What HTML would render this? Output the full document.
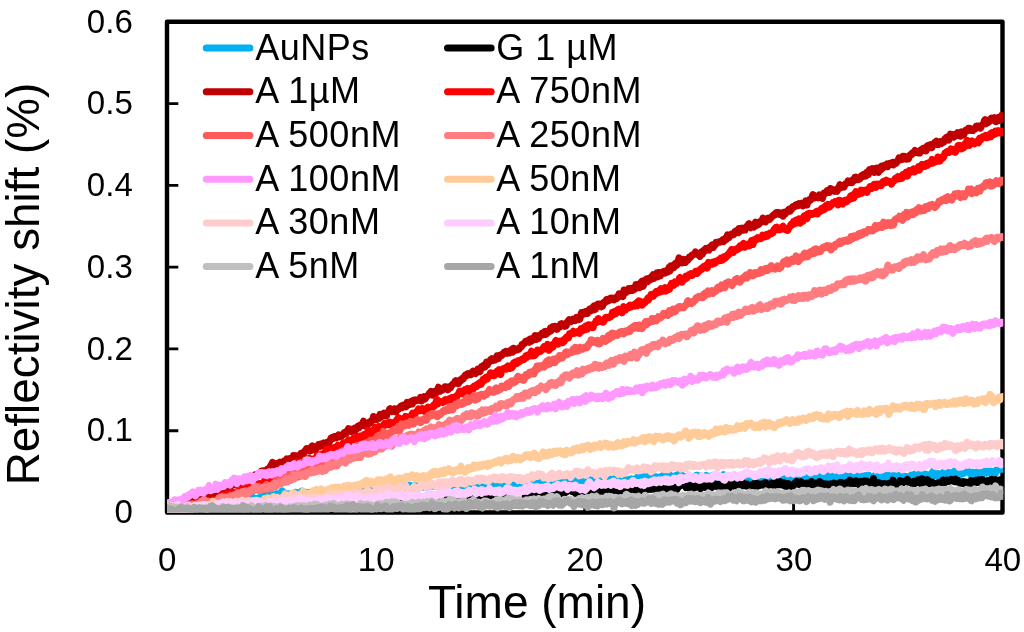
<!DOCTYPE html>
<html lang="en"><head><meta charset="utf-8"><title>Reflectivity shift vs time</title>
<style>
html,body{margin:0;padding:0;background:#fff}
body{width:1024px;height:632px;overflow:hidden}
svg{display:block}
text{font-family:"Liberation Sans",sans-serif;fill:#000}
.lg text{font-size:36px;letter-spacing:.5px}
.tk text{font-size:33.4px}
.ax{font-size:46px}
.ay{font-size:45.85px}
</style></head><body>
<svg width="1024" height="632" viewBox="0 0 1024 632">
<rect width="1024" height="632" fill="#fff"/>
<rect x="167.0" y="21.8" width="835.5" height="490.7" fill="none" stroke="#000" stroke-width="4.4" stroke-linejoin="round"/>
<path d="M167.0,430.7h11.3M167.0,348.9h11.3M167.0,267.1h11.3M167.0,185.4h11.3M167.0,103.6h11.3M375.9,512.5v-11.3M584.8,512.5v-11.3M793.6,512.5v-11.3" stroke="#000" stroke-width="2.9" fill="none"/>
<clipPath id="pa"><rect x="167.0" y="21.8" width="836.3" height="490.7"/></clipPath>
<g clip-path="url(#pa)" fill="none" stroke-width="7.0" stroke-linejoin="round" stroke-linecap="round">
<path stroke="#00B0F0" d="M167,504.7 167.5,505.9 168,506 168.5,507.3 169,507.7 169.5,506.4 170,504.5 170.5,506 171,507.3 171.5,507 172,505.7 172.5,506.1 173,506 173.5,506.7 174,508.2 174.5,507.1 175,507.5 175.5,508.2 176,506.9 176.5,506.8 177,507.1 177.5,506.5 178,505.5 178.5,506.9 179,507.7 179.5,506 180,507.4 180.5,507.3 181,507.2 181.5,509.4 182,508.2 182.5,506 183,506.7 183.5,507.2 184,506.6 184.5,506.8 185,506.4 185.5,507 186,507.2 186.5,505.4 187,505.3 187.5,505.1 188,505 188.5,504.1 189,504.5 189.5,505.5 190,506.9 190.5,506.6 191,504.1 191.5,504.1 192,504.6 192.5,502.6 193,503.1 193.5,504.2 194,505.2 194.5,504.4 195,502.8 195.5,502.2 196,502.7 196.5,503.8 197,502.3 197.5,501.9 198,502.5 198.5,502.2 199,501.7 199.5,501.2 200,502.1 200.5,502.8 201,504.4 201.5,504.4 202,503.9 202.5,504.2 203,504 203.5,504.9 204,504.6 204.5,504.3 205,503.1 205.5,503.5 206,501.7 206.5,501.3 207,502.8 207.5,503.2 208,504.9 208.5,506.4 209,503.8 209.5,503.2 210,504.1 210.5,504.2 211,503.4 211.5,503.2 212,503.8 212.5,503.1 213,501.4 213.5,501.7 214,501.5 214.5,500.5 215,500.9 215.5,500.6 216,501.8 216.5,501.4 217,500.7 217.5,500 218,499.6 218.5,498 219,498.7 219.5,499.7 220,498.7 220.5,500.1 221,499.4 221.5,500.8 222,500.8 222.5,502 223,501.5 223.5,500.7 224,503.3 224.5,504.1 225,502.6 225.5,501.9 226,501.7 226.5,501.6 227,503 227.5,502.1 228,501.8 228.5,501.1 229,500.7 229.5,500.9 230,502.8 230.5,502.4 231,502.7 231.5,501.7 232,500.6 232.5,500.5 233,500.4 233.5,500.6 234,500.2 234.5,499.6 235,498.5 235.5,499.6 236,501.5 236.5,499.7 237,499 237.5,500.8 238,501.4 238.5,499.1 239,499.2 239.5,498.6 240,498 240.5,499.7 241,499.6 241.5,498.8 242,498.1 242.5,498.6 243,497.9 243.5,497.6 244,496.7 244.5,497.2 245,499.4 245.5,498.8 246,499.1 246.5,499 247,498.5 247.5,498.7 248,499.5 248.5,498.9 249,498.7 249.5,499.2 250,500.1 250.5,499.7 251,498.7 251.5,497.1 252,496.5 252.5,498.6 253,499 253.5,498 254,498.4 254.5,499 255,499.4 255.5,499.2 256,498.7 256.5,499.6 257,498.3 257.5,499.6 258,500.2 258.5,500.8 259,501.9 259.5,500.8 260,497.5 260.5,496.8 261,498.5 261.5,497.7 262,498.3 262.5,498.5 263,495.8 263.5,495.1 264,497.2 264.5,497.5 265,497 265.5,496.6 266,495.2 266.5,494.4 267,495.1 267.5,494.2 268,493.8 268.5,495.6 269,495.8 269.5,495.6 270,494.4 270.5,494.1 271,493.9 271.5,494.2 272,495.1 272.5,494.8 273,495.6 273.5,496.6 274,497.1 274.5,494.9 275,495.8 275.5,495.6 276,494.8 276.5,493.7 277,494.7 277.5,496.1 278,495.8 278.5,495.6 279,495.9 279.5,496.9 280,495.4 280.5,493.1 281,493.4 281.5,491.9 282,490.8 282.5,493.6 283,495.9 283.5,494.4 284,492.4 284.5,492.8 285,494.6 285.5,494.2 286,493.8 286.5,493.8 287,494.3 287.5,495.3 288,495.4 288.5,494.7 289,494 289.5,494.9 290,494.9 290.5,495.6 291,494.2 291.5,494.7 292,494.8 292.5,494.6 293,497.3 293.5,497.4 294,495.6 294.5,496 295,494.8 295.5,492.3 296,494 296.5,494.5 297,493.9 297.5,492.7 298,492.9 298.5,493.5 299,494.5 299.5,493.7 300,493.5 300.5,494.2 301,492.5 301.5,491.3 302,491.1 302.5,494 303,494.5 303.5,494.1 304,493.5 304.5,492.9 305,492.7 305.5,492.3 306,492.4 306.5,493.3 307,494.8 307.5,494.2 308,493.2 308.5,492.5 309,493.1 309.5,495.2 310,494.7 310.5,493.8 311,492.9 311.5,492.4 312,493.6 312.5,494.5 313,493.4 313.5,493 314,493.1 314.5,492.6 315,491.2 315.5,491.6 316,491.8 316.5,492.7 317,491.9 317.5,493 318,493.7 318.5,492 319,491.3 319.5,492.1 320,491.9 320.5,491.4 321,493.2 321.5,494.6 322,492.7 322.5,491.7 323,491.3 323.5,492 324,491 324.5,491.7 325,493.7 325.5,493.2 326,494.9 326.5,495.8 327,494.7 327.5,495 328,495.7 328.5,493.5 329,491.8 329.5,491 330,492.5 330.5,494.1 331,493.2 331.5,490.8 332,490.1 332.5,490.6 333,491.2 333.5,490.9 334,491 334.5,490.9 335,490.2 335.5,490.3 336,490.6 336.5,490.7 337,491.8 337.5,493.2 338,492.3 338.5,490.9 339,489.8 339.5,490.7 340,489.3 340.5,490 341,492.7 341.5,493.1 342,491.7 342.5,490.2 343,491 343.5,491.6 344,493.4 344.5,494.8 345,492.6 345.5,490.5 346,489.9 346.5,490.8 347,490.6 347.5,489.9 348,490.5 348.5,490.5 349,492.6 349.5,493.5 350,493.1 350.5,491.9 351,492.2 351.5,491.7 352,491.1 352.5,490.6 353,489.3 353.5,489.5 354,491.4 354.5,491.1 355,491.4 355.5,491.4 356,489 356.5,489.4 357,490.9 357.5,491.2 358,490.9 358.5,491.8 359,490.9 359.5,489 360,489.4 360.5,491.1 361,490.4 361.5,488.8 362,491 362.5,491.5 363,491.4 363.5,489.7 364,488.9 364.5,489.4 365,492.1 365.5,491.3 366,491.5 366.5,490.2 367,489.7 367.5,488.6 368,489.8 368.5,491 369,489.9 369.5,491.3 370,490.8 370.5,489.1 371,489.1 371.5,489.3 372,489.4 372.5,488.8 373,488.4 373.5,488.5 374,487.8 374.5,487.8 375,489.4 375.5,490.2 376,488.7 376.5,489.4 377,489.3 377.5,489.5 378,490.9 378.5,490.7 379,491.4 379.5,489.9 380,489.8 380.5,488.9 381,488.2 381.5,488.8 382,488.4 382.5,488.5 383,487.5 383.5,486.4 384,487.1 384.5,487.9 385,488.3 385.5,486.9 386,486.6 386.5,485.8 387,487.1 387.5,485.7 388,484.8 388.5,486.8 389,487.8 389.5,485.5 390,485.3 390.5,485.7 391,486 391.5,487.1 392,486.3 392.5,486.4 393,487.2 393.5,486.5 394,486.7 394.5,485.5 395,484.5 395.5,485.2 396,488.2 396.5,487.5 397,487.2 397.5,487.2 398,487.2 398.5,487.7 399,488.5 399.5,485.7 400,484.3 400.5,484.6 401,485.2 401.5,487.5 402,487.8 402.5,485.9 403,485.2 403.5,486.9 404,487.6 404.5,484.9 405,486.3 405.5,486.5 406,487.4 406.5,486.2 407,485.9 407.5,485.1 408,486.2 408.5,488.9 409,488.8 409.5,487.2 410,486 410.5,485.4 411,486.9 411.5,487.8 412,487.8 412.5,487.3 413,486.4 413.5,486.9 414,487.5 414.5,488.9 415,488.9 415.5,486.5 416,485.1 416.5,485.3 417,484.8 417.5,484.6 418,485 418.5,484.8 419,486.1 419.5,486.2 420,486.3 420.5,485.9 421,485.3 421.5,485.3 422,486.1 422.5,486.4 423,487.2 423.5,486.9 424,486 424.5,486.6 425,486 425.5,486.4 426,486.4 426.5,485.4 427,487 427.5,487.6 428,486.9 428.5,486.3 429,485.7 429.5,485 430,485.2 430.5,485.3 431,485.3 431.5,484.7 432,485.9 432.5,486.3 433,486 433.5,486.1 434,486.3 434.5,484.9 435,486.2 435.5,486.5 436,486.3 436.5,485.9 437,484.7 437.5,485 438,486 438.5,486.1 439,485.2 439.5,484.1 440,486 440.5,487.4 441,487.2 441.5,485.7 442,484.4 442.5,486 443,484.8 443.5,482.9 444,484.4 444.5,483.4 445,483.2 445.5,484.6 446,486.2 446.5,485.4 447,486.1 447.5,487.9 448,487.8 448.5,485.9 449,484.9 449.5,484 450,484.6 450.5,486 451,486.1 451.5,486 452,486 452.5,484.4 453,484.6 453.5,485.4 454,485.5 454.5,485.5 455,484.5 455.5,483.5 456,483.4 456.5,481.9 457,481.6 457.5,483.6 458,484 458.5,483.6 459,482.2 459.5,483 460,483.3 460.5,482.5 461,481.7 461.5,483.8 462,485.7 462.5,485.4 463,484.4 463.5,485.1 464,484.9 464.5,482.4 465,484.3 465.5,486 466,486.8 466.5,487.8 467,487.3 467.5,486.3 468,486.2 468.5,486.4 469,485.4 469.5,485.9 470,487.6 470.5,488.2 471,486.2 471.5,485.4 472,485.9 472.5,486.4 473,485.5 473.5,485.4 474,483.3 474.5,483 475,483.5 475.5,484.6 476,484.3 476.5,482 477,482.4 477.5,483.8 478,483 478.5,482.7 479,484.9 479.5,485.2 480,484.5 480.5,483.9 481,484.6 481.5,484.3 482,484.6 482.5,483.1 483,483 483.5,484 484,484 484.5,485.1 485,484.8 485.5,483.7 486,484.1 486.5,484.4 487,485 487.5,483.8 488,484 488.5,486.2 489,487.7 489.5,487.1 490,484.9 490.5,484.8 491,485.7 491.5,484 492,482.9 492.5,483.8 493,484 493.5,482.4 494,481 494.5,481.6 495,483.3 495.5,482.6 496,482.7 496.5,483.4 497,483.4 497.5,482.7 498,482.6 498.5,481.5 499,481.2 499.5,481.4 500,483.1 500.5,482.4 501,481.5 501.5,481.8 502,482.5 502.5,482.9 503,481 503.5,481.1 504,483.1 504.5,485.9 505,484.9 505.5,483.5 506,484.5 506.5,485.5 507,483.5 507.5,483.2 508,484.7 508.5,484.6 509,484.1 509.5,483.8 510,485.8 510.5,485.9 511,484.5 511.5,483 512,481 512.5,482.5 513,482.7 513.5,483.1 514,483.2 514.5,481.8 515,480.8 515.5,482.3 516,482.2 516.5,482.4 517,482.7 517.5,482.5 518,482.1 518.5,485.1 519,485.8 519.5,486.8 520,487.3 520.5,484.7 521,482 521.5,481.9 522,481.7 522.5,482 523,481.7 523.5,480 524,480.8 524.5,480 525,481 525.5,481.2 526,481.1 526.5,481.4 527,481.3 527.5,481.1 528,480.9 528.5,483.3 529,486.2 529.5,486.8 530,485.9 530.5,484.4 531,483.2 531.5,484.1 532,482.9 532.5,481.9 533,481.4 533.5,481.3 534,480.7 534.5,480.4 535,479.6 535.5,480.9 536,483.2 536.5,481.5 537,480.9 537.5,481.8 538,481.7 538.5,480.3 539,481.2 539.5,482.7 540,482.6 540.5,482.9 541,483.8 541.5,482.4 542,482.4 542.5,482.9 543,483.7 543.5,481.3 544,481.6 544.5,482.8 545,484.1 545.5,484.8 546,484.5 546.5,482.3 547,483.2 547.5,482.6 548,482 548.5,482.4 549,480.7 549.5,479.3 550,480.2 550.5,479.8 551,480.7 551.5,482 552,482.8 552.5,483.5 553,481.4 553.5,479.5 554,479.6 554.5,479.4 555,479.5 555.5,480.7 556,479.5 556.5,478.7 557,480.9 557.5,481.3 558,481.7 558.5,482.1 559,482.6 559.5,482.9 560,483.9 560.5,483.6 561,483.3 561.5,482.6 562,481 562.5,481.5 563,481.8 563.5,481.5 564,480.8 564.5,482.7 565,481.4 565.5,479.1 566,478.4 566.5,479.7 567,480.2 567.5,479.8 568,480.3 568.5,480.4 569,481.1 569.5,480.5 570,481.3 570.5,483.3 571,484.2 571.5,481.1 572,480.2 572.5,480.6 573,481.4 573.5,480.1 574,480.3 574.5,480.7 575,479.8 575.5,479.7 576,479.7 576.5,478.4 577,479 577.5,480.6 578,481.5 578.5,480.8 579,479.4 579.5,480.8 580,482.5 580.5,482.6 581,481.6 581.5,481.2 582,482.4 582.5,481.6 583,480.9 583.5,482 584,484.3 584.5,484.1 585,484.1 585.5,483.1 586,483.3 586.5,482.1 587,482.7 587.5,484.9 588,483.3 588.5,481.4 589,481.4 589.5,482.4 590,483 590.5,481.2 591,479.9 591.5,481.2 592,482.1 592.5,482.7 593,483.6 593.5,482.9 594,482.2 594.5,480.7 595,482.4 595.5,483.7 596,482.3 596.5,481 597,481.2 597.5,481.8 598,479.7 598.5,479.8 599,480.9 599.5,481 600,480.2 600.5,480.4 601,480.3 601.5,480.5 602,480 602.5,479.3 603,480.5 603.5,481.3 604,479.9 604.5,480.4 605,481.1 605.5,480 606,480.2 606.5,480 607,482.2 607.5,484.1 608,483.2 608.5,480.8 609,480.7 609.5,480.2 610,480.4 610.5,480.8 611,479.1 611.5,480.2 612,480.4 612.5,481.1 613,480.1 613.5,479.1 614,480 614.5,480.7 615,480.3 615.5,480.3 616,478.9 616.5,477.9 617,480.6 617.5,481.4 618,480.7 618.5,480.9 619,481.4 619.5,480.2 620,479.6 620.5,480.7 621,481.5 621.5,480.1 622,481.3 622.5,480 623,479.6 623.5,481.4 624,480.2 624.5,478.7 625,479.7 625.5,481.5 626,481.7 626.5,480.3 627,480.7 627.5,480.9 628,479.9 628.5,480.3 629,480 629.5,479.3 630,479.3 630.5,479.8 631,479.6 631.5,478.9 632,479.2 632.5,480.5 633,480.1 633.5,480.5 634,480.6 634.5,480.5 635,480.8 635.5,478.6 636,478.9 636.5,479.1 637,481.1 637.5,480.5 638,476.8 638.5,477.1 639,479.1 639.5,479.5 640,478.8 640.5,477.6 641,477.6 641.5,477.4 642,476.8 642.5,476.4 643,474.3 643.5,475.7 644,475.9 644.5,477.3 645,476.8 645.5,476.4 646,477.4 646.5,476.7 647,476.2 647.5,476.1 648,477.7 648.5,478.9 649,479 649.5,478.2 650,478.5 650.5,477.6 651,477.2 651.5,478 652,478.2 652.5,476.9 653,476.6 653.5,476.8 654,476.8 654.5,476.6 655,477.9 655.5,477.5 656,477.5 656.5,476.9 657,477.8 657.5,477.9 658,477.9 658.5,479.6 659,479.1 659.5,479.6 660,478.6 660.5,476.6 661,476.6 661.5,477.5 662,477.5 662.5,477.3 663,476.4 663.5,475.2 664,475.6 664.5,474.8 665,476.3 665.5,475.9 666,475.5 666.5,476.1 667,476.1 667.5,474.3 668,473.6 668.5,474 669,473.8 669.5,475.7 670,478 670.5,476.8 671,477 671.5,476 672,476.8 672.5,476.7 673,476.9 673.5,477.9 674,478.8 674.5,477.5 675,476.4 675.5,475.7 676,476.6 676.5,476.5 677,476.9 677.5,476.8 678,476.9 678.5,474 679,474.9 679.5,476.3 680,475.3 680.5,474.7 681,474.9 681.5,474.7 682,477 682.5,479.9 683,478.9 683.5,476.4 684,476.3 684.5,477.8 685,479.1 685.5,477.9 686,478.2 686.5,480 687,480.2 687.5,478.5 688,477 688.5,476.4 689,476.4 689.5,476 690,478 690.5,477.9 691,479 691.5,480.7 692,479.6 692.5,477.6 693,479.1 693.5,479.5 694,477.5 694.5,476.9 695,477.1 695.5,476.8 696,478 696.5,475.2 697,475.3 697.5,476.6 698,477 698.5,477.5 699,477.7 699.5,477.8 700,478 700.5,475.8 701,476.8 701.5,477.1 702,477.8 702.5,477.7 703,476.4 703.5,476.6 704,477.8 704.5,477.2 705,476.7 705.5,479.1 706,478.9 706.5,475.4 707,476.8 707.5,479.3 708,478.2 708.5,477 709,476.4 709.5,476.2 710,476.5 710.5,476.8 711,477.7 711.5,476.8 712,476 712.5,475.4 713,475.8 713.5,475.4 714,476.1 714.5,477.3 715,477 715.5,476.8 716,476.7 716.5,476.3 717,476.1 717.5,476.3 718,476.9 718.5,476.4 719,478 719.5,477.3 720,476.2 720.5,476.2 721,476.4 721.5,477 722,477.1 722.5,478.2 723,476.3 723.5,474.7 724,475.4 724.5,475.3 725,477.4 725.5,479.2 726,478.4 726.5,476.4 727,477.3 727.5,479.8 728,479.2 728.5,478.8 729,480.4 729.5,481.9 730,480.8 730.5,479.1 731,478.9 731.5,478.6 732,476.9 732.5,476 733,476.4 733.5,475.8 734,476.2 734.5,477.4 735,478.8 735.5,476.5 736,476.4 736.5,477.1 737,478.2 737.5,478.8 738,477.5 738.5,476.5 739,475.9 739.5,476.9 740,478.5 740.5,478 741,476.7 741.5,477 742,477.7 742.5,477.7 743,476.7 743.5,475.9 744,474.4 744.5,475.4 745,477.2 745.5,474.6 746,475.4 746.5,476.5 747,476 747.5,475.7 748,476.6 748.5,477.2 749,476.7 749.5,475.6 750,476.7 750.5,476.8 751,477.2 751.5,478.2 752,478.9 752.5,478.7 753,477.6 753.5,478.6 754,479.2 754.5,479.2 755,478.8 755.5,477.2 756,476.9 756.5,477.1 757,475.6 757.5,476.3 758,476.1 758.5,475.5 759,474.4 759.5,475.3 760,477 760.5,478.4 761,478.6 761.5,477.6 762,477 762.5,476.9 763,477.9 763.5,478.1 764,479.3 764.5,480.4 765,478.6 765.5,476.8 766,476.9 766.5,476.6 767,477.6 767.5,480 768,479.1 768.5,477.5 769,479.3 769.5,480 770,478.2 770.5,477.3 771,477.6 771.5,478.3 772,478.9 772.5,479.4 773,479.4 773.5,479.2 774,478.9 774.5,477.2 775,475 775.5,475.8 776,476.5 776.5,476.4 777,477.1 777.5,476.1 778,476 778.5,478.2 779,478.3 779.5,478 780,479 780.5,479.4 781,478 781.5,475.6 782,476.8 782.5,477.6 783,477.5 783.5,479 784,479.8 784.5,478.1 785,477.8 785.5,480 786,478 786.5,476.6 787,477.7 787.5,477.8 788,476.9 788.5,477.4 789,476.1 789.5,475.2 790,476.2 790.5,476.5 791,475.4 791.5,475.7 792,476.6 792.5,478.4 793,476.5 793.5,477.1 794,476.3 794.5,476 795,477 795.5,477.6 796,477.7 796.5,476.5 797,475.2 797.5,475.4 798,476.7 798.5,477.6 799,478.3 799.5,477.9 800,478.5 800.5,478.9 801,477.1 801.5,475 802,474.6 802.5,475.6 803,477.9 803.5,477.2 804,478.4 804.5,479 805,479.8 805.5,479.1 806,477.7 806.5,477.3 807,477.5 807.5,477.3 808,476.6 808.5,477.3 809,477.9 809.5,475.5 810,476 810.5,475.9 811,477 811.5,478 812,477.8 812.5,477.7 813,476.7 813.5,478.4 814,478.2 814.5,478.9 815,477.9 815.5,475.4 816,476.7 816.5,478.8 817,480 817.5,479 818,477.7 818.5,476.8 819,479.2 819.5,479.8 820,477.8 820.5,476.3 821,475.5 821.5,478.4 822,480.5 822.5,479.3 823,479 823.5,477.9 824,476.9 824.5,478 825,476.5 825.5,476.9 826,478.1 826.5,478.7 827,478.4 827.5,477.8 828,476.3 828.5,475.8 829,476.8 829.5,476.3 830,475.5 830.5,475.8 831,476.4 831.5,475.6 832,475.8 832.5,476.5 833,478.6 833.5,480.2 834,480.8 834.5,477.9 835,478 835.5,479.5 836,478.6 836.5,478.6 837,479.8 837.5,477.8 838,475.9 838.5,475.8 839,477.4 839.5,477.3 840,475.7 840.5,476.3 841,478.3 841.5,478.8 842,478.3 842.5,479.4 843,479.1 843.5,477.1 844,478 844.5,478.8 845,477.1 845.5,475.5 846,477 846.5,478.9 847,478.7 847.5,476.5 848,478.9 848.5,477.3 849,478.2 849.5,479.1 850,478.6 850.5,477.2 851,476.2 851.5,477.2 852,475.9 852.5,475.6 853,480 853.5,480.2 854,479.6 854.5,477.9 855,479.5 855.5,480.3 856,479.7 856.5,477.4 857,475.8 857.5,475.7 858,474 858.5,474.4 859,476.1 859.5,475.9 860,476.4 860.5,477.4 861,479.4 861.5,478.9 862,477.6 862.5,477.7 863,476.2 863.5,476.4 864,477.2 864.5,475.8 865,475.8 865.5,475.6 866,477.4 866.5,478.8 867,477.1 867.5,476.9 868,475.8 868.5,475 869,475.6 869.5,478.7 870,479.9 870.5,477.7 871,476.3 871.5,477.2 872,477.1 872.5,477.9 873,477.8 873.5,477.8 874,477.7 874.5,476.6 875,475.8 875.5,474.7 876,475.2 876.5,475 877,475.7 877.5,475.7 878,476.7 878.5,477 879,475.4 879.5,475.5 880,476.3 880.5,478.5 881,479.8 881.5,478.7 882,477.6 882.5,477.9 883,476.3 883.5,477.6 884,475.6 884.5,474.4 885,479.1 885.5,478.9 886,476.1 886.5,476.3 887,476.4 887.5,476.1 888,474.7 888.5,475.4 889,476.8 889.5,477.3 890,477.8 890.5,477.7 891,478.6 891.5,476.5 892,475.8 892.5,474.2 893,475.2 893.5,477.6 894,476.8 894.5,477.4 895,477 895.5,475.9 896,476.2 896.5,476.2 897,476.5 897.5,477.7 898,477.5 898.5,475.9 899,475.5 899.5,476.5 900,477 900.5,478.8 901,480.4 901.5,478.9 902,477.4 902.5,476.9 903,476.1 903.5,475.8 904,475.9 904.5,476.5 905,477.1 905.5,478 906,477.2 906.5,476.6 907,476.6 907.5,478.8 908,479 908.5,479.4 909,478.8 909.5,478.2 910,476.6 910.5,477.3 911,478.1 911.5,475.1 912,476.2 912.5,477 913,475.8 913.5,475.9 914,475.9 914.5,474.3 915,474.4 915.5,473.4 916,473.2 916.5,473.5 917,474.2 917.5,474.8 918,474.6 918.5,473.8 919,476.5 919.5,476.6 920,475.3 920.5,473.9 921,473.9 921.5,474.6 922,473.9 922.5,472.5 923,475.3 923.5,476.9 924,473.6 924.5,474.9 925,475.3 925.5,475.3 926,476 926.5,474.4 927,475.5 927.5,476.9 928,475.4 928.5,474.7 929,474.8 929.5,474.9 930,475.8 930.5,474.2 931,474.3 931.5,473.3 932,474.3 932.5,473.3 933,471.3 933.5,473 934,473.2 934.5,474.3 935,475.8 935.5,473.6 936,473.6 936.5,475.9 937,475.8 937.5,476.4 938,475.1 938.5,473.6 939,474.5 939.5,476.1 940,475.8 940.5,474.6 941,474.1 941.5,473.6 942,473.8 942.5,475.5 943,473.8 943.5,472 944,472.8 944.5,474.4 945,474.5 945.5,473.5 946,473 946.5,472.9 947,471.4 947.5,471.9 948,473.8 948.5,473.2 949,473.8 949.5,474.7 950,474 950.5,473.7 951,475.2 951.5,474 952,472.7 952.5,473.5 953,473.1 953.5,472 954,472.5 954.5,471.9 955,470.6 955.5,471.9 956,472.4 956.5,471.8 957,470.9 957.5,472.1 958,473 958.5,472.8 959,472.2 959.5,473 960,472 960.5,473 961,474.3 961.5,472.8 962,472.8 962.5,474 963,472.9 963.5,472.6 964,473.3 964.5,473 965,470 965.5,470.1 966,470.2 966.5,470.1 967,470.3 967.5,470.9 968,471.8 968.5,471.5 969,472.5 969.5,472.9 970,472.3 970.5,473.6 971,475.2 971.5,474 972,472.7 972.5,472.7 973,472.3 973.5,473.5 974,473.9 974.5,472.5 975,473 975.5,474.1 976,473 976.5,472.7 977,471.7 977.5,471.6 978,472.9 978.5,475 979,473.2 979.5,472.1 980,472.2 980.5,472.9 981,473.8 981.5,474.2 982,475.3 982.5,474.3 983,474.5 983.5,473.7 984,472.9 984.5,471.3 985,472.1 985.5,472.7 986,472 986.5,471 987,473.2 987.5,472.8 988,472.3 988.5,472.4 989,472.5 989.5,472.5 990,470.9 990.5,470.9 991,472.3 991.5,472.3 992,471.7 992.5,471.2 993,471.2 993.5,472.4 994,473.1 994.5,472 995,473.6 995.5,473.2 996,471.8 996.5,471.7 997,469.3 997.5,468.1 998,468.6 998.5,469.5 999,469.6 999.5,469.5 1000,469.1 1000.5,467.8 1001,469.2 1001.5,468.4 1002,468.6 1002.5,469.0"/>
<path stroke="#000000" d="M167,512 167.5,511.6 168,508.1 168.5,508.9 169,511.3 169.5,509.3 170,507.7 170.5,508.5 171,508.6 171.5,508.3 172,508 172.5,508.1 173,508.5 173.5,509.2 174,508.8 174.5,509.3 175,510.4 175.5,511.9 176,511.2 176.5,510.5 177,510.7 177.5,510.8 178,510.9 178.5,510.7 179,511.5 179.5,510.9 180,509 180.5,508.6 181,509.8 181.5,509.8 182,508.5 182.5,506.7 183,506.5 183.5,508.8 184,510 184.5,509.3 185,507.7 185.5,508.9 186,508.4 186.5,508.9 187,508.9 187.5,507.8 188,507.2 188.5,506.2 189,506.7 189.5,507 190,509 190.5,509.7 191,510.3 191.5,509.7 192,508.7 192.5,509.1 193,509 193.5,509.6 194,509.2 194.5,508 195,508.6 195.5,508.9 196,509 196.5,510.5 197,511.2 197.5,509.4 198,508.1 198.5,506.9 199,508.5 199.5,508.3 200,507.2 200.5,509.2 201,509.7 201.5,508.2 202,507.6 202.5,507.5 203,508 203.5,506.4 204,507.5 204.5,509.5 205,508.2 205.5,507.6 206,506.6 206.5,505.6 207,506.5 207.5,506.9 208,506.1 208.5,507.4 209,508.9 209.5,508.1 210,505.5 210.5,505 211,505.6 211.5,508.2 212,508.7 212.5,508.1 213,506.3 213.5,505.8 214,506.9 214.5,506.9 215,506.1 215.5,506.9 216,507.6 216.5,506.8 217,504.8 217.5,503.9 218,505.8 218.5,506.9 219,506.7 219.5,506.5 220,506.9 220.5,508.3 221,508.2 221.5,507.9 222,507 222.5,507.3 223,507.9 223.5,506.8 224,506.5 224.5,507.9 225,509.6 225.5,509.5 226,510.1 226.5,508.8 227,507.8 227.5,506.9 228,508.2 228.5,510.3 229,510 229.5,510 230,509.8 230.5,508.9 231,508.5 231.5,508.9 232,509.5 232.5,509.4 233,509.1 233.5,508.3 234,507.3 234.5,507.2 235,507.4 235.5,508.2 236,506.3 236.5,508.3 237,511 237.5,508.7 238,507.3 238.5,508.7 239,509.9 239.5,508.9 240,508.9 240.5,508.3 241,508.7 241.5,511.1 242,508.6 242.5,506.7 243,506.7 243.5,507.6 244,507.9 244.5,507.9 245,506.5 245.5,505.1 246,506.1 246.5,505.7 247,504.8 247.5,503.7 248,504.2 248.5,504.6 249,504.8 249.5,504.2 250,505.4 250.5,505.7 251,504.6 251.5,504.6 252,505.1 252.5,505.6 253,503.1 253.5,503.6 254,503.2 254.5,504.3 255,505.5 255.5,504.5 256,504.5 256.5,504.7 257,507.2 257.5,507.4 258,506.6 258.5,504.4 259,504.8 259.5,507.1 260,506.7 260.5,506.6 261,506.7 261.5,506 262,507.3 262.5,507.3 263,507.1 263.5,506.3 264,506.7 264.5,506.3 265,507.7 265.5,508.4 266,508 266.5,507.5 267,506.2 267.5,503.8 268,506 268.5,506.1 269,505.9 269.5,505.1 270,504.1 270.5,505 271,506.8 271.5,507.2 272,505.1 272.5,504.9 273,506.5 273.5,505.9 274,507.6 274.5,506.3 275,505.3 275.5,507.4 276,507.8 276.5,505.8 277,507.4 277.5,507.1 278,507.7 278.5,505.9 279,504.7 279.5,506.7 280,508.2 280.5,509.4 281,508.9 281.5,507.1 282,505.5 282.5,504.8 283,504.7 283.5,504.4 284,504.1 284.5,502.9 285,505.1 285.5,506.9 286,509.1 286.5,507.6 287,506 287.5,506 288,504.6 288.5,504.2 289,504.2 289.5,507.1 290,506.8 290.5,505.1 291,506.1 291.5,507.5 292,507.4 292.5,506.6 293,505.2 293.5,505.1 294,506.1 294.5,506.5 295,504.6 295.5,504.5 296,506.1 296.5,505.4 297,506.6 297.5,506.6 298,507.4 298.5,508.1 299,507.3 299.5,506.3 300,504.5 300.5,504.6 301,506.3 301.5,507.6 302,507.9 302.5,507.9 303,505.9 303.5,505.1 304,505.4 304.5,504.4 305,503.5 305.5,503.1 306,504.1 306.5,503.2 307,503.5 307.5,503 308,504.3 308.5,503.6 309,504 309.5,502.5 310,503.4 310.5,504.9 311,503.7 311.5,503.7 312,502.7 312.5,501.4 313,503.6 313.5,504 314,502.9 314.5,503.7 315,502.7 315.5,502.4 316,503.2 316.5,504 317,505.7 317.5,503.5 318,504.8 318.5,504.9 319,501.9 319.5,501.9 320,504.1 320.5,504 321,504.7 321.5,505.1 322,503.4 322.5,501.4 323,500.3 323.5,502.4 324,502.7 324.5,503.6 325,503.5 325.5,503 326,505.8 326.5,506.4 327,505.4 327.5,503.7 328,504 328.5,504.4 329,504.5 329.5,504.4 330,505.9 330.5,506.2 331,505.9 331.5,505.4 332,506.4 332.5,504.5 333,501.3 333.5,502.5 334,504 334.5,504.7 335,503.6 335.5,503.1 336,503.2 336.5,504.2 337,503.5 337.5,503 338,503.3 338.5,504.4 339,503.3 339.5,502.5 340,504.1 340.5,503.9 341,504.5 341.5,505.2 342,506 342.5,505.5 343,503.8 343.5,503.3 344,503.3 344.5,505.6 345,505.6 345.5,505.5 346,503.3 346.5,502 347,504.6 347.5,504.3 348,503.8 348.5,503.9 349,504.6 349.5,504 350,502.7 350.5,504.4 351,503.8 351.5,504.2 352,506.4 352.5,505.9 353,503.7 353.5,502.2 354,503.9 354.5,504.6 355,503.5 355.5,502 356,501.8 356.5,501.9 357,503.5 357.5,504.7 358,504.5 358.5,503 359,503.5 359.5,503.8 360,502.9 360.5,503.7 361,505.6 361.5,504.5 362,504.1 362.5,503 363,502.3 363.5,501.1 364,502.6 364.5,504.8 365,505.8 365.5,504.9 366,503.7 366.5,502.6 367,501.8 367.5,502.3 368,502.8 368.5,502.3 369,503.1 369.5,501.4 370,500.2 370.5,500.6 371,500.3 371.5,501.2 372,503.5 372.5,502.9 373,503 373.5,504 374,503.6 374.5,502.1 375,502.9 375.5,502.1 376,501.3 376.5,500.8 377,499.1 377.5,499.3 378,500.5 378.5,501.2 379,500.6 379.5,501 380,502.6 380.5,503.4 381,503.2 381.5,503.1 382,501.6 382.5,501.4 383,502 383.5,501.5 384,501.8 384.5,503.4 385,501.8 385.5,500.8 386,502.5 386.5,503.7 387,502.5 387.5,502.3 388,500.6 388.5,499.6 389,499.4 389.5,500.4 390,501.5 390.5,499.8 391,500.7 391.5,499 392,499.2 392.5,500.5 393,500.4 393.5,499.2 394,497.7 394.5,498.7 395,499.3 395.5,501.8 396,500.4 396.5,499.4 397,498.5 397.5,498.5 398,498.8 398.5,500.7 399,500.6 399.5,500.8 400,500 400.5,500.7 401,502.1 401.5,500.3 402,499.6 402.5,501.3 403,500.8 403.5,501.5 404,502.6 404.5,501.7 405,502.3 405.5,501.8 406,503.3 406.5,502.9 407,500.7 407.5,499.7 408,499.2 408.5,500.1 409,500.3 409.5,498.5 410,499.2 410.5,497.8 411,497.3 411.5,498 412,501.2 412.5,500.5 413,499.6 413.5,499.2 414,499.4 414.5,497.2 415,499 415.5,501 416,499.1 416.5,498.7 417,499.1 417.5,498 418,498.7 418.5,499.8 419,499.5 419.5,499.2 420,498.8 420.5,499.3 421,499.9 421.5,501.2 422,500.6 422.5,498.5 423,497 423.5,499.6 424,500.2 424.5,497.9 425,496.4 425.5,497.6 426,499.4 426.5,498.1 427,498.1 427.5,499.2 428,499.9 428.5,498.7 429,497.8 429.5,497.8 430,499.6 430.5,499.1 431,497 431.5,495.2 432,495.7 432.5,496.8 433,496.2 433.5,497.1 434,496.9 434.5,496.7 435,497 435.5,496.6 436,495.5 436.5,496.9 437,499.1 437.5,496.8 438,497.3 438.5,499.1 439,498.4 439.5,497.2 440,497.2 440.5,499.3 441,500.6 441.5,500.6 442,499.5 442.5,499.2 443,497.6 443.5,497.6 444,497.3 444.5,498 445,498.9 445.5,498.7 446,497.4 446.5,498.5 447,497.3 447.5,496.5 448,497 448.5,496.6 449,498.1 449.5,499 450,499.1 450.5,499.7 451,499.4 451.5,499 452,498.2 452.5,499.1 453,498.8 453.5,498.9 454,499.4 454.5,499 455,497 455.5,496.6 456,498.1 456.5,499.1 457,499.2 457.5,499.7 458,499.8 458.5,498.7 459,497.3 459.5,495.9 460,495.7 460.5,496.5 461,497.5 461.5,497.8 462,497.7 462.5,498 463,498.9 463.5,498.9 464,499 464.5,498.7 465,497.5 465.5,497 466,498.1 466.5,498 467,496.9 467.5,497.1 468,498.5 468.5,496.2 469,495.7 469.5,495.7 470,494.7 470.5,496.1 471,498 471.5,497.4 472,496.5 472.5,496 473,495.6 473.5,495.9 474,495 474.5,494.7 475,495.7 475.5,497 476,497.3 476.5,497 477,495.7 477.5,499 478,501.2 478.5,499.9 479,497.4 479.5,496.4 480,496.6 480.5,495.9 481,496.5 481.5,496 482,497 482.5,496.6 483,493.7 483.5,494.5 484,493.9 484.5,493 485,493.7 485.5,494.9 486,495.7 486.5,494.5 487,496.9 487.5,498.6 488,497.6 488.5,496.9 489,495.9 489.5,494.9 490,496.1 490.5,496.5 491,497.4 491.5,498.7 492,497.2 492.5,496.6 493,496.7 493.5,494 494,493.5 494.5,494.3 495,494.8 495.5,495.7 496,495.8 496.5,497.6 497,497.7 497.5,496.2 498,494.9 498.5,495.5 499,495.2 499.5,493.6 500,494.5 500.5,495.1 501,495 501.5,496.1 502,495.4 502.5,493.3 503,493.3 503.5,493.1 504,493.9 504.5,493.7 505,495.2 505.5,495.7 506,496.1 506.5,494.9 507,494.5 507.5,497.1 508,496.8 508.5,497.5 509,497 509.5,497.2 510,497.8 510.5,496.8 511,496 511.5,493.8 512,494.6 512.5,493.9 513,493.4 513.5,493.4 514,494.1 514.5,494.2 515,491.4 515.5,491.7 516,492.2 516.5,493.3 517,492.6 517.5,492.7 518,492.6 518.5,493.8 519,494.3 519.5,493.3 520,492.9 520.5,492.3 521,493.9 521.5,494.6 522,493.9 522.5,494 523,491.2 523.5,490.4 524,491.4 524.5,492.8 525,493.7 525.5,493.9 526,494.2 526.5,494.7 527,493.5 527.5,492.2 528,493.2 528.5,495.2 529,492.3 529.5,493.5 530,495.6 530.5,494.6 531,493 531.5,493.6 532,494.9 532.5,494.8 533,493.3 533.5,494.2 534,494.7 534.5,495.6 535,495.7 535.5,493.6 536,492.4 536.5,494.5 537,496.3 537.5,495.4 538,495.3 538.5,496.2 539,493.9 539.5,494.1 540,493.4 540.5,493.6 541,494.3 541.5,495 542,493 542.5,492.2 543,491.9 543.5,493.4 544,493.3 544.5,493.2 545,492 545.5,492.6 546,493.9 546.5,493.3 547,493.7 547.5,493.7 548,492.4 548.5,491.8 549,493.9 549.5,494.2 550,493.7 550.5,490.8 551,489.9 551.5,489.9 552,491.7 552.5,494.1 553,494 553.5,493.3 554,493.5 554.5,494 555,493.3 555.5,493.7 556,492.8 556.5,490.9 557,492.6 557.5,494.5 558,493.2 558.5,492.7 559,492.3 559.5,492.8 560,494.1 560.5,492.9 561,490.8 561.5,489.2 562,490.6 562.5,490 563,490.4 563.5,493.2 564,492.9 564.5,490.9 565,492.7 565.5,492.6 566,491.6 566.5,491.7 567,489.7 567.5,489 568,488.7 568.5,489.5 569,490.8 569.5,489 570,488.4 570.5,489.1 571,490.4 571.5,490.8 572,491.5 572.5,490.3 573,489.5 573.5,490.5 574,491.1 574.5,490.7 575,492.2 575.5,493.3 576,491.4 576.5,491.6 577,492.4 577.5,490.6 578,489.6 578.5,489.8 579,491.4 579.5,491.9 580,491.3 580.5,491.7 581,492.9 581.5,492 582,489.9 582.5,490.6 583,491.5 583.5,491.9 584,491.1 584.5,490.6 585,490.3 585.5,489.8 586,491.2 586.5,491.7 587,492.1 587.5,491.1 588,491 588.5,490.5 589,490.8 589.5,492.2 590,491.9 590.5,491.9 591,490.9 591.5,491 592,490 592.5,490.7 593,491.5 593.5,492.6 594,492.5 594.5,492.5 595,493.3 595.5,493.2 596,493.6 596.5,493.8 597,493.1 597.5,492.9 598,493.3 598.5,493 599,493.9 599.5,494.8 600,494.1 600.5,492.2 601,490.9 601.5,491.6 602,492.1 602.5,492.5 603,491.2 603.5,491 604,491.5 604.5,490.6 605,491.3 605.5,493.4 606,493.7 606.5,492.7 607,491.7 607.5,490.9 608,492 608.5,492.2 609,492 609.5,491.5 610,491.7 610.5,491.9 611,492.7 611.5,493.7 612,492.1 612.5,489.8 613,489.5 613.5,489.4 614,490.4 614.5,492 615,491.8 615.5,490.7 616,490.7 616.5,489.4 617,488.1 617.5,487.9 618,489.3 618.5,490.9 619,489.7 619.5,491.7 620,492.3 620.5,490.9 621,490.5 621.5,490.2 622,490.9 622.5,491.6 623,491.4 623.5,492.2 624,492.4 624.5,491.4 625,490.8 625.5,490.4 626,490 626.5,489 627,489.9 627.5,489.7 628,489.5 628.5,491.2 629,488.9 629.5,488.3 630,488.8 630.5,487.3 631,487.6 631.5,487.5 632,488.2 632.5,489.6 633,490.8 633.5,491.8 634,492 634.5,492.2 635,491.3 635.5,490.5 636,491.2 636.5,489.9 637,489.8 637.5,491.6 638,491.1 638.5,490.3 639,490.6 639.5,490 640,488.1 640.5,488.4 641,488.2 641.5,489.1 642,489.5 642.5,491.2 643,490.6 643.5,489.1 644,488.9 644.5,488.2 645,489.2 645.5,489.9 646,488.7 646.5,486.6 647,487.7 647.5,489 648,489.4 648.5,489.3 649,487.7 649.5,488.4 650,488.2 650.5,488.8 651,489.4 651.5,489.3 652,488.3 652.5,488.2 653,487 653.5,487 654,488.9 654.5,488.5 655,486.9 655.5,487.6 656,489.3 656.5,491 657,490.7 657.5,489.1 658,486.5 658.5,487.4 659,488.3 659.5,488.3 660,488 660.5,488 661,490 661.5,490.1 662,488.3 662.5,488.2 663,490.6 663.5,489.7 664,491.1 664.5,491.5 665,489.1 665.5,489 666,488.8 666.5,489.2 667,489.7 667.5,490.7 668,489.5 668.5,488.7 669,489.3 669.5,488.2 670,488.6 670.5,490.4 671,488.1 671.5,487.5 672,487.8 672.5,486.3 673,485.7 673.5,487.9 674,487 674.5,486.4 675,486.3 675.5,485.5 676,485.4 676.5,487.4 677,489.6 677.5,488.5 678,486.9 678.5,484.9 679,485.1 679.5,484.9 680,486 680.5,485.5 681,485.2 681.5,484.8 682,483.8 682.5,483.3 683,484.6 683.5,483.4 684,483.4 684.5,484.5 685,485 685.5,486.4 686,487.6 686.5,487.3 687,487.3 687.5,487.6 688,487.7 688.5,486 689,487 689.5,486.2 690,485.8 690.5,486.7 691,486.9 691.5,487.8 692,487.3 692.5,484.4 693,486.2 693.5,488.7 694,488.3 694.5,487.9 695,486 695.5,483.8 696,484.2 696.5,486.4 697,486.8 697.5,485.2 698,485.4 698.5,485.4 699,484 699.5,485.5 700,488.3 700.5,488.8 701,487.2 701.5,487.5 702,485.5 702.5,483.8 703,483.1 703.5,485.4 704,485.9 704.5,487.4 705,485.8 705.5,483.9 706,482.7 706.5,484.7 707,483.9 707.5,482.8 708,482 708.5,484.9 709,485.9 709.5,484.7 710,485.3 710.5,486.2 711,486.7 711.5,486.6 712,487.3 712.5,485.5 713,484.4 713.5,483.6 714,482 714.5,483.8 715,486.3 715.5,485.9 716,485.1 716.5,485.4 717,484.1 717.5,485.6 718,487.2 718.5,487.1 719,486.1 719.5,487.5 720,488.1 720.5,486 721,485.3 721.5,482.9 722,482.4 722.5,484.8 723,485.2 723.5,485.1 724,484.7 724.5,485.4 725,487.3 725.5,488.2 726,486.1 726.5,485 727,487.3 727.5,487.6 728,487.1 728.5,487.1 729,488.2 729.5,486.5 730,485.1 730.5,482.9 731,483.3 731.5,483.8 732,484.6 732.5,484.9 733,484.8 733.5,486.1 734,484.1 734.5,484 735,484.3 735.5,483.5 736,484.9 736.5,485.2 737,485 737.5,486.4 738,485.4 738.5,484.6 739,483.2 739.5,482.4 740,483.5 740.5,484.2 741,484.7 741.5,484.8 742,482.3 742.5,482.3 743,483.2 743.5,485.7 744,484.9 744.5,484.1 745,484.3 745.5,485.8 746,485.4 746.5,484.8 747,483.8 747.5,486.2 748,486.5 748.5,486.7 749,486.9 749.5,485.6 750,485.3 750.5,486.1 751,485.7 751.5,484.8 752,484.6 752.5,484.4 753,485.4 753.5,485.7 754,485.3 754.5,485.7 755,483.1 755.5,484 756,485.9 756.5,484.1 757,483.4 757.5,486.2 758,486 758.5,484.8 759,485.9 759.5,484.6 760,484.1 760.5,485.1 761,484.8 761.5,484.1 762,484.3 762.5,484.1 763,484.8 763.5,485.3 764,485.5 764.5,484.1 765,482.6 765.5,482.6 766,484.4 766.5,486.5 767,485.9 767.5,484.6 768,485.1 768.5,484.2 769,485.3 769.5,485 770,485.6 770.5,485.4 771,484.5 771.5,484.2 772,483.1 772.5,484 773,486.6 773.5,489 774,486.1 774.5,483.7 775,482.9 775.5,483.7 776,481.7 776.5,482 777,483 777.5,482.7 778,485 778.5,485 779,483.1 779.5,482.4 780,481.6 780.5,482 781,484.1 781.5,484.9 782,484.7 782.5,484.2 783,483.7 783.5,483.8 784,482.7 784.5,484.2 785,486.3 785.5,486 786,484.1 786.5,484.3 787,486.4 787.5,486.4 788,483.5 788.5,483.8 789,485.4 789.5,486.1 790,484.8 790.5,485.4 791,485.8 791.5,487.6 792,486.1 792.5,484.6 793,484.6 793.5,485.8 794,485.1 794.5,483.4 795,483.5 795.5,482.3 796,482 796.5,481.5 797,481.4 797.5,481.8 798,482.3 798.5,483.9 799,484.5 799.5,483.3 800,482.9 800.5,483.8 801,481.7 801.5,482 802,485.1 802.5,486.4 803,486.5 803.5,485.1 804,484 804.5,484.9 805,485.9 805.5,484.9 806,484.1 806.5,483.3 807,483.9 807.5,485.8 808,485.3 808.5,483.2 809,482.8 809.5,483.7 810,484.4 810.5,483.3 811,483.1 811.5,481.6 812,482.4 812.5,484.7 813,485 813.5,482.9 814,483.1 814.5,484.3 815,483.4 815.5,483.1 816,484 816.5,484.3 817,485.1 817.5,484.6 818,483.1 818.5,483.1 819,482.9 819.5,481.6 820,482.2 820.5,483.5 821,482.4 821.5,484 822,484.1 822.5,483.7 823,484.3 823.5,484.9 824,485.2 824.5,484 825,483.8 825.5,484.8 826,486.9 826.5,486.2 827,484.2 827.5,484.1 828,484.2 828.5,485 829,486.2 829.5,486.9 830,484.1 830.5,485.4 831,485.2 831.5,483.8 832,483.7 832.5,483.6 833,484.3 833.5,484.5 834,483.1 834.5,484.7 835,484.6 835.5,485.7 836,485.6 836.5,486 837,485.8 837.5,485.8 838,484.5 838.5,483.7 839,484.9 839.5,485.9 840,485.8 840.5,482.4 841,483.2 841.5,484.3 842,482.6 842.5,483.7 843,486.3 843.5,485.6 844,483.6 844.5,485.2 845,485.7 845.5,485 846,484.4 846.5,483.7 847,482.5 847.5,483 848,484.2 848.5,484.5 849,485.3 849.5,482.6 850,480.1 850.5,481.7 851,483.1 851.5,483.2 852,482.6 852.5,482.4 853,483.8 853.5,482.9 854,483.3 854.5,482.5 855,482.2 855.5,483.4 856,480.7 856.5,481.6 857,483.4 857.5,483.4 858,484 858.5,483.3 859,483.5 859.5,485.2 860,483.5 860.5,482.3 861,481.4 861.5,481.9 862,483.4 862.5,483.6 863,482.6 863.5,482.1 864,482.5 864.5,480.8 865,481.4 865.5,481.7 866,481.3 866.5,481.8 867,481.2 867.5,481.7 868,484.1 868.5,484.1 869,484 869.5,483.3 870,484 870.5,484.4 871,485.3 871.5,485.8 872,483.6 872.5,483 873,481.6 873.5,478.5 874,480.1 874.5,482.6 875,483.3 875.5,482.8 876,484.2 876.5,484.3 877,483.1 877.5,484.6 878,485.2 878.5,483.6 879,482.7 879.5,484.5 880,483.8 880.5,483.4 881,483.8 881.5,484 882,485.4 882.5,485.8 883,485.9 883.5,484.9 884,483.5 884.5,484.1 885,485.1 885.5,485.3 886,487.3 886.5,484.9 887,483.9 887.5,485.3 888,485 888.5,483.8 889,483.4 889.5,484.1 890,484.8 890.5,484.5 891,483.6 891.5,484.2 892,484.9 892.5,483.6 893,480.1 893.5,481.1 894,482.2 894.5,482.9 895,483.7 895.5,484.5 896,484 896.5,483 897,483.4 897.5,484.3 898,482.6 898.5,483.2 899,484.4 899.5,482.7 900,480.5 900.5,481.9 901,482 901.5,482.3 902,483.3 902.5,482.7 903,481.9 903.5,482.5 904,482.1 904.5,481.5 905,481.4 905.5,481.1 906,480.4 906.5,480.2 907,480.4 907.5,479.5 908,479.9 908.5,482.3 909,481.9 909.5,481.9 910,482.3 910.5,482.7 911,483.1 911.5,483.1 912,482.9 912.5,484 913,483.5 913.5,483.6 914,481.2 914.5,481.6 915,483.5 915.5,482.7 916,481.9 916.5,482.2 917,481.4 917.5,481.3 918,479.8 918.5,480.9 919,481.8 919.5,483.1 920,483.3 920.5,482.3 921,483.5 921.5,481.3 922,478.7 922.5,479.1 923,482.5 923.5,481.9 924,480.6 924.5,480.2 925,480.6 925.5,482.7 926,482.7 926.5,483.5 927,481.3 927.5,479.5 928,481.8 928.5,481.9 929,482.4 929.5,483.9 930,483.2 930.5,483.7 931,482.8 931.5,482 932,482.6 932.5,482.4 933,483.8 933.5,483.9 934,483.1 934.5,483.6 935,483.7 935.5,483.5 936,484.3 936.5,484.1 937,484.2 937.5,483.2 938,483.8 938.5,483.9 939,482.5 939.5,482.2 940,482.3 940.5,482.8 941,481.8 941.5,482.7 942,483.7 942.5,482 943,480 943.5,481.5 944,482.6 944.5,481.9 945,482.7 945.5,482.5 946,481.7 946.5,480.7 947,480.1 947.5,480.4 948,480.9 948.5,481.5 949,481.3 949.5,480.7 950,481.1 950.5,481 951,479.3 951.5,479.6 952,480.2 952.5,480.8 953,480.9 953.5,480.6 954,480.4 954.5,481.6 955,480.9 955.5,479.2 956,479.8 956.5,480.1 957,482 957.5,480.8 958,480.4 958.5,481 959,481.1 959.5,481.9 960,483.3 960.5,482.8 961,483.2 961.5,483 962,481.8 962.5,483.6 963,483.6 963.5,482.9 964,481.7 964.5,482.8 965,482.6 965.5,482.5 966,484.7 966.5,483.5 967,482.2 967.5,482.6 968,483.6 968.5,483.9 969,483.5 969.5,484.1 970,483.6 970.5,480.9 971,480.6 971.5,480.7 972,482.1 972.5,483.6 973,482.7 973.5,480.8 974,481.5 974.5,482.7 975,481.7 975.5,481.7 976,481.5 976.5,480.2 977,482 977.5,482.4 978,481.8 978.5,480.2 979,479.8 979.5,480.2 980,480.9 980.5,480.9 981,481.3 981.5,482.8 982,482 982.5,479.6 983,479.9 983.5,481.8 984,481.3 984.5,482.7 985,483.1 985.5,481.2 986,481.1 986.5,481.5 987,480.7 987.5,480.5 988,481.5 988.5,482.6 989,481.6 989.5,481.2 990,480.6 990.5,480.5 991,481.8 991.5,479.2 992,480.1 992.5,481.2 993,480.2 993.5,481.8 994,482.3 994.5,480.6 995,480.4 995.5,479.8 996,480.9 996.5,481.1 997,481.5 997.5,482.5 998,482.3 998.5,482.7 999,481.5 999.5,479.8 1000,480.8 1000.5,480.8 1001,479.8 1001.5,481.7 1002,481.5 1002.5,480.9"/>
<path stroke="#C00000" d="M167,509.8 167.5,507.8 168,507 168.5,507 169,507.6 169.5,506.9 170,506.5 170.5,506.7 171,507 171.5,507.5 172,505.6 172.5,504.2 173,505.5 173.5,506.7 174,505.1 174.5,504.8 175,504.8 175.5,505.5 176,505.2 176.5,504.1 177,504.7 177.5,506.1 178,506.5 178.5,506.1 179,505.3 179.5,503.8 180,503.7 180.5,504.3 181,503 181.5,502.9 182,502.1 182.5,503.1 183,503.3 183.5,503.3 184,504.6 184.5,503.8 185,503.5 185.5,503.3 186,503.2 186.5,504.3 187,502.8 187.5,502 188,500.6 188.5,500.9 189,501.3 189.5,501.3 190,501.4 190.5,502.8 191,504.1 191.5,502.8 192,502 192.5,502.8 193,505.5 193.5,505 194,503.2 194.5,502.2 195,500.5 195.5,500.4 196,500.6 196.5,499.9 197,498.4 197.5,498.2 198,499.2 198.5,498 199,495.6 199.5,497.2 200,498.2 200.5,496.5 201,495.8 201.5,494.9 202,496 202.5,494.7 203,494.2 203.5,496.3 204,498.8 204.5,496.4 205,495.3 205.5,497.1 206,498.1 206.5,498.6 207,495.8 207.5,494.7 208,496.1 208.5,497.1 209,497.2 209.5,496.7 210,493.8 210.5,493.4 211,494.4 211.5,495.2 212,494.4 212.5,492.7 213,492.1 213.5,493.8 214,495 214.5,495.7 215,493.5 215.5,493.2 216,490.6 216.5,490 217,489.9 217.5,489.6 218,489 218.5,489.1 219,489.3 219.5,489.2 220,489.7 220.5,489 221,489 221.5,490 222,489 222.5,488.2 223,487.9 223.5,488.1 224,488.2 224.5,487.6 225,489.4 225.5,490.4 226,489.4 226.5,486.8 227,485.2 227.5,486 228,487.1 228.5,487.3 229,486.1 229.5,485.9 230,486.8 230.5,485.4 231,486.2 231.5,485.7 232,483.7 232.5,484.3 233,483.9 233.5,482.9 234,482 234.5,482.8 235,484.9 235.5,485 236,484.9 236.5,483.8 237,484 237.5,483.7 238,482 238.5,481.9 239,483.8 239.5,483.4 240,482 240.5,482.4 241,483.7 241.5,483.9 242,481.6 242.5,482.7 243,484 243.5,482.7 244,481.9 244.5,479.2 245,481.4 245.5,480.2 246,478.1 246.5,480 247,480.9 247.5,480.7 248,479.8 248.5,477.8 249,476.4 249.5,476.4 250,477 250.5,477.4 251,476.8 251.5,477.4 252,478.5 252.5,479 253,481 253.5,480.3 254,476.6 254.5,475.6 255,474.8 255.5,475.1 256,476.2 256.5,474.8 257,474.1 257.5,475 258,475.7 258.5,474.3 259,473.8 259.5,474.5 260,474 260.5,473.5 261,472.9 261.5,471 262,471.1 262.5,471.1 263,472.5 263.5,472.2 264,470.9 264.5,472 265,471 265.5,472.4 266,471.8 266.5,470.1 267,469.5 267.5,470.1 268,470.1 268.5,469.4 269,469.2 269.5,467.4 270,467.6 270.5,466.9 271,465.1 271.5,465.8 272,463.9 272.5,462.3 273,463.8 273.5,465.1 274,465.8 274.5,465.1 275,466.5 275.5,466.8 276,466.2 276.5,465.8 277,464.3 277.5,463.3 278,464.5 278.5,465.1 279,464.3 279.5,463.1 280,462.3 280.5,464.3 281,464.1 281.5,462.5 282,463.5 282.5,464.3 283,463.7 283.5,464.2 284,463.3 284.5,460.9 285,461.4 285.5,462.5 286,463 286.5,462.1 287,458.9 287.5,459.7 288,461.3 288.5,462.2 289,461.8 289.5,459.2 290,458.5 290.5,458.6 291,459.5 291.5,458.5 292,460.2 292.5,460.4 293,458.5 293.5,455.6 294,456.4 294.5,457.4 295,455.6 295.5,455.9 296,456.6 296.5,457.4 297,456.9 297.5,456.2 298,455.5 298.5,455.5 299,455.7 299.5,456.1 300,455.6 300.5,455.3 301,453.3 301.5,454.6 302,454.2 302.5,454.2 303,453.3 303.5,453.6 304,453.4 304.5,451.2 305,450.8 305.5,450.6 306,450.1 306.5,448.5 307,449.3 307.5,449.5 308,449 308.5,448.8 309,448.5 309.5,450.7 310,451 310.5,450.9 311,447.8 311.5,446.6 312,447.1 312.5,445.9 313,446.8 313.5,446.6 314,447 314.5,447.8 315,448.5 315.5,450.1 316,448.6 316.5,446.7 317,447.4 317.5,445.9 318,445.9 318.5,444.7 319,445.1 319.5,446.7 320,445.1 320.5,444.1 321,444.1 321.5,444.9 322,445.9 322.5,443.6 323,443.2 323.5,444.5 324,443.1 324.5,444.2 325,445.9 325.5,444.8 326,443.6 326.5,442.8 327,442.2 327.5,442.4 328,443.3 328.5,444.3 329,443.2 329.5,440.8 330,440 330.5,440.2 331,438 331.5,438.3 332,438.4 332.5,437.4 333,437.6 333.5,438.2 334,436.5 334.5,436.5 335,437.1 335.5,437.1 336,436.4 336.5,437.8 337,436.8 337.5,436 338,435.5 338.5,434.8 339,435 339.5,436.9 340,436.4 340.5,436 341,436.4 341.5,435.3 342,435.8 342.5,435 343,434.1 343.5,434.3 344,432.8 344.5,433.3 345,432.4 345.5,433.1 346,433.9 346.5,432.5 347,430.7 347.5,430.5 348,429.9 348.5,428.7 349,428.9 349.5,430.4 350,430.6 350.5,429 351,430.4 351.5,431.6 352,430.9 352.5,430.2 353,431.1 353.5,429.7 354,431.1 354.5,431.2 355,428 355.5,428.9 356,429.6 356.5,428.8 357,427.6 357.5,427 358,426.2 358.5,427.3 359,427.6 359.5,425.9 360,425 360.5,425.2 361,425.6 361.5,425.5 362,425.1 362.5,424.4 363,422.2 363.5,421.2 364,424.6 364.5,425.6 365,422.9 365.5,423 366,424.6 366.5,425.4 367,425.4 367.5,425.2 368,423.8 368.5,423.4 369,422.8 369.5,422 370,422.9 370.5,422.6 371,421.9 371.5,420.7 372,420.8 372.5,419.3 373,418.9 373.5,416.5 374,417.6 374.5,419.6 375,418.9 375.5,418.3 376,417.4 376.5,419.7 377,419.2 377.5,418 378,417.9 378.5,418 379,418.4 379.5,416.5 380,414.3 380.5,415.4 381,417.1 381.5,416.4 382,415.4 382.5,416 383,415.9 383.5,415.3 384,413.1 384.5,413.4 385,414.8 385.5,414.3 386,414.9 386.5,415.8 387,413.8 387.5,413 388,411.9 388.5,411.4 389,411 389.5,409 390,408.7 390.5,411.4 391,411.3 391.5,411.6 392,410.8 392.5,410.5 393,411 393.5,410.5 394,409.1 394.5,410.1 395,408.8 395.5,410 396,412 396.5,410.6 397,410.6 397.5,409.3 398,409.4 398.5,409.2 399,408.9 399.5,407.5 400,407.3 400.5,407.8 401,406.1 401.5,406.5 402,407.7 402.5,406.4 403,405.2 403.5,404.9 404,405.7 404.5,405.4 405,405.4 405.5,405.7 406,406.8 406.5,404.2 407,402.3 407.5,403.9 408,404.5 408.5,403.9 409,402.9 409.5,404.7 410,404.2 410.5,403 411,401.7 411.5,402.9 412,403.3 412.5,403.7 413,401.7 413.5,400.3 414,400.9 414.5,400.5 415,400.9 415.5,400 416,400.4 416.5,400.7 417,400.6 417.5,400 418,399.7 418.5,400.2 419,400 419.5,400.3 420,399.1 420.5,397.3 421,399.3 421.5,401 422,400.2 422.5,399.8 423,399.1 423.5,397.4 424,396.6 424.5,398.4 425,399 425.5,398.1 426,397.4 426.5,396.8 427,396.1 427.5,395.8 428,395.5 428.5,395 429,393.6 429.5,393.8 430,394.7 430.5,393.3 431,391.4 431.5,392.4 432,392.1 432.5,395.2 433,395.2 433.5,394.1 434,392.2 434.5,391.3 435,392 435.5,392 436,391.2 436.5,391.8 437,392.2 437.5,391.3 438,388.6 438.5,387.2 439,388.5 439.5,388.6 440,389.7 440.5,391.1 441,390.8 441.5,389.4 442,389.8 442.5,390 443,388.4 443.5,388.2 444,388.6 444.5,387.7 445,386.8 445.5,386.7 446,387.3 446.5,387.5 447,388.5 447.5,388.4 448,389.8 448.5,389.1 449,386.9 449.5,387.7 450,387.2 450.5,387.8 451,386.9 451.5,385.8 452,385.4 452.5,384.2 453,384.3 453.5,384 454,383.2 454.5,382.6 455,381.4 455.5,381.6 456,380.6 456.5,381.6 457,382 457.5,381.6 458,381.5 458.5,383.7 459,381.4 459.5,380.2 460,380 460.5,381.2 461,380.2 461.5,380.1 462,378.6 462.5,378.6 463,378.4 463.5,378.7 464,377.2 464.5,376.2 465,376.5 465.5,374.9 466,374.9 466.5,375.6 467,374 467.5,375.3 468,374.5 468.5,373.7 469,374.7 469.5,374.8 470,373.5 470.5,373.6 471,374.6 471.5,374.3 472,372.9 472.5,371.6 473,371.1 473.5,371.8 474,373.1 474.5,373.2 475,373.2 475.5,373.5 476,371.8 476.5,370.9 477,371.4 477.5,372.1 478,369.1 478.5,369.8 479,370.3 479.5,370.2 480,371.6 480.5,370.5 481,368.5 481.5,366.6 482,366.7 482.5,366.1 483,365.9 483.5,365.6 484,365.1 484.5,366.1 485,367 485.5,366.2 486,364 486.5,362.1 487,364.3 487.5,364.6 488,362.8 488.5,362.1 489,362.3 489.5,361.3 490,361.5 490.5,359.7 491,359.3 491.5,359.6 492,358.7 492.5,359.8 493,360.2 493.5,359.1 494,360.2 494.5,359.7 495,360 495.5,359.6 496,358.4 496.5,357.3 497,355.9 497.5,356.1 498,356.7 498.5,358.6 499,357.5 499.5,355.2 500,356.1 500.5,355.8 501,355 501.5,355.6 502,355.5 502.5,353.9 503,353.6 503.5,353.4 504,352.4 504.5,352.8 505,352.4 505.5,351.4 506,351.3 506.5,352.6 507,353.4 507.5,352.6 508,351.7 508.5,352.7 509,352.7 509.5,352.9 510,352.6 510.5,350.6 511,350.2 511.5,349.6 512,349.9 512.5,352.3 513,351 513.5,348.3 514,349.1 514.5,349.3 515,350.3 515.5,349.7 516,349.1 516.5,349.5 517,349.9 517.5,349.5 518,349.2 518.5,349.3 519,349.2 519.5,347.8 520,347.9 520.5,347.5 521,346.9 521.5,346.7 522,344.6 522.5,344.2 523,343.9 523.5,344.4 524,343.6 524.5,343.5 525,342.9 525.5,341.3 526,341.9 526.5,341.2 527,340.9 527.5,341.2 528,341.8 528.5,342.1 529,342.3 529.5,340.4 530,338.9 530.5,338.9 531,340.3 531.5,341.2 532,339.8 532.5,338.7 533,339.2 533.5,339.4 534,338.8 534.5,337.2 535,335.6 535.5,337.6 536,339.5 536.5,338.1 537,335.8 537.5,336.3 538,336.2 538.5,338.6 539,337.1 539.5,335.3 540,335.9 540.5,335 541,335.3 541.5,334.4 542,333.3 542.5,333.9 543,333.1 543.5,334.6 544,333.6 544.5,331.6 545,331.4 545.5,334.5 546,334.4 546.5,332.2 547,333.4 547.5,332.4 548,331.1 548.5,330.7 549,330.7 549.5,331.6 550,329.7 550.5,328.2 551,330.9 551.5,329.9 552,327.3 552.5,326.8 553,326.6 553.5,327.3 554,327.8 554.5,327.3 555,326.3 555.5,326.4 556,327.8 556.5,328.3 557,329.4 557.5,327.4 558,327.6 558.5,326.8 559,326.1 559.5,327.2 560,325.9 560.5,324.1 561,324.4 561.5,324.9 562,323.7 562.5,325.2 563,324.9 563.5,324.2 564,325.7 564.5,326.3 565,325 565.5,324.6 566,325.9 566.5,325 567,322.2 567.5,321.8 568,321.5 568.5,320.5 569,319.8 569.5,321.3 570,321 570.5,321 571,321.5 571.5,319.8 572,319.7 572.5,319.8 573,319.2 573.5,319.5 574,320.2 574.5,320.1 575,320.5 575.5,319 576,318.6 576.5,317.5 577,317.9 577.5,318.3 578,319.7 578.5,319.3 579,318.8 579.5,319.4 580,318.6 580.5,316.6 581,314 581.5,312.7 582,313.5 582.5,313.2 583,312.7 583.5,312.4 584,312.1 584.5,313.9 585,312.3 585.5,312.1 586,312.7 586.5,311.5 587,313.3 587.5,313.5 588,311.6 588.5,310.2 589,309.8 589.5,309.3 590,311.4 590.5,310.5 591,308.7 591.5,308.4 592,309.9 592.5,310.1 593,307.4 593.5,306.5 594,306 594.5,307.7 595,308.4 595.5,309.2 596,306.9 596.5,305.3 597,305.1 597.5,305.6 598,304.1 598.5,305.4 599,305.3 599.5,304.1 600,304 600.5,306.2 601,306.8 601.5,304.8 602,305.4 602.5,306.1 603,303.9 603.5,302.8 604,302.1 604.5,302.6 605,302.7 605.5,301.9 606,300.9 606.5,299.6 607,299.4 607.5,300 608,301.1 608.5,299.8 609,299.1 609.5,300.2 610,299.8 610.5,298.1 611,298.1 611.5,299.4 612,299.1 612.5,298.2 613,298.9 613.5,299.4 614,299.8 614.5,298.6 615,299.4 615.5,298.8 616,297.5 616.5,298.8 617,298.2 617.5,296.5 618,297.6 618.5,295 619,293.8 619.5,294.4 620,295.3 620.5,294.8 621,294.1 621.5,294.8 622,294.4 622.5,295.6 623,296.5 623.5,293.1 624,290 624.5,291.1 625,291.7 625.5,292.7 626,292.6 626.5,291 627,290.6 627.5,291.3 628,290.4 628.5,288.6 629,290.9 629.5,290.7 630,290 630.5,289.5 631,288.3 631.5,289.1 632,290.5 632.5,290.5 633,289.4 633.5,288 634,287.8 634.5,289.5 635,288.8 635.5,286.6 636,284.4 636.5,284.4 637,284.5 637.5,286.8 638,286 638.5,284.3 639,285.2 639.5,287.8 640,286.1 640.5,283 641,282.8 641.5,281.7 642,281.2 642.5,283.7 643,286.4 643.5,285.4 644,283 644.5,281.9 645,282.4 645.5,282.3 646,279.3 646.5,278.9 647,281.9 647.5,281.6 648,281.4 648.5,280.4 649,280 649.5,278.1 650,278.6 650.5,279.6 651,278.6 651.5,277 652,277.3 652.5,275.6 653,274.8 653.5,276.9 654,278.4 654.5,277.2 655,275.3 655.5,276.7 656,276.7 656.5,274.4 657,272.9 657.5,275.9 658,276.8 658.5,275.3 659,272.5 659.5,272.7 660,275.3 660.5,275.6 661,274.5 661.5,273.5 662,273.3 662.5,272.2 663,271.7 663.5,271.4 664,272 664.5,272 665,273 665.5,272.4 666,271.3 666.5,272.3 667,270.2 667.5,270.8 668,271.8 668.5,270.6 669,267.6 669.5,269.7 670,270.9 670.5,269.5 671,265.7 671.5,266 672,266.8 672.5,267 673,267.9 673.5,266.7 674,267.5 674.5,266.4 675,263.7 675.5,263.3 676,263.9 676.5,264.7 677,265 677.5,264 678,263.4 678.5,259.9 679,257.9 679.5,260.4 680,261.7 680.5,260.5 681,259.8 681.5,261.6 682,263 682.5,260.9 683,259.3 683.5,260 684,262.4 684.5,261.4 685,261.6 685.5,262.3 686,261.4 686.5,259.4 687,260.4 687.5,260.4 688,259.8 688.5,259.2 689,257.4 689.5,256.9 690,256.8 690.5,257.4 691,256.4 691.5,256.2 692,254.9 692.5,254.9 693,254.7 693.5,254.5 694,254.4 694.5,253.8 695,252.8 695.5,251.8 696,254.1 696.5,253.5 697,253.2 697.5,253.4 698,254.6 698.5,253.6 699,254.7 699.5,256 700,256.4 700.5,255.5 701,253.7 701.5,251.9 702,253.6 702.5,253.9 703,252.9 703.5,252 704,250.4 704.5,249.6 705,250.9 705.5,250.5 706,248.3 706.5,249.2 707,249.3 707.5,249.5 708,249.4 708.5,250 709,250.1 709.5,248.9 710,246.9 710.5,247.9 711,247.1 711.5,245.7 712,246.2 712.5,245 713,246.7 713.5,247.2 714,245.2 714.5,245.5 715,245.3 715.5,244.2 716,242.3 716.5,243.2 717,243.2 717.5,243 718,242.3 718.5,242.5 719,241.8 719.5,241.9 720,242.1 720.5,241.2 721,241.3 721.5,240.8 722,240.5 722.5,239.9 723,241.1 723.5,241.6 724,240.5 724.5,240.7 725,239.7 725.5,238 726,239 726.5,239.4 727,236.7 727.5,234.8 728,235.9 728.5,236.2 729,237.7 729.5,236.3 730,235.2 730.5,234.7 731,235.1 731.5,234.3 732,233.8 732.5,234.1 733,234.1 733.5,234.9 734,232.9 734.5,232.5 735,231.5 735.5,231.2 736,232.6 736.5,230.5 737,231.8 737.5,230.3 738,231.5 738.5,232.7 739,228.6 739.5,228.6 740,231.3 740.5,230.5 741,229.3 741.5,229 742,228.2 742.5,229.3 743,230.2 743.5,228.5 744,228.5 744.5,229.9 745,230 745.5,227.6 746,227.2 746.5,226.4 747,226.1 747.5,226.2 748,225.6 748.5,224.1 749,223.7 749.5,225.2 750,226.9 750.5,227.7 751,226.1 751.5,226 752,227 752.5,226.9 753,225.7 753.5,226 754,227 754.5,224.9 755,223.1 755.5,222.2 756,223.6 756.5,224.1 757,225.2 757.5,223.6 758,223.9 758.5,224.5 759,224 759.5,221.8 760,223.2 760.5,222.2 761,221.2 761.5,220.7 762,220.3 762.5,219.4 763,218 763.5,220 764,220 764.5,218.7 765,220 765.5,222 766,220.2 766.5,219.3 767,220.3 767.5,218.5 768,218.1 768.5,218 769,218.5 769.5,219.6 770,219.1 770.5,217.6 771,217.5 771.5,217.4 772,216.7 772.5,216.3 773,215.2 773.5,214.9 774,215 774.5,214.2 775,214.8 775.5,214 776,212.7 776.5,212.5 777,212.6 777.5,212.9 778,213 778.5,212.4 779,212.4 779.5,214.5 780,214.5 780.5,213.8 781,214.3 781.5,213.7 782,213 782.5,214.1 783,216.3 783.5,215.2 784,213.8 784.5,212.1 785,212.8 785.5,213.8 786,212.1 786.5,211.7 787,211.5 787.5,211 788,211 788.5,209.8 789,209.1 789.5,209 790,211.3 790.5,209.8 791,209 791.5,209.5 792,207.9 792.5,207.1 793,206.5 793.5,206.6 794,206.5 794.5,206.8 795,205.9 795.5,204.9 796,204.8 796.5,204.6 797,204.6 797.5,205.7 798,205.7 798.5,204.6 799,203.6 799.5,204.4 800,203.7 800.5,204.6 801,204.7 801.5,203.8 802,203.1 802.5,203.9 803,205.9 803.5,204 804,203.4 804.5,204.2 805,204 805.5,203.4 806,200.9 806.5,201.6 807,205.1 807.5,202.6 808,201 808.5,201.5 809,201.5 809.5,199.5 810,199.9 810.5,199.9 811,199.9 811.5,198.8 812,197.3 812.5,195.6 813,194.6 813.5,196.5 814,195.2 814.5,196.1 815,197.9 815.5,196.8 816,196.9 816.5,196.8 817,197.3 817.5,196.8 818,196.6 818.5,197.8 819,196.3 819.5,194.8 820,195.8 820.5,196.5 821,195.6 821.5,197 822,198.1 822.5,198.4 823,196 823.5,195.2 824,193 824.5,193.1 825,193.6 825.5,193.4 826,192.4 826.5,191.5 827,190.6 827.5,190.6 828,191.4 828.5,191.8 829,192 829.5,192.4 830,191.4 830.5,188.5 831,188.7 831.5,189.2 832,189.3 832.5,190.8 833,190.8 833.5,189.9 834,190.4 834.5,191.2 835,189.9 835.5,189.8 836,190.9 836.5,191 837,191.3 837.5,190.3 838,189.5 838.5,187.7 839,186.8 839.5,186.3 840,184.5 840.5,186.7 841,187.7 841.5,186.4 842,185.8 842.5,186.3 843,185.5 843.5,186.2 844,187 844.5,185.6 845,184.8 845.5,184 846,183.4 846.5,183.1 847,183.1 847.5,183 848,180.8 848.5,181.5 849,182.4 849.5,181.2 850,181.1 850.5,180.9 851,181.9 851.5,182.7 852,182.8 852.5,181.2 853,179.5 853.5,179.9 854,180.6 854.5,180.2 855,177.3 855.5,177.9 856,177.3 856.5,179.2 857,179.7 857.5,179.7 858,179.8 858.5,178.8 859,177.6 859.5,178.3 860,178.8 860.5,177.4 861,176.3 861.5,175.6 862,176.9 862.5,175.7 863,174.8 863.5,174.7 864,174.3 864.5,175 865,176.2 865.5,176 866,176 866.5,174.9 867,172.4 867.5,173 868,174.7 868.5,174.4 869,170.5 869.5,169.7 870,171.4 870.5,170.9 871,170.4 871.5,171.2 872,169.9 872.5,168.6 873,170.6 873.5,171.8 874,172.4 874.5,172.5 875,171.5 875.5,170.4 876,169.2 876.5,168.2 877,169.5 877.5,171.2 878,171.7 878.5,172.2 879,169.5 879.5,167.6 880,169.7 880.5,169.8 881,167 881.5,166.1 882,167.8 882.5,168.2 883,166.6 883.5,166.5 884,166 884.5,165.3 885,165.4 885.5,166.6 886,166.2 886.5,164.8 887,164 887.5,166.8 888,165.6 888.5,164.9 889,164.4 889.5,164.7 890,163.5 890.5,164.2 891,164.6 891.5,164.6 892,162.7 892.5,162.4 893,163.6 893.5,164.9 894,162.4 894.5,162.5 895,162.3 895.5,163 896,163.3 896.5,162.5 897,162.1 897.5,161.4 898,160.2 898.5,159.3 899,157.9 899.5,158.3 900,158.2 900.5,158.8 901,159.7 901.5,159.6 902,159.6 902.5,159 903,156.3 903.5,157.8 904,158.2 904.5,157.3 905,156.5 905.5,158.1 906,159.1 906.5,158.6 907,157.4 907.5,157.6 908,158.2 908.5,158.7 909,157.6 909.5,155.8 910,155.1 910.5,154.8 911,154.4 911.5,153.8 912,154.2 912.5,152.9 913,152.5 913.5,153.2 914,152.5 914.5,151.6 915,150.5 915.5,152.5 916,152.4 916.5,151.9 917,152.2 917.5,151.7 918,151.4 918.5,152.9 919,151.6 919.5,152.3 920,152.7 920.5,150.4 921,149.7 921.5,149.4 922,150.4 922.5,149.1 923,148.4 923.5,150.4 924,149.9 924.5,148.2 925,149.1 925.5,149.3 926,151 926.5,149.7 927,146.7 927.5,145.7 928,145.4 928.5,146.2 929,146.7 929.5,147.2 930,146.2 930.5,144.5 931,145.4 931.5,147.8 932,147.5 932.5,145.7 933,144.8 933.5,144.5 934,143.7 934.5,142.6 935,144.1 935.5,143.6 936,142.9 936.5,141.2 937,143.6 937.5,144.5 938,142.3 938.5,144.6 939,144.3 939.5,142.1 940,141.6 940.5,143.8 941,143.8 941.5,143.4 942,142.2 942.5,141.7 943,142.5 943.5,141.5 944,141.6 944.5,139.4 945,138.6 945.5,138.8 946,140 946.5,137.3 947,137 947.5,138.4 948,138.8 948.5,140.2 949,139.7 949.5,138 950,136.5 950.5,134.1 951,134.5 951.5,135.5 952,135.5 952.5,134.5 953,134.5 953.5,135.4 954,137.1 954.5,136.6 955,135.3 955.5,135 956,135.1 956.5,134.1 957,133.5 957.5,132.7 958,134.8 958.5,135.6 959,135 959.5,134.7 960,135.2 960.5,136.2 961,134.1 961.5,131.8 962,132.1 962.5,134.3 963,135.1 963.5,134.9 964,134.5 964.5,133 965,131 965.5,130.6 966,129.9 966.5,130.3 967,129.9 967.5,130.6 968,129.8 968.5,128.4 969,130.4 969.5,130.3 970,128.4 970.5,129.4 971,130.2 971.5,129.7 972,130.3 972.5,130.3 973,130.5 973.5,129.6 974,128.9 974.5,129.3 975,129.3 975.5,128.2 976,126.7 976.5,125.9 977,125.9 977.5,125.9 978,126.5 978.5,126.6 979,126.2 979.5,126.2 980,126.9 980.5,128.2 981,127.4 981.5,125.4 982,125.2 982.5,124.4 983,123.9 983.5,123.3 984,122.1 984.5,120.4 985,119.7 985.5,122.5 986,123.8 986.5,122.4 987,122.9 987.5,122.7 988,122.7 988.5,121.8 989,121.9 989.5,121.1 990,119.2 990.5,120.7 991,120 991.5,118.1 992,120.1 992.5,120.3 993,120.1 993.5,119.9 994,118.6 994.5,117.6 995,117.9 995.5,119 996,121.7 996.5,121.3 997,118.5 997.5,117.9 998,118.8 998.5,118.8 999,117.4 999.5,117.7 1000,120.5 1000.5,119.7 1001,116.4 1001.5,115.5 1002,116.8 1002.5,118.3"/>
<path stroke="#FF0000" d="M167,509.9 167.5,508.9 168,508.9 168.5,509 169,508.9 169.5,507.9 170,507.1 170.5,506.4 171,506.7 171.5,506.5 172,508.2 172.5,507.2 173,506.7 173.5,507.5 174,507.2 174.5,507.2 175,507.2 175.5,506.6 176,506.5 176.5,507.6 177,509.3 177.5,508.3 178,507.9 178.5,508.4 179,510.1 179.5,510.8 180,508.6 180.5,508.9 181,508.8 181.5,508.4 182,508.4 182.5,507.4 183,508.7 183.5,508.2 184,507.4 184.5,509.3 185,509.4 185.5,508.3 186,505.9 186.5,506.1 187,506.5 187.5,507.9 188,507.8 188.5,505.1 189,505.9 189.5,506.7 190,507.3 190.5,506 191,504.6 191.5,505 192,504.5 192.5,504.8 193,505.6 193.5,505.7 194,505.8 194.5,505.5 195,508.7 195.5,508.7 196,507 196.5,504.2 197,502.8 197.5,504 198,505.8 198.5,508 199,506.9 199.5,504.9 200,505.8 200.5,505.8 201,504.6 201.5,505 202,503.9 202.5,502.2 203,501.6 203.5,502.8 204,503.5 204.5,501.2 205,500.9 205.5,502 206,500.9 206.5,503.9 207,503.5 207.5,504.4 208,504.8 208.5,501.7 209,501.9 209.5,504.4 210,502.6 210.5,501.6 211,502 211.5,502.7 212,502.5 212.5,500.7 213,499.7 213.5,499.8 214,500.5 214.5,501.2 215,500.9 215.5,501.4 216,499.6 216.5,500.6 217,502.2 217.5,501.7 218,500 218.5,498.2 219,497.9 219.5,498.5 220,498.7 220.5,497.5 221,496 221.5,496.5 222,498 222.5,497.8 223,495.7 223.5,495.4 224,494.6 224.5,496.7 225,500.2 225.5,497.8 226,495.9 226.5,495.3 227,494.2 227.5,493.8 228,495.3 228.5,496.1 229,496.6 229.5,494.2 230,495.3 230.5,495.5 231,492.8 231.5,493.3 232,492.2 232.5,493.8 233,494.9 233.5,493.7 234,493.2 234.5,492.7 235,493.9 235.5,494.8 236,493.7 236.5,493.5 237,494.1 237.5,493.6 238,491.4 238.5,491.8 239,491.6 239.5,492.4 240,492.7 240.5,492.1 241,491.7 241.5,489.4 242,488.7 242.5,488.3 243,488.9 243.5,488.9 244,487.9 244.5,486.9 245,487.3 245.5,487.5 246,487.9 246.5,487.6 247,488.2 247.5,486.6 248,484.1 248.5,484.3 249,483.9 249.5,485.8 250,486.3 250.5,484.8 251,484 251.5,481.9 252,481.1 252.5,483 253,483.7 253.5,483.2 254,484.8 254.5,485.8 255,486.5 255.5,487.2 256,486.1 256.5,484.5 257,484.5 257.5,484.4 258,483.6 258.5,485.3 259,485.2 259.5,483.6 260,484.3 260.5,487.7 261,485.9 261.5,485 262,485.4 262.5,484.3 263,483.1 263.5,482.5 264,481.3 264.5,481.4 265,480.1 265.5,481.2 266,481.1 266.5,479.8 267,481.5 267.5,480 268,480.5 268.5,479.7 269,479.6 269.5,479.9 270,482.4 270.5,482.2 271,482.1 271.5,481.1 272,480.3 272.5,479.3 273,478.7 273.5,479 274,478.3 274.5,476.9 275,475.4 275.5,476 276,476.7 276.5,475.9 277,476 277.5,475.2 278,474 278.5,473.7 279,473.9 279.5,474.2 280,474.6 280.5,475 281,472.4 281.5,471.2 282,473 282.5,472.6 283,473.2 283.5,475.5 284,474.8 284.5,473.3 285,472.9 285.5,472.2 286,471.9 286.5,470.1 287,469.1 287.5,469.7 288,471.5 288.5,471 289,468.9 289.5,469.2 290,468.6 290.5,468.8 291,468.2 291.5,468.6 292,467.8 292.5,467.3 293,467.5 293.5,467.4 294,466.1 294.5,465.9 295,467.9 295.5,466 296,463.3 296.5,462 297,461.9 297.5,464.8 298,466.7 298.5,464.6 299,464.5 299.5,464.3 300,466.7 300.5,466.8 301,466.7 301.5,467.7 302,467.9 302.5,466.4 303,463.8 303.5,462.1 304,461.5 304.5,461.7 305,464.2 305.5,463.1 306,462.3 306.5,462.8 307,463.4 307.5,461.5 308,461.9 308.5,461.1 309,459.4 309.5,458.2 310,459.9 310.5,459.1 311,459 311.5,459.7 312,460.1 312.5,460.4 313,459.1 313.5,459.3 314,459.5 314.5,459.3 315,459.4 315.5,458.9 316,459.1 316.5,457 317,455.7 317.5,457.1 318,458 318.5,456.3 319,455.5 319.5,455.7 320,456.1 320.5,455.9 321,455.3 321.5,454.2 322,456.2 322.5,455.4 323,453.8 323.5,454.9 324,454.5 324.5,453.8 325,451.9 325.5,453.1 326,451.4 326.5,449.4 327,451.3 327.5,450.9 328,450 328.5,449.9 329,449.1 329.5,450.8 330,450.5 330.5,450.5 331,451.5 331.5,450.1 332,448.5 332.5,448.1 333,449.2 333.5,449.9 334,448.1 334.5,447.5 335,448.9 335.5,448.4 336,448.5 336.5,449.4 337,446.9 337.5,446.4 338,445.2 338.5,446.2 339,447.7 339.5,447.5 340,445.5 340.5,446.5 341,446.5 341.5,446 342,447.2 342.5,444.8 343,443.2 343.5,443.4 344,442.6 344.5,445.4 345,445.6 345.5,444.2 346,444.8 346.5,445.4 347,445.8 347.5,443 348,440.7 348.5,439.8 349,440.6 349.5,440.1 350,441 350.5,441.6 351,440.4 351.5,440 352,441.4 352.5,440.5 353,440.5 353.5,440.3 354,437.9 354.5,438.5 355,441.2 355.5,439 356,437.3 356.5,437.6 357,437.3 357.5,436.8 358,437.6 358.5,438.3 359,438.6 359.5,438.4 360,436 360.5,436.1 361,438 361.5,437.8 362,438.5 362.5,437.1 363,435.2 363.5,435.7 364,434.6 364.5,435.3 365,436.6 365.5,436.7 366,434.5 366.5,434.1 367,433.9 367.5,433 368,430.2 368.5,431.6 369,433.2 369.5,433.1 370,432.3 370.5,433.5 371,433.8 371.5,432.3 372,431.1 372.5,430.5 373,430.9 373.5,431.8 374,431.4 374.5,428.8 375,427.3 375.5,427.6 376,429.1 376.5,428.7 377,428.5 377.5,428.6 378,428.3 378.5,427.4 379,426.5 379.5,427 380,428.1 380.5,428.4 381,427.5 381.5,427.7 382,428.7 382.5,427.2 383,426.7 383.5,425.8 384,424.3 384.5,423.4 385,423.8 385.5,424.1 386,424.9 386.5,423.4 387,423.7 387.5,424.7 388,424.3 388.5,424.7 389,424.3 389.5,422 390,422.1 390.5,422.7 391,424.4 391.5,423.7 392,424.1 392.5,424.7 393,422.8 393.5,422.4 394,422.3 394.5,421.9 395,422.7 395.5,422.5 396,421.8 396.5,420.4 397,419.4 397.5,419 398,418.3 398.5,417.6 399,419.4 399.5,420.3 400,419.3 400.5,418.7 401,419.1 401.5,419.5 402,420.1 402.5,420.7 403,418.6 403.5,419 404,419.4 404.5,418.5 405,417.5 405.5,416.4 406,416.8 406.5,418.4 407,418.7 407.5,416.9 408,417.3 408.5,417.9 409,418.2 409.5,417.7 410,417.9 410.5,417.7 411,416.1 411.5,415.9 412,414 412.5,413.3 413,413.8 413.5,413.7 414,415.3 414.5,415.5 415,413.8 415.5,412.8 416,412.2 416.5,411.7 417,411.6 417.5,411.1 418,409.8 418.5,408.9 419,409.2 419.5,410.1 420,409.8 420.5,410.7 421,410.1 421.5,410.3 422,408.4 422.5,408.4 423,409.8 423.5,410 424,410 424.5,411.3 425,409.9 425.5,409 426,408.8 426.5,410.5 427,410.2 427.5,408.7 428,407.1 428.5,408.2 429,408.4 429.5,409.3 430,409.6 430.5,408.3 431,408.9 431.5,409.5 432,408.5 432.5,407.1 433,405.8 433.5,405.2 434,404.8 434.5,406 435,404.8 435.5,402.9 436,402.7 436.5,400.6 437,399.4 437.5,403.2 438,403.8 438.5,401.2 439,401.5 439.5,402.6 440,402.2 440.5,401.6 441,401.9 441.5,402.2 442,402.1 442.5,402.5 443,401.9 443.5,401.2 444,401 444.5,400.3 445,401.6 445.5,399.6 446,400.2 446.5,401.1 447,401.1 447.5,401.1 448,401.1 448.5,399.1 449,399.3 449.5,399.4 450,398.5 450.5,398.6 451,399.7 451.5,398.1 452,397.4 452.5,397.5 453,397.5 453.5,397.5 454,397.2 454.5,397.3 455,397.1 455.5,397.4 456,397.4 456.5,395.9 457,396.6 457.5,395.2 458,395 458.5,394.2 459,392.5 459.5,391.4 460,393.3 460.5,391.7 461,391.2 461.5,392.5 462,392.6 462.5,394 463,394 463.5,392.6 464,391.9 464.5,391.3 465,389.6 465.5,390.1 466,390.1 466.5,389.5 467,389.3 467.5,388.5 468,390.6 468.5,391 469,389 469.5,390.1 470,391.7 470.5,390.4 471,388.3 471.5,388.1 472,390.1 472.5,390.3 473,387.4 473.5,386.8 474,386 474.5,386 475,386.2 475.5,385.4 476,385.2 476.5,386.7 477,384.9 477.5,384.2 478,384.9 478.5,383.9 479,383.5 479.5,383.8 480,382.7 480.5,383.8 481,384.4 481.5,383.6 482,382.2 482.5,381 483,379.3 483.5,379.9 484,380.6 484.5,380.6 485,379.4 485.5,378 486,377.3 486.5,377.7 487,378.3 487.5,378.8 488,377.4 488.5,376.3 489,376.2 489.5,375.7 490,374.9 490.5,372.9 491,372.8 491.5,373.9 492,375.4 492.5,375.3 493,375.6 493.5,375.8 494,374.4 494.5,375.5 495,374.8 495.5,373.8 496,374.4 496.5,371.8 497,371.1 497.5,372.1 498,372.6 498.5,371.3 499,369.6 499.5,370.7 500,372.3 500.5,374.6 501,373.6 501.5,371.1 502,369.6 502.5,369.8 503,368.9 503.5,369.5 504,369.5 504.5,368.6 505,368.5 505.5,367.7 506,367.6 506.5,369.1 507,368.2 507.5,366.6 508,365.9 508.5,366.8 509,367.5 509.5,368.1 510,368.4 510.5,366.9 511,365.8 511.5,367.9 512,367.6 512.5,366.8 513,365.7 513.5,362.9 514,362.6 514.5,363 515,363.6 515.5,361.7 516,362.1 516.5,363.7 517,362.8 517.5,362 518,362.7 518.5,360.6 519,360.9 519.5,361 520,361.2 520.5,360.3 521,359.7 521.5,359.9 522,359.1 522.5,359.9 523,359.7 523.5,359.8 524,358.3 524.5,357.6 525,358.6 525.5,358.4 526,355.7 526.5,356.8 527,357.1 527.5,355 528,355 528.5,355.9 529,354.6 529.5,354.7 530,356 530.5,353.9 531,352.4 531.5,351.2 532,351.9 532.5,353.1 533,355.9 533.5,355.4 534,353.6 534.5,355.6 535,354.9 535.5,353.7 536,354 536.5,353.3 537,351.4 537.5,350.1 538,350.7 538.5,351.6 539,351.2 539.5,351 540,351.6 540.5,350.5 541,351 541.5,350.2 542,349.6 542.5,348.6 543,348.7 543.5,347.6 544,346.6 544.5,347.8 545,348.4 545.5,348.9 546,348 546.5,346.5 547,345.8 547.5,344.4 548,346.1 548.5,349.3 549,350.2 549.5,349.4 550,348.7 550.5,348.6 551,347.5 551.5,345.1 552,345.4 552.5,347.3 553,347.1 553.5,345.4 554,343.9 554.5,343 555,342.3 555.5,341.2 556,340.4 556.5,341.9 557,341.9 557.5,342.5 558,344.2 558.5,343.2 559,341.9 559.5,342 560,341.1 560.5,342.7 561,342.4 561.5,341.8 562,342.5 562.5,342.7 563,340.5 563.5,339.9 564,341.7 564.5,340.6 565,340.1 565.5,338.1 566,337.6 566.5,337 567,337.3 567.5,336.4 568,336.3 568.5,337.9 569,336.4 569.5,333.9 570,334.5 570.5,334 571,333.4 571.5,333.6 572,333.8 572.5,333.8 573,332.4 573.5,331.2 574,332.4 574.5,333.3 575,331.9 575.5,332.9 576,333 576.5,332.2 577,332.2 577.5,331.5 578,331.2 578.5,331.2 579,332.7 579.5,333.2 580,331.7 580.5,331.4 581,328.6 581.5,328.4 582,329.3 582.5,331 583,329.8 583.5,329.3 584,327.4 584.5,328.8 585,329.7 585.5,328 586,325.7 586.5,327.7 587,329.2 587.5,329.2 588,327.2 588.5,324.8 589,325.7 589.5,326.5 590,325.3 590.5,325.7 591,325.2 591.5,325.6 592,325.9 592.5,325.6 593,327.7 593.5,325.9 594,324.5 594.5,323.4 595,323.4 595.5,322.7 596,321 596.5,320.9 597,322.4 597.5,321.5 598,318.6 598.5,318.5 599,320.5 599.5,321.4 600,321.4 600.5,320.3 601,321.3 601.5,320.9 602,320.5 602.5,321.2 603,322.2 603.5,322 604,321.3 604.5,319.4 605,318.5 605.5,317.5 606,317.4 606.5,317.3 607,317.3 607.5,318 608,317.9 608.5,317.6 609,317.2 609.5,317.4 610,316.8 610.5,317 611,316.6 611.5,316 612,314.3 612.5,312.2 613,312.2 613.5,314.7 614,313.7 614.5,312.6 615,311.5 615.5,311.9 616,313.7 616.5,310.9 617,310.6 617.5,310.6 618,309.4 618.5,309.2 619,310 619.5,310.6 620,311 620.5,311.6 621,310.4 621.5,311.5 622,312.8 622.5,311.6 623,308.3 623.5,306.7 624,309.7 624.5,310.1 625,309.2 625.5,310 626,308.8 626.5,308 627,307.1 627.5,307.6 628,306.9 628.5,306.8 629,307.9 629.5,306.7 630,305.1 630.5,306.7 631,306.9 631.5,305.3 632,305.2 632.5,305.6 633,305.4 633.5,305.6 634,305.6 634.5,305.1 635,306 635.5,303.6 636,303.2 636.5,305.7 637,305.8 637.5,303.1 638,301.4 638.5,301 639,302.6 639.5,302 640,301.2 640.5,302.6 641,304 641.5,304.2 642,305.2 642.5,304.3 643,302.9 643.5,302.1 644,302.5 644.5,303 645,302.5 645.5,301.9 646,300.9 646.5,301 647,300.8 647.5,298.8 648,297.9 648.5,300 649,299.2 649.5,297.6 650,297.4 650.5,296.2 651,294.7 651.5,295 652,294.4 652.5,295.2 653,295.6 653.5,296 654,294.9 654.5,294.4 655,293.5 655.5,292.4 656,291.8 656.5,293.4 657,292.7 657.5,291.6 658,291.7 658.5,291 659,290.5 659.5,291.5 660,292.1 660.5,290.3 661,288.6 661.5,289.7 662,291.5 662.5,290.1 663,290.7 663.5,290.2 664,290.4 664.5,289.2 665,287.6 665.5,289.1 666,291.2 666.5,289.7 667,289.1 667.5,288.1 668,287.8 668.5,288 669,288.5 669.5,289.3 670,287.1 670.5,285.6 671,284.5 671.5,283.3 672,283.3 672.5,284.4 673,283.3 673.5,285.4 674,285.2 674.5,283.2 675,282 675.5,282.6 676,283.2 676.5,283.4 677,281.7 677.5,281.3 678,281.3 678.5,280.8 679,279.5 679.5,277.9 680,277.5 680.5,278.3 681,279.2 681.5,280.8 682,282.2 682.5,281.3 683,280 683.5,280.2 684,278.2 684.5,277.9 685,279.3 685.5,276.7 686,276.1 686.5,276.8 687,277.8 687.5,276.6 688,276.7 688.5,275.6 689,274.7 689.5,275.8 690,275.6 690.5,274 691,273.6 691.5,274.1 692,275.5 692.5,275.2 693,274.6 693.5,274.2 694,273.5 694.5,273.7 695,272.5 695.5,271.5 696,272.1 696.5,273.1 697,273.4 697.5,273.2 698,270.8 698.5,271.2 699,271.5 699.5,270.2 700,270.3 700.5,269.3 701,268.6 701.5,269.5 702,268.1 702.5,268.9 703,267.8 703.5,266.5 704,266.2 704.5,266.2 705,266.3 705.5,266.5 706,265.4 706.5,267.6 707,268.1 707.5,267.4 708,264.3 708.5,262.3 709,263.4 709.5,264.3 710,264.4 710.5,263.6 711,263.6 711.5,263.2 712,262.4 712.5,264.2 713,262.5 713.5,263 714,263.4 714.5,261.6 715,262 715.5,262.9 716,261.5 716.5,261.7 717,261 717.5,260.6 718,260.6 718.5,259.7 719,259.8 719.5,260.7 720,260.4 720.5,259.7 721,258.2 721.5,259 722,260.3 722.5,259.9 723,258.5 723.5,257 724,256.7 724.5,257.8 725,258.4 725.5,257.5 726,257.5 726.5,256.5 727,256.5 727.5,254.8 728,254.4 728.5,253.7 729,254.6 729.5,254 730,251.9 730.5,251.2 731,250.7 731.5,249.5 732,249.4 732.5,250 733,251.8 733.5,252.2 734,250.3 734.5,249.8 735,250 735.5,249.2 736,249.3 736.5,250.1 737,249.4 737.5,248.3 738,248.1 738.5,249 739,247.5 739.5,246.9 740,245.9 740.5,246 741,246.6 741.5,246.5 742,247 742.5,246.2 743,244 743.5,243.5 744,246 744.5,246.1 745,247.1 745.5,245.9 746,245 746.5,245.7 747,245.3 747.5,244.9 748,244.3 748.5,245.6 749,245.8 749.5,244.7 750,245.4 750.5,243.6 751,242.6 751.5,240.5 752,240.6 752.5,244.1 753,244.4 753.5,242.5 754,239.7 754.5,240.4 755,240.8 755.5,240.3 756,239.7 756.5,238.5 757,238.3 757.5,237.6 758,238.2 758.5,238.7 759,237.7 759.5,237.5 760,237.5 760.5,237.9 761,238.5 761.5,237.9 762,236.9 762.5,235.2 763,236 763.5,236.9 764,235.6 764.5,235.2 765,235.4 765.5,236.8 766,235.3 766.5,234.5 767,235.6 767.5,236.1 768,235.5 768.5,235.4 769,234.5 769.5,233.7 770,233.1 770.5,232.8 771,232.9 771.5,233.5 772,233 772.5,232.9 773,232.9 773.5,231.5 774,229.6 774.5,229.2 775,228.4 775.5,227.8 776,228.9 776.5,228 777,227.3 777.5,228 778,229.6 778.5,229.4 779,229.9 779.5,229 780,228.5 780.5,229.3 781,229.4 781.5,228.3 782,226.9 782.5,226.7 783,226.3 783.5,226.9 784,227.9 784.5,229.4 785,229.4 785.5,228.6 786,228.3 786.5,228.5 787,230.4 787.5,230.4 788,230.2 788.5,228.1 789,227.4 789.5,227.5 790,226.5 790.5,225.5 791,224.4 791.5,225.3 792,225 792.5,224.7 793,223 793.5,221.5 794,223.3 794.5,223.6 795,221.1 795.5,220.4 796,220.9 796.5,220.4 797,219.9 797.5,222.6 798,222.3 798.5,219.9 799,218.8 799.5,221.3 800,223.3 800.5,222.8 801,221.9 801.5,220.1 802,219.7 802.5,219.2 803,221.4 803.5,219.8 804,216 804.5,215.7 805,217.7 805.5,217.5 806,216.9 806.5,217.8 807,218.7 807.5,216.4 808,213.8 808.5,214.2 809,213.5 809.5,213.8 810,214.9 810.5,214.3 811,213.4 811.5,213.7 812,213.5 812.5,214.2 813,213.8 813.5,213.7 814,213.3 814.5,213.6 815,212.8 815.5,212.3 816,211.8 816.5,211.5 817,211.2 817.5,214 818,212.3 818.5,211.6 819,211.2 819.5,211.1 820,211.5 820.5,210.6 821,209.7 821.5,208.5 822,208.2 822.5,208.8 823,210.3 823.5,207.8 824,207.1 824.5,208.7 825,209 825.5,206 826,205.5 826.5,207.2 827,207.3 827.5,205.3 828,204.4 828.5,205.6 829,207.2 829.5,206.9 830,206.8 830.5,205.8 831,205.3 831.5,205.3 832,204.4 832.5,203.8 833,202.4 833.5,202.4 834,203.1 834.5,202.3 835,201.7 835.5,202.8 836,202.9 836.5,201.9 837,201.5 837.5,203.7 838,204.9 838.5,201.8 839,200.3 839.5,200.9 840,201 840.5,200.6 841,201.1 841.5,203.2 842,203.9 842.5,204.1 843,202.9 843.5,201.8 844,202.2 844.5,200.9 845,200.2 845.5,200 846,202 846.5,201.9 847,200 847.5,199.5 848,199.6 848.5,199.8 849,199.9 849.5,199 850,198 850.5,196.1 851,195.8 851.5,195.5 852,198.2 852.5,198.4 853,197.3 853.5,197.4 854,197.8 854.5,195.9 855,193.1 855.5,192.8 856,191.5 856.5,192.3 857,192.8 857.5,194.1 858,194.4 858.5,193.2 859,193.4 859.5,193.8 860,193.3 860.5,192 861,190.1 861.5,191.6 862,193.1 862.5,192.1 863,190.3 863.5,190.9 864,191.3 864.5,190.5 865,191.1 865.5,190.1 866,189.9 866.5,190.9 867,192.4 867.5,190.2 868,189.2 868.5,189.9 869,189.1 869.5,188.2 870,186.5 870.5,188 871,187.8 871.5,187 872,188.5 872.5,187.5 873,186.3 873.5,184.9 874,184.4 874.5,185 875,185.1 875.5,186.9 876,187.4 876.5,185.4 877,184.1 877.5,184.5 878,184.3 878.5,185.1 879,185 879.5,184.2 880,184.6 880.5,185.8 881,185.8 881.5,183.8 882,183.7 882.5,182.5 883,181.7 883.5,183.3 884,182.8 884.5,182 885,181.7 885.5,180.6 886,180.3 886.5,182.4 887,182.1 887.5,181.3 888,181.9 888.5,182.1 889,181.2 889.5,181.5 890,181.4 890.5,182.1 891,182.6 891.5,184.2 892,182.5 892.5,182.1 893,181.8 893.5,180.9 894,181 894.5,179.7 895,178.7 895.5,178.3 896,178 896.5,179.3 897,179.3 897.5,178.5 898,176.6 898.5,177 899,176.7 899.5,177.5 900,178.5 900.5,177.5 901,176.9 901.5,177.8 902,178.2 902.5,177.6 903,174.6 903.5,175.3 904,175.1 904.5,174.8 905,175.2 905.5,173.7 906,172.4 906.5,173.3 907,174.9 907.5,176 908,173.4 908.5,171.4 909,170.7 909.5,171.9 910,172.6 910.5,172.4 911,171.1 911.5,170.7 912,170.1 912.5,171.4 913,169.7 913.5,168.9 914,172 914.5,172.1 915,171.2 915.5,170.2 916,169 916.5,169.5 917,168.7 917.5,170.2 918,168.5 918.5,166.5 919,168.8 919.5,170 920,168.4 920.5,168.4 921,167.1 921.5,165.3 922,164.3 922.5,166.8 923,166.5 923.5,166 924,164.6 924.5,164.9 925,166.4 925.5,165.3 926,164.2 926.5,163.6 927,164.8 927.5,165.2 928,163.9 928.5,163 929,162.6 929.5,163.9 930,162.4 930.5,162.5 931,163.6 931.5,161.4 932,159.4 932.5,159.6 933,161 933.5,162.8 934,161.7 934.5,160.9 935,161.9 935.5,161.9 936,160.4 936.5,161.6 937,161.4 937.5,159.5 938,157 938.5,158.9 939,160.3 939.5,159.8 940,161 940.5,159 941,157.4 941.5,158.5 942,158.6 942.5,158.4 943,157.6 943.5,157.6 944,155.9 944.5,154.8 945,153.1 945.5,152.8 946,153.1 946.5,152 947,151.5 947.5,151.5 948,151.9 948.5,152.4 949,152.5 949.5,152.3 950,151.2 950.5,149.7 951,148.8 951.5,149.6 952,149.3 952.5,149.3 953,151.4 953.5,149.6 954,150.6 954.5,151 955,150.9 955.5,152.3 956,149.8 956.5,148.5 957,149.6 957.5,147.2 958,145.5 958.5,145.6 959,146.2 959.5,147 960,146.7 960.5,145.4 961,147.4 961.5,149 962,146.7 962.5,146.5 963,147.7 963.5,147.8 964,145.6 964.5,144.3 965,144.6 965.5,146.3 966,145.3 966.5,141.5 967,140.3 967.5,140.9 968,141.3 968.5,143 969,144 969.5,145.4 970,144.5 970.5,143.7 971,143.8 971.5,141.8 972,141 972.5,142.7 973,143.2 973.5,141.7 974,143.5 974.5,143.8 975,142.4 975.5,142.3 976,142 976.5,142.2 977,142.3 977.5,141.2 978,142.4 978.5,142.7 979,141.4 979.5,138.2 980,138 980.5,140.1 981,139.3 981.5,138.4 982,137.6 982.5,136.9 983,137.3 983.5,136.8 984,136.8 984.5,137.1 985,136.2 985.5,136.7 986,135.4 986.5,137.8 987,135.9 987.5,136.7 988,137.4 988.5,136.7 989,136.9 989.5,135.6 990,134.1 990.5,135.9 991,136.7 991.5,134.4 992,132.5 992.5,133.2 993,134.2 993.5,134.3 994,134.6 994.5,134 995,132.5 995.5,131.1 996,133.7 996.5,132.9 997,132.3 997.5,131.1 998,130.7 998.5,131.3 999,132.9 999.5,133 1000,132.5 1000.5,132.9 1001,131.4 1001.5,131.3 1002,131.4 1002.5,132.6"/>
<path stroke="#FF5A5A" d="M167,507.1 167.5,508.6 168,509 168.5,510.9 169,510.5 169.5,511.7 170,510.7 170.5,509.4 171,508.2 171.5,508.2 172,507.7 172.5,506.1 173,507.4 173.5,506.3 174,505.5 174.5,504.4 175,507.2 175.5,508.7 176,508.5 176.5,508.4 177,508 177.5,508.7 178,509.5 178.5,508.4 179,508.8 179.5,508.9 180,508 180.5,508 181,507.8 181.5,507.9 182,509.5 182.5,508.1 183,508.9 183.5,507.7 184,504.8 184.5,506.3 185,507.8 185.5,507.2 186,505.6 186.5,505.7 187,504.6 187.5,504.5 188,505.5 188.5,506.7 189,507.9 189.5,507.4 190,506.9 190.5,504.7 191,504.2 191.5,505.7 192,507.3 192.5,504.7 193,503.8 193.5,505.7 194,506.6 194.5,504.4 195,504.5 195.5,504.7 196,507 196.5,506.9 197,506 197.5,505.3 198,505 198.5,504.9 199,503.9 199.5,503.2 200,503.2 200.5,504 201,504.1 201.5,504.5 202,502.9 202.5,504.6 203,505.6 203.5,505.7 204,503.7 204.5,501.8 205,502.5 205.5,504.1 206,503.1 206.5,502.2 207,502 207.5,502.4 208,502.1 208.5,501.1 209,502.5 209.5,505 210,505.7 210.5,504.2 211,503.9 211.5,505.2 212,503.7 212.5,502.2 213,503 213.5,504.4 214,504.7 214.5,503 215,503 215.5,502.8 216,503.6 216.5,503.1 217,502.2 217.5,500.9 218,500.9 218.5,499.8 219,497.6 219.5,500.7 220,501.1 220.5,500.4 221,500.2 221.5,500.5 222,500.2 222.5,499 223,499.9 223.5,500.2 224,499.4 224.5,498.1 225,498.5 225.5,498.3 226,500 226.5,501.4 227,500.9 227.5,499.3 228,498.6 228.5,498.6 229,499.1 229.5,498.1 230,497 230.5,495.3 231,496.3 231.5,497 232,497.9 232.5,498.9 233,496.8 233.5,496.6 234,498.1 234.5,497.4 235,497.8 235.5,498.4 236,498.1 236.5,497.8 237,499.4 237.5,499.6 238,497.2 238.5,497.2 239,497.9 239.5,496.4 240,494.8 240.5,495.1 241,495.5 241.5,493.9 242,494.2 242.5,493.9 243,492.9 243.5,493.5 244,493.8 244.5,493.8 245,492.7 245.5,490.7 246,492.2 246.5,492.8 247,492.5 247.5,491.3 248,492.5 248.5,492.1 249,491.3 249.5,492.6 250,491.2 250.5,490.7 251,491.6 251.5,491.1 252,491.2 252.5,490.7 253,490.8 253.5,490.8 254,490 254.5,490.3 255,489.7 255.5,488.2 256,489 256.5,489 257,488.5 257.5,489.5 258,490 258.5,488.4 259,486.4 259.5,487.5 260,487.6 260.5,487.6 261,488.1 261.5,488.3 262,489.7 262.5,488.9 263,488.4 263.5,489 264,489.4 264.5,489.5 265,488.7 265.5,487.8 266,486.8 266.5,484.5 267,485.1 267.5,487.4 268,487.4 268.5,489 269,488.5 269.5,485.7 270,487.1 270.5,489 271,486.3 271.5,485.8 272,485.3 272.5,484.7 273,484.4 273.5,484.4 274,484.2 274.5,482.8 275,482.6 275.5,481.7 276,482.1 276.5,481.5 277,480.2 277.5,480.2 278,479.3 278.5,479.4 279,480.2 279.5,478.4 280,479.8 280.5,480.1 281,479.2 281.5,480.2 282,479.6 282.5,477.7 283,478.7 283.5,478.7 284,477.8 284.5,478.8 285,478.9 285.5,476.9 286,475.8 286.5,477.5 287,476.7 287.5,475.5 288,475.6 288.5,474.4 289,476.2 289.5,477 290,473.8 290.5,475 291,474.6 291.5,474.2 292,474.1 292.5,475.2 293,474.5 293.5,473 294,472.3 294.5,473.4 295,474.4 295.5,473 296,473.8 296.5,473.5 297,472.1 297.5,474.3 298,475 298.5,476.9 299,476.5 299.5,474.2 300,473.2 300.5,472.1 301,472 301.5,473.6 302,472.9 302.5,472.2 303,472.4 303.5,473.2 304,473.1 304.5,471.9 305,471.2 305.5,472 306,472.5 306.5,468.9 307,468.7 307.5,470.4 308,470.7 308.5,471.5 309,471.9 309.5,471.3 310,468.8 310.5,468.8 311,468.7 311.5,469.2 312,468.9 312.5,468.7 313,467.3 313.5,467.3 314,466.9 314.5,466.7 315,466.1 315.5,466 316,467.6 316.5,467.5 317,467 317.5,464.3 318,462.7 318.5,463.6 319,464.6 319.5,465.6 320,466 320.5,466.1 321,466 321.5,464.8 322,463.4 322.5,462.5 323,463.2 323.5,462.1 324,461.6 324.5,462.7 325,462.8 325.5,462.6 326,461.6 326.5,462.6 327,462.2 327.5,461 328,460 328.5,459.4 329,459.9 329.5,461.7 330,460.2 330.5,460.8 331,460.1 331.5,459.1 332,458.7 332.5,459 333,459.6 333.5,458.9 334,457.2 334.5,455 335,455.1 335.5,457.6 336,455.5 336.5,454.8 337,456.5 337.5,455.5 338,457 338.5,457.6 339,457 339.5,456.4 340,453.9 340.5,453.2 341,454 341.5,454.1 342,453.9 342.5,453.7 343,451.7 343.5,450.4 344,452.2 344.5,452.6 345,453.8 345.5,454.7 346,453.1 346.5,452.2 347,451.3 347.5,452.3 348,452.2 348.5,451.9 349,451.7 349.5,450.1 350,450.9 350.5,451.5 351,451.2 351.5,448.2 352,449.4 352.5,451.2 353,449 353.5,448.6 354,451 354.5,451.5 355,448.7 355.5,446.8 356,446.4 356.5,446.3 357,445.6 357.5,445.6 358,446.4 358.5,446.6 359,446.7 359.5,445.8 360,444.9 360.5,446.4 361,446.3 361.5,445.4 362,445.6 362.5,446.2 363,446 363.5,445.8 364,446.6 364.5,446.4 365,444.8 365.5,443.9 366,442.8 366.5,443.3 367,444.1 367.5,444.1 368,443.1 368.5,442 369,441.3 369.5,441.5 370,440.6 370.5,441.3 371,441.1 371.5,440.3 372,440.8 372.5,440.7 373,440.7 373.5,439.9 374,440.7 374.5,441.5 375,440.5 375.5,439.9 376,438.5 376.5,437.6 377,436.5 377.5,437.3 378,437.1 378.5,437.1 379,435.4 379.5,436 380,437.2 380.5,436.8 381,434.8 381.5,436.1 382,438.7 382.5,437.2 383,434.5 383.5,431.4 384,432.7 384.5,434.7 385,434.9 385.5,435.2 386,435.5 386.5,435 387,434.5 387.5,433.4 388,435.9 388.5,434 389,433.1 389.5,434.6 390,434.2 390.5,433.4 391,431.8 391.5,432.1 392,432 392.5,430.3 393,430.5 393.5,430.6 394,430.3 394.5,429.5 395,429.1 395.5,430.4 396,430.9 396.5,431 397,429.5 397.5,427.7 398,426.7 398.5,427.5 399,428 399.5,430.1 400,430.6 400.5,428.7 401,425.2 401.5,423.9 402,424.5 402.5,424.8 403,426.4 403.5,425.5 404,424.5 404.5,425 405,425.7 405.5,424.2 406,424.3 406.5,423.2 407,423.4 407.5,423.6 408,424.2 408.5,424.5 409,425.2 409.5,424.4 410,422.4 410.5,421.3 411,421.6 411.5,422.3 412,422.4 412.5,422.6 413,424.3 413.5,424.3 414,422.7 414.5,422 415,422.1 415.5,422.3 416,421.6 416.5,420.1 417,420.2 417.5,419.6 418,421.2 418.5,421.8 419,420.5 419.5,420.7 420,420.1 420.5,420.4 421,422.6 421.5,422.1 422,420.7 422.5,419.7 423,420 423.5,419.8 424,419.7 424.5,418.6 425,418.7 425.5,418.1 426,417.8 426.5,420.3 427,419.7 427.5,417.2 428,415.9 428.5,416.1 429,416 429.5,415.6 430,414.6 430.5,414.9 431,415.9 431.5,415.5 432,413.5 432.5,414.2 433,413.7 433.5,413.4 434,413.9 434.5,414.1 435,415.4 435.5,415.4 436,414.1 436.5,414.1 437,416.5 437.5,416.7 438,414.8 438.5,413.9 439,414.9 439.5,414.9 440,413.6 440.5,414.5 441,413.4 441.5,413.2 442,411.9 442.5,411.5 443,411.1 443.5,411.5 444,411.7 444.5,409.9 445,409.8 445.5,410.2 446,410 446.5,410.8 447,409 447.5,410.7 448,409 448.5,409.6 449,410.3 449.5,408.5 450,406.4 450.5,407 451,408.1 451.5,409 452,409.7 452.5,410 453,409.4 453.5,407.4 454,407.4 454.5,405.5 455,405.8 455.5,404.5 456,403.9 456.5,405.9 457,405.9 457.5,405.4 458,402.9 458.5,402.5 459,403.5 459.5,403.4 460,403.6 460.5,403.1 461,402.8 461.5,402.7 462,404.4 462.5,403 463,401.9 463.5,403.3 464,403.4 464.5,402.7 465,402.1 465.5,401.2 466,400.2 466.5,398 467,397.9 467.5,398.8 468,400.8 468.5,401.7 469,400.2 469.5,399.9 470,400.6 470.5,399.5 471,399.7 471.5,398.9 472,397.1 472.5,398 473,397.8 473.5,396.1 474,395.5 474.5,396.1 475,399 475.5,400.1 476,398.9 476.5,398.1 477,395.9 477.5,397.8 478,399 478.5,397.6 479,395.2 479.5,395.8 480,395.6 480.5,395.7 481,394.5 481.5,394.3 482,394.3 482.5,395.1 483,395.3 483.5,396.3 484,396.2 484.5,395.4 485,394.5 485.5,393.9 486,394.2 486.5,394.6 487,393.9 487.5,393.3 488,392.6 488.5,391.8 489,390.3 489.5,389.4 490,391.3 490.5,391.5 491,390.7 491.5,392.1 492,390.5 492.5,391.4 493,391.3 493.5,391.4 494,392.1 494.5,391.7 495,390 495.5,388.2 496,387.9 496.5,389.7 497,391.2 497.5,390.3 498,389 498.5,389 499,389.7 499.5,389.9 500,387.9 500.5,388.2 501,387.7 501.5,386.1 502,386.1 502.5,388.1 503,387.6 503.5,386.6 504,387 504.5,387.5 505,387.2 505.5,387.6 506,385.6 506.5,384.3 507,384.2 507.5,383.4 508,384 508.5,385.9 509,386.4 509.5,384.9 510,383.4 510.5,381.7 511,381.3 511.5,382.4 512,382.1 512.5,380.9 513,381.1 513.5,382.9 514,382.4 514.5,381.1 515,381.2 515.5,382 516,381.2 516.5,380 517,377.8 517.5,376.9 518,376.3 518.5,376.5 519,378.8 519.5,379.3 520,378.4 520.5,379.3 521,379.4 521.5,378.2 522,377.5 522.5,380.1 523,380.3 523.5,379 524,380.2 524.5,378.5 525,376.7 525.5,375.8 526,374.5 526.5,374.6 527,374.3 527.5,376 528,375.1 528.5,373.3 529,373.7 529.5,372.4 530,373.5 530.5,374.2 531,373.2 531.5,371.8 532,372.1 532.5,372.1 533,372.4 533.5,373.8 534,374 534.5,372.7 535,369.8 535.5,368.6 536,369.1 536.5,368.5 537,366 537.5,367.2 538,369.1 538.5,366.6 539,365.9 539.5,366.5 540,367.6 540.5,367.3 541,366.3 541.5,365.6 542,367.2 542.5,367 543,366.2 543.5,367 544,367.1 544.5,364.7 545,363.7 545.5,364 546,363.1 546.5,361.2 547,363.2 547.5,364.9 548,363.9 548.5,362.9 549,359.7 549.5,361.4 550,363.9 550.5,363.6 551,361.1 551.5,360.3 552,360.9 552.5,359.9 553,359.7 553.5,359.2 554,360.5 554.5,361.5 555,362.6 555.5,361.2 556,359.6 556.5,359.1 557,358.1 557.5,358.7 558,358.7 558.5,359.1 559,358.3 559.5,355.6 560,356.8 560.5,356.9 561,355.7 561.5,357.1 562,356.2 562.5,357.9 563,357.1 563.5,356.2 564,355.7 564.5,355.4 565,353.4 565.5,352.3 566,351.9 566.5,353.7 567,353.6 567.5,354.5 568,353.9 568.5,352.2 569,353.3 569.5,353.3 570,352.9 570.5,352.8 571,352.1 571.5,352.2 572,352.4 572.5,350.2 573,349.2 573.5,350 574,351.5 574.5,351.3 575,351.2 575.5,347.2 576,347.9 576.5,349.2 577,350.3 577.5,351.1 578,349.4 578.5,348.5 579,350.5 579.5,350.4 580,347.2 580.5,349 581,349.4 581.5,348.2 582,348.4 582.5,349.2 583,349.1 583.5,348.2 584,347.5 584.5,348.2 585,347.7 585.5,347.6 586,347 586.5,347.5 587,347.7 587.5,347 588,346 588.5,344 589,344.7 589.5,344.3 590,343 590.5,341.8 591,339.9 591.5,341.7 592,341.4 592.5,340.1 593,341.9 593.5,341.9 594,342.2 594.5,342.2 595,342.6 595.5,342.3 596,342.1 596.5,343 597,342.7 597.5,340.3 598,341.5 598.5,341.5 599,341.6 599.5,343.9 600,343.5 600.5,341 601,340.7 601.5,342 602,341 602.5,339.8 603,338.4 603.5,339.9 604,341.1 604.5,339.5 605,339.7 605.5,341.3 606,340.9 606.5,340.7 607,340 607.5,339 608,336.1 608.5,335.5 609,336.1 609.5,339 610,337.9 610.5,336.3 611,335.2 611.5,333.7 612,333.3 612.5,337.1 613,336.2 613.5,334.7 614,333.5 614.5,334.6 615,335.3 615.5,335.2 616,335.2 616.5,334.1 617,334.8 617.5,335.4 618,334.9 618.5,334.1 619,332.9 619.5,332.1 620,333 620.5,332.3 621,332 621.5,332.9 622,331.3 622.5,332 623,333.9 623.5,334 624,332.6 624.5,332.6 625,332.8 625.5,331.7 626,330.8 626.5,331.5 627,331.3 627.5,331.2 628,331.8 628.5,330.7 629,329.6 629.5,330.5 630,331.4 630.5,329.1 631,328.1 631.5,327.9 632,328.1 632.5,327.1 633,328.3 633.5,328.5 634,326.7 634.5,325.7 635,325.4 635.5,326.3 636,325.8 636.5,325.9 637,326.2 637.5,326.5 638,328.4 638.5,328.4 639,325 639.5,325.5 640,326.6 640.5,325.7 641,326 641.5,327.3 642,328.6 642.5,328 643,326.2 643.5,325.5 644,324.8 644.5,324.1 645,322.4 645.5,321.6 646,323.2 646.5,324.9 647,324 647.5,321.4 648,322 648.5,322.2 649,322.2 649.5,321.4 650,322.3 650.5,321.7 651,321.8 651.5,321.1 652,318.5 652.5,319.7 653,321.5 653.5,320.6 654,320.7 654.5,319.9 655,318.7 655.5,319.3 656,320.3 656.5,320.8 657,320 657.5,317.8 658,318.1 658.5,316.7 659,317 659.5,317.4 660,317.9 660.5,317.9 661,317.7 661.5,316.1 662,316.5 662.5,316 663,314.6 663.5,313.4 664,314.6 664.5,314.9 665,314.9 665.5,313.9 666,313.5 666.5,314.1 667,314.4 667.5,315 668,315.4 668.5,313.9 669,313.9 669.5,310.6 670,312.2 670.5,312.5 671,313.6 671.5,311.8 672,311.7 672.5,309.7 673,309.1 673.5,310.9 674,310.8 674.5,310 675,311.8 675.5,310.5 676,310.6 676.5,308.5 677,308 677.5,308.7 678,308.3 678.5,308.4 679,306.7 679.5,307.8 680,307.4 680.5,306.8 681,307.5 681.5,307 682,306.8 682.5,307.6 683,307.2 683.5,307.2 684,307.5 684.5,306.4 685,306.1 685.5,305.1 686,305.4 686.5,304.9 687,303 687.5,301.2 688,300.8 688.5,301.5 689,302.8 689.5,302.3 690,302.1 690.5,302.9 691,303.7 691.5,303.8 692,302.2 692.5,302.8 693,302.7 693.5,301.1 694,301.1 694.5,300.3 695,300.5 695.5,300.2 696,298 696.5,297.6 697,297.8 697.5,298.1 698,297.5 698.5,297.6 699,296.4 699.5,296.5 700,297.5 700.5,297.4 701,296.8 701.5,296.8 702,297.8 702.5,297.8 703,295.7 703.5,294.3 704,294.6 704.5,296.4 705,294.1 705.5,292.9 706,294.5 706.5,294.7 707,292.6 707.5,292.1 708,291 708.5,292 709,294.1 709.5,293.1 710,292.1 710.5,292.4 711,292.7 711.5,291.9 712,290.5 712.5,291.2 713,293.5 713.5,292 714,292 714.5,290.9 715,291.7 715.5,291 716,290.2 716.5,290.8 717,288.4 717.5,287.6 718,287.1 718.5,287 719,287.2 719.5,286.8 720,287.9 720.5,288.8 721,285.8 721.5,285 722,285.4 722.5,286.3 723,287.6 723.5,287.5 724,286.7 724.5,286.9 725,287.6 725.5,284.3 726,283.1 726.5,284.2 727,284.4 727.5,283.6 728,282.4 728.5,281.9 729,282.6 729.5,282.5 730,282.3 730.5,282.6 731,284.8 731.5,285.2 732,285.5 732.5,283.6 733,283.1 733.5,282.9 734,282.7 734.5,282.2 735,281.1 735.5,279.3 736,280.5 736.5,280.8 737,278.5 737.5,279.3 738,281 738.5,281.4 739,280.3 739.5,280.8 740,282.2 740.5,281.4 741,279.1 741.5,278.7 742,279.9 742.5,279 743,277.6 743.5,277.4 744,277.5 744.5,276.8 745,276.2 745.5,275.4 746,275 746.5,277.6 747,278.1 747.5,277.3 748,275.4 748.5,275 749,275.4 749.5,274.7 750,272.5 750.5,273.3 751,272.9 751.5,273.2 752,273.8 752.5,275.8 753,275.2 753.5,274.6 754,275.4 754.5,273.9 755,272.6 755.5,272.7 756,272.6 756.5,273 757,273.5 757.5,272.5 758,272.5 758.5,273.4 759,273.2 759.5,273.3 760,272.1 760.5,270.2 761,269.6 761.5,270 762,272.4 762.5,272 763,270.3 763.5,269.6 764,270.5 764.5,270.3 765,270.1 765.5,268.7 766,268.9 766.5,270.7 767,269.2 767.5,269.7 768,270.2 768.5,267.9 769,269.1 769.5,269 770,268.5 770.5,268.1 771,266 771.5,265.6 772,268.7 772.5,268.1 773,268.5 773.5,268.8 774,267.9 774.5,267.8 775,268.4 775.5,269 776,268.3 776.5,268.1 777,266.5 777.5,265.9 778,266.4 778.5,266.8 779,267.5 779.5,268.5 780,267.3 780.5,266.5 781,267.4 781.5,265.9 782,265 782.5,264.4 783,262.8 783.5,261.8 784,262.5 784.5,262 785,261.4 785.5,262.1 786,261.8 786.5,260.7 787,259.8 787.5,261.8 788,264.1 788.5,263.9 789,263.3 789.5,262.5 790,262.5 790.5,260.8 791,260.5 791.5,260.6 792,259 792.5,259.6 793,260.7 793.5,261.2 794,259.4 794.5,259.3 795,258.6 795.5,257.6 796,255.9 796.5,257.8 797,260.4 797.5,260.2 798,260.3 798.5,261.7 799,259.5 799.5,257 800,257.2 800.5,258.1 801,258.8 801.5,256.8 802,257.3 802.5,257.5 803,255.9 803.5,255.2 804,253.8 804.5,254.3 805,253 805.5,254.6 806,256.9 806.5,255.8 807,254.7 807.5,255.2 808,256.6 808.5,255.5 809,254.7 809.5,253 810,252.1 810.5,251.7 811,252.1 811.5,252.5 812,254 812.5,254 813,252.9 813.5,251.4 814,249.5 814.5,251.4 815,253.3 815.5,252.6 816,248.8 816.5,249 817,251.6 817.5,251.4 818,251.7 818.5,251.9 819,251.8 819.5,249.6 820,250.3 820.5,251.6 821,250.4 821.5,248.9 822,249.3 822.5,248.6 823,247.4 823.5,248.3 824,248.3 824.5,247.6 825,247.6 825.5,246.3 826,247.2 826.5,246.6 827,245.6 827.5,246.3 828,247.7 828.5,246.5 829,246 829.5,245.7 830,246 830.5,248.3 831,250 831.5,249.2 832,248 832.5,247.5 833,246.3 833.5,245.4 834,245.4 834.5,247.1 835,245.7 835.5,244.3 836,244.1 836.5,244.4 837,243.6 837.5,243.6 838,244 838.5,244 839,241.9 839.5,242 840,241.3 840.5,241.7 841,243.5 841.5,242.5 842,241.2 842.5,241.4 843,241.3 843.5,241.6 844,240.5 844.5,240.7 845,240.3 845.5,240.3 846,240 846.5,239.8 847,240.7 847.5,241.3 848,239.9 848.5,239.7 849,240 849.5,239.4 850,240.4 850.5,239.5 851,236.5 851.5,236.7 852,237.2 852.5,238.8 853,238.5 853.5,236.1 854,235.8 854.5,236.2 855,236.2 855.5,237 856,237.3 856.5,236.8 857,236.9 857.5,236.3 858,234.8 858.5,233.7 859,233.6 859.5,235.1 860,235.6 860.5,235.1 861,233.4 861.5,232.9 862,233.7 862.5,234.5 863,233.7 863.5,232.7 864,231.8 864.5,232.7 865,232.5 865.5,231.7 866,232.9 866.5,231.3 867,231.7 867.5,231 868,230.4 868.5,229.4 869,229.6 869.5,230.5 870,229.8 870.5,229.6 871,230.7 871.5,230.6 872,229.8 872.5,230.1 873,230.9 873.5,229.4 874,229.2 874.5,228.6 875,226.2 875.5,225.4 876,227.5 876.5,228.5 877,227.6 877.5,226.4 878,226.5 878.5,227.5 879,226.3 879.5,225.3 880,227 880.5,227.1 881,227.1 881.5,227.6 882,227.5 882.5,226.1 883,223.9 883.5,222.1 884,223.7 884.5,224.5 885,225.8 885.5,226 886,225.4 886.5,225.6 887,224.3 887.5,223.4 888,222.6 888.5,222.9 889,223.9 889.5,224.2 890,223.1 890.5,224.6 891,225.5 891.5,222.4 892,222.2 892.5,223 893,224.3 893.5,225 894,223.7 894.5,221.2 895,219.6 895.5,219.7 896,219.6 896.5,218.9 897,218.2 897.5,219.2 898,217.8 898.5,218.1 899,217.5 899.5,216.2 900,216.9 900.5,217.3 901,217.5 901.5,218.1 902,218.2 902.5,220.5 903,219.3 903.5,215.8 904,214.5 904.5,217.3 905,217.1 905.5,215.7 906,213.9 906.5,212.4 907,213 907.5,217 908,216.6 908.5,214.6 909,215.1 909.5,212.7 910,214.1 910.5,214.4 911,212.7 911.5,212.3 912,212 912.5,213.2 913,214.7 913.5,214.3 914,213.5 914.5,212.8 915,211 915.5,213.1 916,211.5 916.5,209.5 917,209.6 917.5,209.7 918,210.2 918.5,209.4 919,207.6 919.5,210.4 920,211 920.5,208.9 921,210.4 921.5,210.9 922,210.8 922.5,210.3 923,208 923.5,208.5 924,208.5 924.5,210.3 925,207.5 925.5,206.6 926,208.6 926.5,208.4 927,207.3 927.5,207.1 928,207.8 928.5,208.2 929,205.8 929.5,205.1 930,205.3 930.5,205.9 931,205.7 931.5,204.9 932,205.5 932.5,204.5 933,204.8 933.5,205 934,205.4 934.5,207.2 935,207.6 935.5,207 936,206.5 936.5,205 937,205.4 937.5,204.2 938,203.6 938.5,202.8 939,200.9 939.5,200.9 940,201.5 940.5,201.9 941,201.1 941.5,199.9 942,199.6 942.5,200.3 943,199.3 943.5,199.2 944,200.3 944.5,200.4 945,198.8 945.5,197.9 946,199.8 946.5,200.4 947,199.1 947.5,197.7 948,196.7 948.5,198.7 949,198.3 949.5,199.1 950,198.5 950.5,198.4 951,197.8 951.5,197.5 952,200 952.5,197 953,196.4 953.5,195.7 954,196.1 954.5,196.5 955,193.9 955.5,194.7 956,195.8 956.5,195.8 957,195.7 957.5,194.4 958,193.3 958.5,193.8 959,195.4 959.5,196.7 960,196.8 960.5,197.5 961,196.3 961.5,195.7 962,195 962.5,193.7 963,194.9 963.5,194.1 964,195.2 964.5,197 965,194.2 965.5,194 966,194.1 966.5,193.4 967,192.3 967.5,192 968,192.6 968.5,189 969,189.2 969.5,191.8 970,191.1 970.5,189.3 971,189 971.5,190.9 972,193.6 972.5,191.9 973,190 973.5,190.6 974,190.9 974.5,192.4 975,192.1 975.5,192.2 976,191.9 976.5,192.8 977,191.4 977.5,189.9 978,188.4 978.5,188.6 979,189.2 979.5,189.3 980,191.2 980.5,188.9 981,187.5 981.5,188.3 982,187.2 982.5,187 983,186.1 983.5,185.6 984,186.9 984.5,186.4 985,186.3 985.5,184.5 986,182.7 986.5,182.6 987,183.5 987.5,184 988,184.4 988.5,184.1 989,182.7 989.5,182.9 990,181.9 990.5,183 991,186.2 991.5,185.3 992,183.8 992.5,185.4 993,185.5 993.5,185 994,184.7 994.5,182.9 995,182 995.5,181.6 996,182.1 996.5,180.7 997,181.1 997.5,182.1 998,181.6 998.5,182.7 999,183.6 999.5,181.8 1000,182.6 1000.5,181 1001,180.2 1001.5,181.5 1002,182 1002.5,180.3"/>
<path stroke="#FF7C80" d="M167,508.4 167.5,508.8 168,508.9 168.5,509.2 169,507.8 169.5,506 170,506.2 170.5,507.9 171,509.4 171.5,508.3 172,508.7 172.5,509.6 173,508.4 173.5,508.7 174,508.6 174.5,507.8 175,508.6 175.5,509.7 176,509.4 176.5,509 177,511.1 177.5,509.4 178,507.7 178.5,506.9 179,507.2 179.5,507.7 180,505.4 180.5,506.6 181,506.7 181.5,507.6 182,507.7 182.5,506.6 183,507.2 183.5,509.1 184,508.1 184.5,507.8 185,508 185.5,509.1 186,509.6 186.5,509 187,508.3 187.5,507.2 188,506 188.5,507 189,505.5 189.5,504.5 190,504.6 190.5,504.7 191,505.9 191.5,507 192,507.3 192.5,506 193,505.3 193.5,505.3 194,504.6 194.5,505.7 195,507.7 195.5,505.6 196,505.1 196.5,505.9 197,505.8 197.5,505.4 198,503.5 198.5,503.4 199,504.9 199.5,503.6 200,503.4 200.5,503 201,501.3 201.5,501.9 202,502.2 202.5,502.8 203,501.4 203.5,500 204,501.3 204.5,499.6 205,500.6 205.5,501.2 206,501.5 206.5,502.6 207,503.2 207.5,501.6 208,501.7 208.5,503 209,503.3 209.5,503.2 210,502.6 210.5,501.8 211,501.4 211.5,501.8 212,503.5 212.5,504.7 213,504.3 213.5,501.4 214,501.2 214.5,501.5 215,500.9 215.5,500.9 216,503.6 216.5,503.3 217,501 217.5,500.1 218,499.8 218.5,498.9 219,499.7 219.5,501.4 220,502.4 220.5,502 221,501.3 221.5,498.1 222,496.5 222.5,500.1 223,500.3 223.5,500 224,500.7 224.5,498.3 225,497.2 225.5,498.1 226,500.2 226.5,499.2 227,497.1 227.5,499 228,498.4 228.5,497.7 229,497.3 229.5,499 230,498.6 230.5,498.1 231,496.5 231.5,497.2 232,497 232.5,496.2 233,495.5 233.5,495.2 234,494.9 234.5,495.4 235,496.3 235.5,496.2 236,494 236.5,493.7 237,493.6 237.5,492.8 238,493.5 238.5,493.7 239,493.7 239.5,494.2 240,494.7 240.5,494.3 241,493.6 241.5,493.2 242,491.7 242.5,491.6 243,493.3 243.5,494.4 244,495.3 244.5,493 245,491.7 245.5,492.5 246,492 246.5,491.9 247,494.3 247.5,495 248,493 248.5,491.5 249,491.8 249.5,491.1 250,490.1 250.5,491.5 251,491.8 251.5,491.6 252,489.8 252.5,489.3 253,488.5 253.5,487.9 254,490 254.5,486.7 255,486.2 255.5,486.8 256,486.5 256.5,488 257,488 257.5,488.5 258,488.9 258.5,489 259,489 259.5,489 260,489.7 260.5,490 261,488.9 261.5,488.3 262,488.4 262.5,488.7 263,488 263.5,487.1 264,486.8 264.5,488.7 265,487.3 265.5,488.9 266,488.9 266.5,488.5 267,487.8 267.5,487.6 268,487.5 268.5,487.7 269,488.1 269.5,487.9 270,485.7 270.5,486.7 271,488.2 271.5,487.4 272,485.1 272.5,485.6 273,485.9 273.5,484.9 274,483.2 274.5,484.7 275,484.5 275.5,487 276,486.3 276.5,485.1 277,485.2 277.5,484.4 278,483.4 278.5,483.4 279,483.2 279.5,482.3 280,483.3 280.5,483.9 281,483.7 281.5,483.5 282,483.2 282.5,482.6 283,482.3 283.5,481.1 284,481.3 284.5,482.5 285,482.5 285.5,479.6 286,478.7 286.5,481.8 287,482.1 287.5,482.1 288,481 288.5,479.6 289,478.2 289.5,478.3 290,480.6 290.5,480.6 291,479.1 291.5,477.3 292,477.2 292.5,477.2 293,476.4 293.5,474.6 294,477.3 294.5,478.9 295,477 295.5,476.6 296,476.3 296.5,475.3 297,475.7 297.5,474.8 298,474.9 298.5,475.6 299,475.6 299.5,475.3 300,475 300.5,475.8 301,475.2 301.5,476.2 302,475.1 302.5,474.3 303,474.8 303.5,474.3 304,474.6 304.5,475.4 305,476.5 305.5,476.6 306,475.7 306.5,474.1 307,472.7 307.5,473.4 308,473.5 308.5,473.2 309,472.5 309.5,472.5 310,472.8 310.5,471.1 311,471.9 311.5,472.8 312,470.7 312.5,469.8 313,470.3 313.5,470.6 314,471.5 314.5,472.3 315,471.2 315.5,471 316,469.9 316.5,469.8 317,470.3 317.5,470.2 318,471.3 318.5,470.3 319,469.7 319.5,469 320,469.2 320.5,468.9 321,468.8 321.5,468.2 322,470.3 322.5,471.5 323,469.4 323.5,471.2 324,470.7 324.5,470.3 325,469.4 325.5,470.5 326,468.1 326.5,468.2 327,468.9 327.5,465.5 328,463.7 328.5,465.2 329,465 329.5,464.3 330,464 330.5,464.4 331,467.2 331.5,467 332,464.4 332.5,464.5 333,464.9 333.5,465.6 334,464.7 334.5,466 335,464.6 335.5,463.3 336,463.4 336.5,464 337,466 337.5,464.1 338,462.5 338.5,463 339,463.5 339.5,460.6 340,459.7 340.5,462.3 341,462.2 341.5,460.8 342,461.3 342.5,461.3 343,458.9 343.5,461.3 344,461.3 344.5,461.2 345,461.7 345.5,463.2 346,460.6 346.5,459.5 347,456.8 347.5,458.5 348,459.3 348.5,456.6 349,455.8 349.5,458.1 350,459.8 350.5,459.4 351,457.5 351.5,457.1 352,456.5 352.5,458.4 353,457.5 353.5,458 354,456.8 354.5,456.8 355,458 355.5,456.7 356,457.5 356.5,456.3 357,455.1 357.5,455.7 358,457.5 358.5,456.7 359,455.4 359.5,454.8 360,457.1 360.5,457.4 361,456.3 361.5,454.6 362,450.9 362.5,452.3 363,453.7 363.5,453.4 364,452.7 364.5,452.8 365,452 365.5,451.4 366,451.2 366.5,452.2 367,451.8 367.5,452.5 368,454.1 368.5,453.2 369,452.1 369.5,450.8 370,451.9 370.5,453.7 371,453.5 371.5,452.6 372,452 372.5,452.1 373,451.9 373.5,450 374,448.5 374.5,452 375,451.7 375.5,450.1 376,450 376.5,448.2 377,449.5 377.5,449.2 378,448.9 378.5,447.8 379,447.9 379.5,448.6 380,448.9 380.5,448.4 381,447.7 381.5,447.3 382,449 382.5,447.9 383,446.8 383.5,446.1 384,445.1 384.5,444.8 385,444.5 385.5,445.8 386,446.1 386.5,445.5 387,444.1 387.5,444.2 388,444.7 388.5,445.3 389,442.9 389.5,442.7 390,445.3 390.5,444.3 391,442.7 391.5,445.1 392,446.1 392.5,444.4 393,441.3 393.5,441.9 394,441.6 394.5,441 395,440.6 395.5,442.6 396,441 396.5,441 397,441.5 397.5,441.2 398,440.4 398.5,439.5 399,439.7 399.5,438.6 400,437.4 400.5,439.7 401,439.1 401.5,438.6 402,438.3 402.5,437.1 403,436.5 403.5,436.6 404,439.1 404.5,440.2 405,438.7 405.5,437.8 406,439.4 406.5,437.9 407,435.6 407.5,435.3 408,437.6 408.5,438.7 409,436.5 409.5,435.2 410,434.9 410.5,434.1 411,434.3 411.5,434.8 412,434.5 412.5,435.4 413,434.5 413.5,435.7 414,435.7 414.5,434.8 415,434.6 415.5,435.3 416,436.5 416.5,435 417,436.1 417.5,436 418,434.9 418.5,434.9 419,431.9 419.5,433.1 420,433.7 420.5,433.6 421,433.7 421.5,432.5 422,432.5 422.5,433.4 423,431.9 423.5,430.8 424,431.8 424.5,431.2 425,430.6 425.5,431 426,429.6 426.5,429 427,429.7 427.5,430 428,429.7 428.5,429.4 429,431.7 429.5,431.3 430,430.1 430.5,428.8 431,426.8 431.5,428.7 432,428.2 432.5,428.5 433,427.9 433.5,429.1 434,428.3 434.5,428.8 435,430.7 435.5,429.8 436,427.2 436.5,427.3 437,428.3 437.5,428.3 438,428.5 438.5,426.5 439,424.5 439.5,425.1 440,426.2 440.5,427 441,427.5 441.5,427.6 442,426.4 442.5,425.9 443,426.4 443.5,425.7 444,424.9 444.5,425.2 445,426.8 445.5,427.6 446,426.2 446.5,423.6 447,424.4 447.5,422.8 448,422.9 448.5,423.1 449,421 449.5,420.2 450,421.3 450.5,423.7 451,422.9 451.5,420.7 452,421 452.5,421.4 453,421.3 453.5,421 454,422.5 454.5,421.7 455,421.4 455.5,419.7 456,420.9 456.5,421.7 457,421.3 457.5,418.2 458,420.2 458.5,421 459,420.3 459.5,421.7 460,422.5 460.5,421.2 461,420.5 461.5,420.4 462,419.5 462.5,419.5 463,418.2 463.5,415.9 464,415.5 464.5,417.4 465,416.8 465.5,415.2 466,416 466.5,416.6 467,413.8 467.5,414.2 468,416.4 468.5,416.3 469,414.2 469.5,414 470,415.7 470.5,416.9 471,414.7 471.5,412.7 472,415 472.5,414.8 473,413.5 473.5,413.3 474,415.2 474.5,415 475,414.7 475.5,414.8 476,415 476.5,415.9 477,416 477.5,413.5 478,413.4 478.5,414.1 479,415.4 479.5,413.3 480,411.5 480.5,412.3 481,411.9 481.5,411.5 482,411.2 482.5,409.9 483,410.1 483.5,413.3 484,411.9 484.5,410.7 485,412.3 485.5,412.5 486,409.7 486.5,410.3 487,411.2 487.5,410.7 488,411 488.5,409.8 489,409.9 489.5,410.9 490,411.4 490.5,410.7 491,409.7 491.5,408.9 492,408.4 492.5,411.4 493,410 493.5,409.1 494,409.7 494.5,409.9 495,409.2 495.5,407.3 496,406.2 496.5,407 497,406.6 497.5,406.5 498,407 498.5,407.5 499,407.9 499.5,405.7 500,403.9 500.5,405.7 501,405.7 501.5,403.6 502,404.8 502.5,404.7 503,403.9 503.5,404.4 504,404.9 504.5,405.4 505,405.6 505.5,404.4 506,404.8 506.5,406.1 507,403.2 507.5,402.6 508,402.9 508.5,404 509,403.7 509.5,401.7 510,402.5 510.5,402 511,403.9 511.5,402 512,402 512.5,401.1 513,400.8 513.5,399.5 514,399.4 514.5,399.3 515,399.2 515.5,399.3 516,398 516.5,397.1 517,396.4 517.5,397 518,397.5 518.5,398.6 519,398.1 519.5,396.6 520,397.4 520.5,398 521,395.9 521.5,395.4 522,398.3 522.5,397.4 523,397.4 523.5,398.1 524,395.4 524.5,394.4 525,393.1 525.5,394.9 526,395.1 526.5,393.7 527,393.3 527.5,393.9 528,394.7 528.5,395.9 529,394.4 529.5,393.6 530,393 530.5,391.6 531,391.9 531.5,391.8 532,392.2 532.5,390.5 533,391.3 533.5,392.3 534,390.2 534.5,390.8 535,392.8 535.5,391.3 536,391.6 536.5,391.5 537,389.3 537.5,388.8 538,391 538.5,389.9 539,389.5 539.5,388.6 540,388.5 540.5,386.8 541,386 541.5,386.4 542,386.8 542.5,387 543,387.4 543.5,387.9 544,387.6 544.5,388.2 545,387.3 545.5,388.4 546,389.7 546.5,388.9 547,386 547.5,387.1 548,385.3 548.5,386.5 549,385.6 549.5,384.4 550,383.2 550.5,384.3 551,383.9 551.5,382.2 552,382.2 552.5,384 553,384.9 553.5,384.5 554,383.4 554.5,383.9 555,385.2 555.5,385.5 556,385.2 556.5,383.6 557,382.3 557.5,382.8 558,382.7 558.5,381.7 559,381.6 559.5,380.6 560,380.7 560.5,380.9 561,382.9 561.5,382.1 562,379.7 562.5,377.1 563,376.9 563.5,378.4 564,378 564.5,377.2 565,375.1 565.5,374.9 566,376.5 566.5,376.1 567,374.8 567.5,375.4 568,376.7 568.5,376.1 569,377 569.5,378 570,376.6 570.5,375.5 571,375.2 571.5,375.8 572,373.5 572.5,373.2 573,373.8 573.5,373.3 574,374.8 574.5,374.2 575,374.4 575.5,373.7 576,373.3 576.5,372.7 577,370.6 577.5,370.9 578,372.6 578.5,375.1 579,374.2 579.5,372.6 580,371 580.5,372.5 581,373.3 581.5,373.5 582,373.9 582.5,370.1 583,369.2 583.5,369.9 584,369.6 584.5,370.5 585,371 585.5,370.4 586,370.2 586.5,370.5 587,370.3 587.5,368.6 588,368.6 588.5,370 589,368.7 589.5,367.9 590,368.5 590.5,368.2 591,368.2 591.5,368.2 592,368.7 592.5,368.4 593,366.2 593.5,366 594,368.1 594.5,366.3 595,364.4 595.5,364.5 596,366.4 596.5,366.1 597,364.9 597.5,365.5 598,366.4 598.5,368.3 599,368 599.5,366.7 600,365.4 600.5,366.3 601,367.2 601.5,367.1 602,367.4 602.5,366.7 603,366.7 603.5,366.1 604,365.5 604.5,366.7 605,366.4 605.5,365.7 606,363.6 606.5,363.1 607,363.7 607.5,363.6 608,364.7 608.5,364.9 609,365.2 609.5,363.7 610,361.9 610.5,362.6 611,361.2 611.5,360.4 612,361 612.5,361.3 613,362.9 613.5,364.2 614,362.4 614.5,361.9 615,360.5 615.5,360 616,359.1 616.5,359.4 617,360.9 617.5,360.4 618,359.4 618.5,358.7 619,360.2 619.5,358.7 620,357.6 620.5,358.3 621,359.3 621.5,359.9 622,359.8 622.5,357.5 623,358 623.5,360.8 624,361.3 624.5,358.4 625,357.3 625.5,356 626,356.1 626.5,356.4 627,356.6 627.5,356.2 628,357.6 628.5,356.9 629,356.5 629.5,357.1 630,355.6 630.5,354.3 631,356 631.5,358 632,356.5 632.5,355.9 633,355.2 633.5,355.2 634,354.8 634.5,352.1 635,352.7 635.5,353.9 636,355.1 636.5,357.3 637,358.2 637.5,356.1 638,355 638.5,355.2 639,355 639.5,352.3 640,351.7 640.5,352.3 641,351.6 641.5,349.8 642,350.6 642.5,350 643,351.9 643.5,351.6 644,349.2 644.5,351 645,351.3 645.5,350.7 646,352.4 646.5,353.3 647,351.1 647.5,348.3 648,347.1 648.5,346.9 649,347.6 649.5,349.3 650,348.6 650.5,347.9 651,348 651.5,346.9 652,345.9 652.5,344.7 653,344.5 653.5,344.7 654,344.4 654.5,346.4 655,345.4 655.5,344.6 656,345.3 656.5,344.4 657,345.7 657.5,346 658,346.7 658.5,344.7 659,343.6 659.5,342.8 660,342.6 660.5,343.3 661,342.6 661.5,343 662,342.8 662.5,342.7 663,340.1 663.5,341.7 664,342.3 664.5,341.8 665,342.1 665.5,343.9 666,342.8 666.5,342.9 667,342.5 667.5,342.2 668,342.8 668.5,342.7 669,340.8 669.5,340.1 670,339.5 670.5,340.3 671,339.3 671.5,339.2 672,340.4 672.5,340.1 673,340 673.5,339.5 674,339.6 674.5,338.8 675,337.6 675.5,338.1 676,337.7 676.5,337.5 677,337.4 677.5,336.2 678,335.8 678.5,338.1 679,338.6 679.5,336.8 680,337.2 680.5,336.4 681,334.8 681.5,334.4 682,334.8 682.5,334.8 683,334.8 683.5,334.7 684,334.4 684.5,335.4 685,333.9 685.5,333.9 686,336 686.5,336.7 687,336.8 687.5,335 688,334 688.5,335 689,334.1 689.5,333.1 690,332.5 690.5,332.3 691,330.5 691.5,331.4 692,330.3 692.5,331.2 693,329.9 693.5,331.7 694,333 694.5,329.9 695,328.7 695.5,330.8 696,328.9 696.5,328.1 697,329 697.5,325.8 698,325.8 698.5,326.7 699,326.9 699.5,326.7 700,329.5 700.5,330.3 701,329 701.5,327.8 702,327.1 702.5,328.4 703,328.3 703.5,329.3 704,329.7 704.5,327.8 705,325.2 705.5,326.3 706,328.7 706.5,328.5 707,327.7 707.5,324.5 708,325.2 708.5,325.1 709,323.6 709.5,324.6 710,326.5 710.5,326.1 711,325 711.5,325.7 712,326 712.5,324.1 713,324.8 713.5,325.3 714,324.1 714.5,324.9 715,324.2 715.5,324.7 716,324.4 716.5,323.1 717,321.7 717.5,321.1 718,321.5 718.5,322 719,322.5 719.5,321.2 720,321.4 720.5,322.4 721,321.3 721.5,321.3 722,322.1 722.5,320.9 723,320.8 723.5,321.1 724,319.8 724.5,318.3 725,317.9 725.5,319.7 726,321.5 726.5,322 727,322.2 727.5,320.9 728,318.3 728.5,316.9 729,317.4 729.5,317.5 730,317.3 730.5,318 731,316.9 731.5,317.5 732,317 732.5,314.4 733,315.4 733.5,317.4 734,317.1 734.5,315.6 735,313.9 735.5,314.1 736,315.5 736.5,316.7 737,315.8 737.5,314.8 738,315 738.5,314.6 739,312.1 739.5,312.2 740,314 740.5,315.5 741,315 741.5,313 742,312.8 742.5,312.2 743,312.3 743.5,312.6 744,311.9 744.5,311 745,309.7 745.5,309.2 746,310.4 746.5,311.3 747,311.1 747.5,309.5 748,309.8 748.5,311.6 749,311.6 749.5,311.2 750,309.6 750.5,308.7 751,308.9 751.5,310.4 752,308.6 752.5,307.4 753,309 753.5,311.1 754,310.4 754.5,310 755,309.6 755.5,309.1 756,308.2 756.5,307.6 757,309.5 757.5,308.8 758,308.3 758.5,306.1 759,306.5 759.5,305.1 760,304.8 760.5,306.9 761,308.6 761.5,309.5 762,309.2 762.5,308 763,308.3 763.5,307.4 764,307.3 764.5,308 765,308.2 765.5,307.9 766,306.2 766.5,307.6 767,307.3 767.5,308.6 768,307.9 768.5,305.4 769,305.8 769.5,306.3 770,304.7 770.5,304.1 771,304.8 771.5,305.9 772,305.7 772.5,304.4 773,305.2 773.5,305.9 774,304.5 774.5,302 775,301.4 775.5,302.6 776,303.2 776.5,302.5 777,301.2 777.5,301.1 778,302.8 778.5,302.8 779,303.5 779.5,301.1 780,300.8 780.5,301.6 781,304.1 781.5,303.7 782,300.9 782.5,299.8 783,302.3 783.5,301.7 784,299.7 784.5,299.3 785,300.8 785.5,300.7 786,300.7 786.5,300.5 787,299.5 787.5,299.3 788,299.9 788.5,299 789,298.7 789.5,298.6 790,297.2 790.5,299.5 791,299.4 791.5,298 792,298.8 792.5,300.3 793,299.1 793.5,296.4 794,296.7 794.5,298.8 795,300.5 795.5,299.4 796,298.1 796.5,298.2 797,297.7 797.5,297.3 798,297 798.5,295.6 799,298.1 799.5,298.4 800,297 800.5,296.1 801,296.1 801.5,297.5 802,297.8 802.5,298.3 803,298.5 803.5,295.2 804,295.2 804.5,296.3 805,297.6 805.5,296.5 806,295.5 806.5,296.4 807,297.4 807.5,298.1 808,296.7 808.5,295.3 809,294.8 809.5,294.8 810,296.1 810.5,296.5 811,295.3 811.5,295.3 812,296.3 812.5,295.4 813,294.5 813.5,292.8 814,292 814.5,290.5 815,291.3 815.5,293.6 816,294.5 816.5,292.5 817,291.2 817.5,292.5 818,293.4 818.5,292.6 819,292.8 819.5,291.6 820,290 820.5,290.1 821,291.9 821.5,294.2 822,292.8 822.5,291.2 823,291.2 823.5,290.8 824,290 824.5,289.9 825,290.1 825.5,291.4 826,292.5 826.5,292 827,290.4 827.5,290.3 828,289 828.5,288.5 829,289.8 829.5,290.4 830,290 830.5,290.5 831,290.5 831.5,289.8 832,287.9 832.5,287 833,288.8 833.5,287.4 834,287.5 834.5,287 835,286.5 835.5,288.1 836,287.2 836.5,285.7 837,284.7 837.5,283.7 838,283.7 838.5,285.1 839,284.5 839.5,284.2 840,284.8 840.5,284.4 841,284.5 841.5,283.4 842,283.6 842.5,284.6 843,283.8 843.5,284.5 844,284.6 844.5,283.2 845,280.9 845.5,280.4 846,280.3 846.5,280.5 847,281.9 847.5,280.3 848,279.3 848.5,280 849,280 849.5,279.2 850,281.1 850.5,281.5 851,280.5 851.5,280.6 852,278.7 852.5,279 853,279.8 853.5,280.5 854,281.2 854.5,279.7 855,278.9 855.5,280.1 856,280.6 856.5,280.6 857,280 857.5,279.8 858,279.4 858.5,279.6 859,278.4 859.5,278.3 860,279.3 860.5,277.9 861,278.2 861.5,278.8 862,278.5 862.5,279.2 863,278.7 863.5,279.2 864,277.1 864.5,277 865,279.1 865.5,281.2 866,280.8 866.5,278.3 867,277.8 867.5,276.7 868,275.3 868.5,277.1 869,277.2 869.5,278 870,276.8 870.5,275.1 871,274.6 871.5,275.1 872,275.4 872.5,275.6 873,277.7 873.5,275.4 874,273.2 874.5,274.3 875,275.5 875.5,274.7 876,273.3 876.5,272.5 877,271.9 877.5,271.6 878,272.3 878.5,273 879,273.1 879.5,274.8 880,273.9 880.5,272.6 881,273.3 881.5,273.9 882,271.6 882.5,273.3 883,275.9 883.5,274 884,271.4 884.5,271.4 885,272.1 885.5,273.7 886,270.8 886.5,269.5 887,268.9 887.5,266.6 888,265 888.5,267.8 889,269.2 889.5,268.7 890,269.4 890.5,269.9 891,269 891.5,267.5 892,269.8 892.5,270.1 893,269.4 893.5,268.2 894,267.5 894.5,267 895,267.8 895.5,268 896,266.9 896.5,267.2 897,266.6 897.5,266.9 898,266.7 898.5,267.8 899,268.6 899.5,266.7 900,265.2 900.5,265.2 901,265.7 901.5,265.1 902,265.8 902.5,265.6 903,265.2 903.5,263.4 904,262.2 904.5,262.6 905,263.4 905.5,263 906,263.2 906.5,261.1 907,261.8 907.5,262.1 908,260.8 908.5,261 909,260.8 909.5,261.8 910,262.3 910.5,262.6 911,260.8 911.5,259.7 912,260.7 912.5,261.7 913,261.7 913.5,261.9 914,262.3 914.5,260.6 915,259.7 915.5,258.8 916,259.2 916.5,260.7 917,259.2 917.5,256.8 918,258.6 918.5,256.8 919,257.7 919.5,259.3 920,258.9 920.5,259 921,259.1 921.5,257.9 922,256.6 922.5,257.4 923,256.2 923.5,254.6 924,256.7 924.5,258.3 925,258.1 925.5,258.4 926,259.8 926.5,259 927,258.8 927.5,258.8 928,259.1 928.5,257.7 929,258.7 929.5,258.9 930,256.9 930.5,256.5 931,254.7 931.5,255.7 932,256 932.5,253.9 933,252.7 933.5,254.1 934,254.2 934.5,254.3 935,254.4 935.5,254.8 936,254.9 936.5,252.7 937,250.5 937.5,251.7 938,251.8 938.5,251.7 939,252.6 939.5,251.2 940,250.2 940.5,250.1 941,248.9 941.5,250.6 942,251.1 942.5,252.1 943,251.5 943.5,250.8 944,250 944.5,248.8 945,249.7 945.5,250.8 946,251.4 946.5,251 947,250.8 947.5,250.2 948,248.8 948.5,248.7 949,247.7 949.5,245.9 950,245.7 950.5,248.1 951,249.4 951.5,248.7 952,246.9 952.5,248.8 953,249 953.5,247 954,248.2 954.5,249.6 955,248.8 955.5,248.8 956,247.3 956.5,247.3 957,248.1 957.5,247.1 958,246.7 958.5,245.9 959,245.2 959.5,246.6 960,245.4 960.5,244.4 961,244.4 961.5,244.5 962,244.4 962.5,245.6 963,245.4 963.5,245.6 964,244.1 964.5,243.3 965,243.9 965.5,244.7 966,244.3 966.5,245.8 967,246 967.5,246.6 968,246.2 968.5,246.5 969,244.8 969.5,244.5 970,245.8 970.5,245.4 971,245.8 971.5,244.6 972,244.4 972.5,242.6 973,241.9 973.5,244.2 974,243.6 974.5,243.8 975,242.4 975.5,240.6 976,242.4 976.5,244 977,244.6 977.5,244.6 978,243.3 978.5,242.4 979,242 979.5,241.4 980,243.1 980.5,243.6 981,242.7 981.5,241.7 982,242.3 982.5,242 983,242.7 983.5,241.1 984,240.4 984.5,240.2 985,239.4 985.5,239.3 986,239 986.5,238.2 987,241.4 987.5,241 988,239.6 988.5,238.5 989,239.1 989.5,239.3 990,238.9 990.5,237.8 991,238.2 991.5,237.5 992,238.5 992.5,238.5 993,238.7 993.5,239.6 994,241.1 994.5,241.4 995,239.7 995.5,238.8 996,239.9 996.5,237.6 997,237.3 997.5,237.5 998,237.4 998.5,238.9 999,238.6 999.5,238.3 1000,237.3 1000.5,237.5 1001,236.8 1001.5,236.5 1002,237 1002.5,237.3"/>
<path stroke="#FF99FF" d="M167,505.2 167.5,502.8 168,502.7 168.5,502.9 169,502.5 169.5,502.3 170,503.9 170.5,505 171,504.9 171.5,502.5 172,502 172.5,502.2 173,501.7 173.5,501.3 174,501.7 174.5,499.7 175,499.9 175.5,499.9 176,501.4 176.5,500.1 177,500 177.5,500.8 178,500.4 178.5,501 179,501.5 179.5,502.5 180,499.8 180.5,499.4 181,500.7 181.5,500.6 182,500.2 182.5,499.6 183,500.1 183.5,499.9 184,499.3 184.5,496.9 185,497.2 185.5,497.2 186,497 186.5,496.2 187,496.8 187.5,495.8 188,497.3 188.5,496.8 189,494.7 189.5,495.2 190,494.2 190.5,495.1 191,493.9 191.5,494.5 192,494 192.5,492 193,491.9 193.5,493.7 194,493.8 194.5,494.4 195,494.5 195.5,495.9 196,494.3 196.5,494.2 197,492.9 197.5,492 198,491.8 198.5,490.4 199,490.9 199.5,492.9 200,491.4 200.5,490.2 201,491.2 201.5,490.5 202,491.2 202.5,492.6 203,493.1 203.5,493.2 204,492.2 204.5,491 205,490.3 205.5,489.5 206,489.6 206.5,490.9 207,489.6 207.5,489.9 208,489 208.5,488.4 209,485.5 209.5,487.2 210,488.4 210.5,490.7 211,490.7 211.5,488.5 212,488.6 212.5,489.6 213,489.1 213.5,488.9 214,488.8 214.5,487.6 215,489.4 215.5,487.8 216,484.1 216.5,485.2 217,487.5 217.5,489.3 218,486.9 218.5,485.2 219,487.3 219.5,487 220,486.5 220.5,486.9 221,485.6 221.5,485.7 222,486.8 222.5,486.6 223,486.4 223.5,485.7 224,486.2 224.5,483.3 225,482.7 225.5,484.3 226,484.2 226.5,484.2 227,484 227.5,483.3 228,482.6 228.5,484 229,484.6 229.5,483.3 230,485.1 230.5,484.4 231,481.8 231.5,481.6 232,480.1 232.5,479.9 233,479.2 233.5,478.9 234,478.3 234.5,479.5 235,479.3 235.5,479 236,478.7 236.5,481.5 237,483.7 237.5,482 238,481.1 238.5,480.3 239,480.5 239.5,479.9 240,479 240.5,479.5 241,480.2 241.5,480.8 242,480.4 242.5,480.9 243,481.9 243.5,481.1 244,478.6 244.5,476.8 245,477.9 245.5,478.8 246,479.3 246.5,479.4 247,480.7 247.5,478.4 248,477.7 248.5,476.3 249,476 249.5,477.1 250,478.3 250.5,477.8 251,475.4 251.5,479 252,480.9 252.5,480.6 253,479.4 253.5,478.2 254,478.5 254.5,478.3 255,476.3 255.5,476.8 256,476.6 256.5,476.2 257,476.9 257.5,474.6 258,473.5 258.5,474.2 259,474.5 259.5,475.3 260,472.7 260.5,472.5 261,474.5 261.5,474.7 262,473.5 262.5,474.3 263,472.6 263.5,473.9 264,472.9 264.5,473.4 265,475.3 265.5,473.8 266,472.8 266.5,474.2 267,475.7 267.5,474 268,472.7 268.5,472.9 269,471.8 269.5,471.9 270,472.6 270.5,473.5 271,472.9 271.5,473.8 272,475 272.5,474.5 273,471.6 273.5,471.8 274,471.9 274.5,473.4 275,473.5 275.5,472.9 276,472 276.5,470.9 277,470.7 277.5,472.8 278,472.2 278.5,471.8 279,472.1 279.5,472.9 280,473.2 280.5,471.4 281,470.6 281.5,468.6 282,468.9 282.5,468.9 283,469.4 283.5,470.8 284,470 284.5,469.2 285,468.7 285.5,468 286,467.5 286.5,466.8 287,466.7 287.5,466.9 288,466.5 288.5,465.4 289,466.9 289.5,467.7 290,467.5 290.5,465.9 291,466.1 291.5,467.4 292,466.6 292.5,466.7 293,465.4 293.5,464 294,463.7 294.5,464.4 295,464.5 295.5,464.7 296,466.8 296.5,465.9 297,465.3 297.5,467.3 298,466.8 298.5,464.5 299,463.8 299.5,464.8 300,465.2 300.5,463.9 301,465.2 301.5,464.7 302,464.8 302.5,464.1 303,464.1 303.5,464.4 304,464 304.5,462.6 305,463.3 305.5,461 306,461.6 306.5,462.2 307,461.9 307.5,461.6 308,459.8 308.5,461.1 309,462.5 309.5,461.5 310,460.5 310.5,461.7 311,461.8 311.5,461.5 312,462.9 312.5,461.5 313,460.6 313.5,461.2 314,460.7 314.5,460.8 315,460.9 315.5,460.4 316,460.8 316.5,460.9 317,460.7 317.5,458.7 318,458.9 318.5,459.3 319,458.4 319.5,456 320,456.6 320.5,458.4 321,458.8 321.5,458.2 322,458.4 322.5,458.8 323,457.1 323.5,456.8 324,458.7 324.5,458.2 325,456.8 325.5,456.7 326,458.4 326.5,456.9 327,456.3 327.5,457.4 328,455.5 328.5,456.1 329,456.9 329.5,455.9 330,455.5 330.5,455.6 331,454.3 331.5,454.9 332,455.5 332.5,454.6 333,456 333.5,455.1 334,454.5 334.5,454.5 335,455.2 335.5,454.6 336,455.3 336.5,456.5 337,455.6 337.5,453.3 338,454.4 338.5,453.4 339,453.3 339.5,453.2 340,452.8 340.5,452.2 341,453.3 341.5,453.5 342,452 342.5,452.2 343,453.2 343.5,453.2 344,452.2 344.5,451.6 345,451.3 345.5,450.5 346,450.5 346.5,449.8 347,448.7 347.5,446.5 348,447.1 348.5,449.8 349,450.9 349.5,450.6 350,450 350.5,449.8 351,450.2 351.5,449.5 352,450.1 352.5,450.7 353,448.3 353.5,448.2 354,448.2 354.5,446.7 355,447.7 355.5,450.1 356,449.9 356.5,449.3 357,449.5 357.5,448.3 358,449.7 358.5,448.2 359,447.3 359.5,448.6 360,448.5 360.5,447.7 361,446.6 361.5,444.5 362,444.2 362.5,446.6 363,447.7 363.5,446.2 364,445.8 364.5,444.1 365,444 365.5,445.7 366,447 366.5,447.5 367,447.2 367.5,445.3 368,445.6 368.5,446.2 369,444.8 369.5,445 370,445.6 370.5,446.1 371,447 371.5,446.6 372,444.8 372.5,443.6 373,446.4 373.5,447.6 374,447.1 374.5,446.8 375,447.1 375.5,447.4 376,445.9 376.5,445.4 377,444.8 377.5,445 378,444.5 378.5,443.7 379,442.9 379.5,444.8 380,445.1 380.5,442.5 381,445.2 381.5,444.9 382,444 382.5,444.5 383,444.2 383.5,444.5 384,445.5 384.5,444.6 385,443.9 385.5,443.2 386,442.8 386.5,442.3 387,442.8 387.5,443.1 388,444.6 388.5,444.2 389,445 389.5,445.8 390,445 390.5,443.7 391,444.1 391.5,442 392,442.6 392.5,439.8 393,440.2 393.5,441.2 394,440.1 394.5,438.4 395,439 395.5,440.3 396,439.5 396.5,441.4 397,442.8 397.5,442.7 398,441.3 398.5,440.3 399,440.8 399.5,443.4 400,442.4 400.5,440.8 401,440.3 401.5,439.7 402,437.5 402.5,438.9 403,437.8 403.5,436.8 404,439.4 404.5,439.3 405,439.7 405.5,439.2 406,439.9 406.5,441.8 407,441.1 407.5,439.9 408,438.5 408.5,439.8 409,439.3 409.5,439.3 410,438.4 410.5,439.3 411,439.2 411.5,437.5 412,438.2 412.5,438.1 413,439.6 413.5,439.1 414,439.4 414.5,441.6 415,439.6 415.5,437.7 416,438.2 416.5,438.2 417,438.1 417.5,436.9 418,438.2 418.5,436.5 419,435.4 419.5,435.1 420,436.1 420.5,437.9 421,436.2 421.5,434.4 422,435 422.5,436 423,436.5 423.5,435.5 424,436.7 424.5,438.8 425,436.5 425.5,435.1 426,434.5 426.5,435.7 427,435.6 427.5,437.2 428,437 428.5,435.6 429,433.9 429.5,433.4 430,433.5 430.5,433.7 431,433.3 431.5,433.1 432,433.7 432.5,433.6 433,433.7 433.5,435.1 434,435.1 434.5,434.4 435,436 435.5,435.3 436,435.6 436.5,435.3 437,432.4 437.5,433.3 438,434.5 438.5,434.7 439,434.4 439.5,433.5 440,431.1 440.5,431.3 441,432.3 441.5,430.6 442,431.5 442.5,432.6 443,433.6 443.5,434.1 444,433.1 444.5,431.5 445,431.3 445.5,432.6 446,433 446.5,432.3 447,431.6 447.5,430.5 448,428.9 448.5,429.8 449,430.2 449.5,428.8 450,429.7 450.5,431.1 451,432.1 451.5,429.9 452,428.4 452.5,427.2 453,426.8 453.5,426.1 454,426.6 454.5,429.1 455,429.3 455.5,428.6 456,426.4 456.5,425.3 457,426.6 457.5,430.2 458,429.8 458.5,427.3 459,427.9 459.5,428 460,426.8 460.5,427.3 461,429.1 461.5,429.5 462,429.3 462.5,428.6 463,428.2 463.5,428.3 464,428.3 464.5,429.6 465,428.7 465.5,428.4 466,427.6 466.5,427 467,427.3 467.5,427 468,426.9 468.5,428.7 469,429.8 469.5,428.1 470,426.6 470.5,425.3 471,424.8 471.5,426.6 472,426.7 472.5,425.2 473,425.1 473.5,424.9 474,426.4 474.5,425.7 475,425.8 475.5,425.8 476,422.7 476.5,424.1 477,424.6 477.5,424 478,424.4 478.5,425.1 479,423.3 479.5,423.3 480,425.6 480.5,425.3 481,424.5 481.5,424.4 482,423.5 482.5,422.9 483,423.2 483.5,423.5 484,422.5 484.5,421.6 485,423 485.5,423.9 486,423.8 486.5,424.3 487,424.2 487.5,424.2 488,423.1 488.5,422.3 489,422.7 489.5,422.3 490,420.4 490.5,419.8 491,421 491.5,419.7 492,419.4 492.5,418.9 493,419.7 493.5,421.3 494,421 494.5,417.7 495,415.8 495.5,415.2 496,419.2 496.5,421.2 497,419.8 497.5,418.9 498,419.1 498.5,417.9 499,419 499.5,420.1 500,419.8 500.5,418.5 501,416.8 501.5,416.1 502,416.4 502.5,418.8 503,418.5 503.5,416.7 504,416.2 504.5,416.1 505,415.6 505.5,416.5 506,416.8 506.5,416.5 507,415 507.5,412.7 508,413.7 508.5,413 509,413.5 509.5,416.5 510,414.9 510.5,414.1 511,413.8 511.5,414.1 512,415.4 512.5,413.4 513,414.4 513.5,414.9 514,416.5 514.5,416.5 515,414.9 515.5,413.8 516,415.8 516.5,416.8 517,416.2 517.5,415.4 518,415.6 518.5,414.7 519,415.2 519.5,415.4 520,414.3 520.5,413.3 521,413.3 521.5,412.6 522,412.6 522.5,414.3 523,413.5 523.5,412.6 524,412.6 524.5,413.2 525,412.4 525.5,411.8 526,412.4 526.5,411.9 527,410.4 527.5,410.4 528,412.2 528.5,411.6 529,412.3 529.5,411.7 530,410.6 530.5,410.8 531,411.9 531.5,410.1 532,409.4 532.5,409.2 533,409.4 533.5,409 534,409.2 534.5,408.6 535,409.8 535.5,410.1 536,409.5 536.5,409.2 537,411.3 537.5,412 538,409.7 538.5,408.6 539,409.5 539.5,409.1 540,409.1 540.5,408.8 541,407.2 541.5,407.9 542,406.4 542.5,405.7 543,407.2 543.5,408.7 544,407.5 544.5,407.5 545,406.9 545.5,408 546,408.5 546.5,408.9 547,408 547.5,406.7 548,405.3 548.5,407.1 549,408.2 549.5,407.6 550,407.4 550.5,407.9 551,407.6 551.5,406 552,406.4 552.5,407.2 553,406.8 553.5,405 554,404.3 554.5,406.6 555,408.2 555.5,408.8 556,407.1 556.5,405.4 557,405.9 557.5,405.4 558,404 558.5,402.7 559,402.2 559.5,403.3 560,404.1 560.5,404.7 561,404.8 561.5,405.7 562,407 562.5,406 563,406.2 563.5,404.4 564,403.8 564.5,403.5 565,403.3 565.5,406 566,405.7 566.5,405.8 567,406.3 567.5,405.4 568,404.4 568.5,401.4 569,403.3 569.5,402.9 570,402 570.5,402.9 571,402 571.5,400.2 572,399.9 572.5,401.9 573,399.4 573.5,401.2 574,403.5 574.5,402.4 575,400.7 575.5,400.5 576,400.5 576.5,401.2 577,400.7 577.5,399.2 578,399.5 578.5,401.4 579,399.7 579.5,400.2 580,402.9 580.5,400.4 581,398.8 581.5,399.5 582,400.9 582.5,399.9 583,399 583.5,397.3 584,398.4 584.5,399.6 585,400.2 585.5,401.3 586,399.4 586.5,395.6 587,395.9 587.5,397.4 588,398.3 588.5,399.1 589,398.9 589.5,396.3 590,395.9 590.5,398.3 591,396.8 591.5,395 592,396.1 592.5,396.7 593,395.8 593.5,396.2 594,397.6 594.5,396.4 595,397 595.5,397.1 596,397.4 596.5,398.8 597,397 597.5,398.7 598,396.5 598.5,396.1 599,397.3 599.5,398.3 600,397.7 600.5,396.4 601,396.5 601.5,398.4 602,398.6 602.5,397.1 603,398.1 603.5,397.9 604,396.8 604.5,395 605,394.9 605.5,395.4 606,393.2 606.5,394.9 607,396 607.5,395.3 608,398.2 608.5,398.4 609,395.7 609.5,395.7 610,395.7 610.5,395 611,395 611.5,396.2 612,397 612.5,395.3 613,394.5 613.5,394 614,393.4 614.5,394 615,393 615.5,392.7 616,393.4 616.5,391.7 617,392.3 617.5,393 618,392.8 618.5,391.5 619,391.9 619.5,393.2 620,393.9 620.5,393.2 621,392.4 621.5,391.7 622,391.2 622.5,389.4 623,392 623.5,393 624,391.4 624.5,390.6 625,391.8 625.5,391 626,391.8 626.5,390.5 627,389.6 627.5,389.9 628,389.9 628.5,390.7 629,391.5 629.5,390.9 630,390.5 630.5,391 631,391.4 631.5,391.1 632,391.4 632.5,391.3 633,391 633.5,390.9 634,390.6 634.5,391.3 635,391 635.5,390.8 636,389.4 636.5,388 637,388.8 637.5,389.8 638,390.2 638.5,390.4 639,390.9 639.5,388.3 640,387.4 640.5,388.9 641,389.3 641.5,390.1 642,391.8 642.5,392.7 643,388.8 643.5,387.7 644,388.1 644.5,386.9 645,387.6 645.5,389.4 646,388.4 646.5,388.2 647,388.3 647.5,386.1 648,387 648.5,387.6 649,387.4 649.5,386.4 650,386.7 650.5,387.6 651,388 651.5,387.1 652,387 652.5,385.2 653,387 653.5,387.6 654,385.9 654.5,385.9 655,386.4 655.5,387 656,387.5 656.5,386.4 657,385.4 657.5,385.3 658,385.9 658.5,386.3 659,385.6 659.5,384.5 660,384.3 660.5,383.8 661,383.5 661.5,383.8 662,384.1 662.5,384.6 663,383.2 663.5,383.1 664,382.8 664.5,384.2 665,384.7 665.5,385.3 666,384.4 666.5,382.9 667,383.2 667.5,382.9 668,382.5 668.5,382 669,382.4 669.5,382.8 670,383.5 670.5,384.6 671,382.3 671.5,381.3 672,380.9 672.5,380.5 673,380.5 673.5,380.8 674,381.1 674.5,382 675,381.6 675.5,380.6 676,381.4 676.5,381.9 677,381.6 677.5,381.5 678,381.9 678.5,382.5 679,381.9 679.5,381.1 680,381.7 680.5,382.3 681,380.9 681.5,381.4 682,382.3 682.5,385.1 683,383 683.5,381.2 684,380.3 684.5,379.1 685,380.6 685.5,383.1 686,382 686.5,380.8 687,380.8 687.5,380.5 688,379.8 688.5,380.6 689,380.5 689.5,378.8 690,378.3 690.5,376.2 691,377.1 691.5,380.2 692,381.5 692.5,381.1 693,378.2 693.5,378.3 694,378.9 694.5,380.1 695,379.7 695.5,379.4 696,379.6 696.5,379.1 697,379.8 697.5,379.4 698,380.1 698.5,379.5 699,378.5 699.5,376.7 700,375.5 700.5,375.8 701,376.8 701.5,375.7 702,377.7 702.5,376.6 703,375.4 703.5,376.2 704,375.5 704.5,376.1 705,376.6 705.5,377.8 706,377.9 706.5,377.2 707,376.1 707.5,376.8 708,376 708.5,375.7 709,376.1 709.5,375.5 710,374.6 710.5,375.5 711,374.8 711.5,376.2 712,376.6 712.5,376.3 713,376 713.5,377.4 714,377.3 714.5,377.4 715,376 715.5,375.7 716,376.8 716.5,377.2 717,375.1 717.5,374.9 718,375 718.5,374.9 719,375.1 719.5,376.2 720,375.8 720.5,375 721,375.5 721.5,375.2 722,373.3 722.5,372.9 723,374.6 723.5,374.8 724,370.8 724.5,371.2 725,372.4 725.5,371.4 726,372 726.5,371 727,369.2 727.5,369.6 728,370.2 728.5,369.7 729,370.7 729.5,370.7 730,370.2 730.5,370.5 731,370.2 731.5,370.1 732,369.9 732.5,371.4 733,370.9 733.5,372 734,373.2 734.5,372.3 735,370.3 735.5,369.6 736,369.5 736.5,369.3 737,367.8 737.5,367.1 738,368.9 738.5,369.9 739,371.5 739.5,371.1 740,367.9 740.5,367.7 741,369.6 741.5,370.1 742,368.9 742.5,367.6 743,366.9 743.5,369.5 744,368.2 744.5,368.4 745,368.1 745.5,367.3 746,368.8 746.5,369.3 747,367.8 747.5,367.3 748,367.8 748.5,368 749,367.1 749.5,365 750,364.4 750.5,364 751,362.3 751.5,363.4 752,365 752.5,364.9 753,365.2 753.5,366.8 754,367.1 754.5,367.1 755,366.2 755.5,365.5 756,365.4 756.5,365.8 757,364.4 757.5,365.2 758,367.2 758.5,367.6 759,366.2 759.5,365.1 760,365.7 760.5,364.7 761,364.2 761.5,364.1 762,366.3 762.5,365.8 763,362.8 763.5,361.8 764,362.9 764.5,364 765,364.1 765.5,362.3 766,360.9 766.5,361.9 767,361.6 767.5,360.1 768,360.8 768.5,361.1 769,360.9 769.5,362.3 770,363.7 770.5,363.4 771,361.5 771.5,361.6 772,362.7 772.5,361.9 773,362.4 773.5,363.3 774,359.6 774.5,359.8 775,360.6 775.5,362 776,363.6 776.5,362.3 777,361.8 777.5,362.2 778,362.3 778.5,363.8 779,365.3 779.5,362.9 780,362.5 780.5,362.1 781,360.9 781.5,362.8 782,362.2 782.5,360.3 783,361.2 783.5,361.6 784,360.9 784.5,361.7 785,359.9 785.5,358.8 786,360.4 786.5,360.2 787,359.4 787.5,357.7 788,357.5 788.5,358.4 789,359.5 789.5,360.4 790,362.1 790.5,362.2 791,360.5 791.5,360.4 792,361.7 792.5,360.7 793,360.5 793.5,359.3 794,359 794.5,358.7 795,358.3 795.5,358.5 796,357.3 796.5,357.3 797,358.2 797.5,358.2 798,354.7 798.5,355.3 799,356 799.5,355.5 800,356.4 800.5,356.5 801,356.1 801.5,355.4 802,355.4 802.5,355.3 803,355 803.5,355.6 804,354.7 804.5,354.3 805,354.7 805.5,356.5 806,355.4 806.5,354.9 807,356 807.5,355.4 808,355.4 808.5,355.1 809,355.2 809.5,354.2 810,352.8 810.5,355.6 811,355.3 811.5,353.3 812,354.4 812.5,354 813,354.2 813.5,355.3 814,355.2 814.5,355.2 815,355.9 815.5,354.5 816,352 816.5,351.4 817,352.6 817.5,351.1 818,351.8 818.5,352.2 819,352.7 819.5,354.4 820,353.9 820.5,353.3 821,353.8 821.5,353.2 822,354.6 822.5,355.1 823,352.8 823.5,352.2 824,352.2 824.5,349.3 825,348.8 825.5,348.8 826,348.7 826.5,350.3 827,351.1 827.5,350.8 828,351.1 828.5,352.1 829,352.7 829.5,352.4 830,351 830.5,351.1 831,352.3 831.5,352 832,352 832.5,350.6 833,350.3 833.5,350.1 834,350.7 834.5,351.1 835,351.1 835.5,351.9 836,349.7 836.5,350 837,348.9 837.5,348.9 838,348.3 838.5,348.5 839,348.2 839.5,346.9 840,346.2 840.5,346.8 841,348 841.5,349.3 842,349.3 842.5,346.9 843,347.8 843.5,347.9 844,348.3 844.5,349.1 845,349.6 845.5,349.3 846,349.4 846.5,350.5 847,349.7 847.5,349.5 848,349.9 848.5,348 849,348.3 849.5,350.4 850,348.8 850.5,347.3 851,349.4 851.5,349.7 852,347.2 852.5,346 853,346.9 853.5,347.1 854,345.8 854.5,345.4 855,346.7 855.5,346.4 856,344.2 856.5,344.3 857,345.2 857.5,345.5 858,346.4 858.5,347.5 859,348.5 859.5,347.5 860,346.6 860.5,344.3 861,344.8 861.5,345.9 862,344.7 862.5,346.4 863,346.3 863.5,345.4 864,344.5 864.5,343.2 865,343 865.5,343.5 866,344.2 866.5,345 867,343.2 867.5,342.2 868,341.7 868.5,343.2 869,344.1 869.5,345.5 870,346.2 870.5,344.5 871,342.9 871.5,343.4 872,343.6 872.5,342.9 873,342.1 873.5,342.7 874,342 874.5,342.7 875,342.2 875.5,340.9 876,344.1 876.5,345.9 877,343.6 877.5,342.8 878,343.4 878.5,341.8 879,342.2 879.5,342.4 880,341.5 880.5,341.2 881,340.4 881.5,340.6 882,341.2 882.5,339.9 883,339.3 883.5,339.5 884,340.2 884.5,339.4 885,339 885.5,339.4 886,337.5 886.5,337.8 887,340.9 887.5,342.8 888,341.2 888.5,340.7 889,339.6 889.5,340.4 890,340.9 890.5,340.5 891,339.8 891.5,340.9 892,339.3 892.5,339.8 893,338.5 893.5,339.7 894,341.3 894.5,341.6 895,339 895.5,337.6 896,339.3 896.5,338.4 897,337.6 897.5,337.7 898,337.9 898.5,339 899,338.7 899.5,338.6 900,338.1 900.5,336.9 901,337.6 901.5,338.7 902,339.1 902.5,337.5 903,336.4 903.5,336 904,336.6 904.5,337.6 905,337.6 905.5,336.4 906,337 906.5,337.5 907,337.1 907.5,337.2 908,337.5 908.5,336.7 909,337 909.5,336 910,336.1 910.5,335.7 911,337.3 911.5,337.8 912,337.5 912.5,335.2 913,334 913.5,334.3 914,335.9 914.5,337.5 915,337.5 915.5,336.5 916,335.1 916.5,336.5 917,336.3 917.5,334 918,331.9 918.5,333.3 919,335.2 919.5,336.7 920,335.8 920.5,335.5 921,337 921.5,337 922,335.6 922.5,335.5 923,335.3 923.5,333.6 924,333.7 924.5,332.9 925,332.5 925.5,334 926,335.6 926.5,336.3 927,335.8 927.5,335.5 928,333.9 928.5,332.5 929,333.4 929.5,334.4 930,334.4 930.5,336.2 931,335.5 931.5,334 932,334.6 932.5,334 933,333.6 933.5,332 934,331.8 934.5,331.1 935,331.3 935.5,333 936,333.7 936.5,332.2 937,331.4 937.5,330.5 938,331.1 938.5,331.4 939,330 939.5,329.9 940,329.7 940.5,331 941,331.8 941.5,330.9 942,329.4 942.5,327.9 943,327.1 943.5,328.9 944,330.1 944.5,328.6 945,328 945.5,327.6 946,327.7 946.5,330 947,330 947.5,327.9 948,328.6 948.5,331 949,330 949.5,329.8 950,329.5 950.5,330.1 951,329.3 951.5,328.7 952,329.2 952.5,332.4 953,333.3 953.5,331.1 954,330.7 954.5,330.5 955,329.8 955.5,329.4 956,329.4 956.5,329.6 957,327.8 957.5,327.8 958,328.6 958.5,327.8 959,329.4 959.5,328.5 960,328.6 960.5,329.3 961,328.1 961.5,327.4 962,326.9 962.5,327.7 963,327.6 963.5,326.4 964,327.5 964.5,328.3 965,327.5 965.5,326.8 966,328.5 966.5,329.1 967,327 967.5,325.4 968,326.5 968.5,328.1 969,329.7 969.5,329.7 970,328.5 970.5,327.1 971,327.6 971.5,326.6 972,324.7 972.5,324.3 973,325.8 973.5,324.9 974,327.2 974.5,328.5 975,326.1 975.5,324.4 976,324.4 976.5,324.9 977,326.4 977.5,327 978,325.7 978.5,325.6 979,326.3 979.5,328.2 980,328.2 980.5,326.4 981,326.5 981.5,326.3 982,324.6 982.5,325.2 983,325.4 983.5,324.2 984,325 984.5,324.8 985,324.5 985.5,325.1 986,323.9 986.5,324.4 987,324.5 987.5,325 988,323.8 988.5,324.4 989,325 989.5,325.5 990,325 990.5,322.2 991,322.2 991.5,322.3 992,324.3 992.5,324.8 993,323.3 993.5,323.6 994,324.5 994.5,323.6 995,322.3 995.5,320.8 996,321.9 996.5,323.2 997,321.8 997.5,322.7 998,323.1 998.5,323 999,323.2 999.5,322.5 1000,323.5 1000.5,322.8 1001,323.2 1001.5,322.2 1002,322.3 1002.5,322.6"/>
<path stroke="#FFCC99" d="M167,509.3 167.5,509.8 168,509.7 168.5,507.3 169,505.4 169.5,505.7 170,508.2 170.5,508.6 171,507.9 171.5,506 172,506.4 172.5,506.1 173,506.7 173.5,507.7 174,508.8 174.5,510.4 175,508.3 175.5,507.8 176,508.1 176.5,509 177,509.3 177.5,507.2 178,505.9 178.5,507.2 179,508 179.5,507.5 180,508.7 180.5,507.6 181,507.6 181.5,509 182,511.5 182.5,510.9 183,509.4 183.5,507.5 184,506.8 184.5,507.9 185,510.4 185.5,510.4 186,508.5 186.5,506.7 187,505.7 187.5,507.4 188,509.2 188.5,509.7 189,509.2 189.5,508.3 190,508.8 190.5,508.7 191,509 191.5,508.5 192,508.3 192.5,507.4 193,506.7 193.5,507.4 194,506.2 194.5,507 195,506.5 195.5,506.6 196,507.2 196.5,506.4 197,505.7 197.5,505.6 198,505.8 198.5,507.1 199,507.7 199.5,506.8 200,505.5 200.5,507.1 201,507.8 201.5,505.7 202,505.7 202.5,507.4 203,507.2 203.5,507.7 204,506.1 204.5,504.9 205,506.2 205.5,506.9 206,506.9 206.5,506 207,507 207.5,509 208,507.9 208.5,508.2 209,506.4 209.5,506.8 210,507.5 210.5,507.5 211,506.2 211.5,505.2 212,504.9 212.5,502.8 213,501.3 213.5,503.1 214,506.7 214.5,507.5 215,508 215.5,506.2 216,503.8 216.5,504.2 217,505.6 217.5,504.9 218,504.3 218.5,504.3 219,504.2 219.5,503.9 220,505.7 220.5,506 221,507.9 221.5,508.4 222,507 222.5,507.6 223,507.7 223.5,506.5 224,506.2 224.5,507.3 225,506.7 225.5,505.2 226,504.6 226.5,505.3 227,506.4 227.5,505.9 228,504.6 228.5,504.8 229,505.2 229.5,504.8 230,504.6 230.5,503.6 231,503.7 231.5,504.8 232,504.7 232.5,504.8 233,506.4 233.5,504.9 234,504.8 234.5,504.3 235,503.7 235.5,504.9 236,505.4 236.5,504.4 237,505.4 237.5,506.6 238,503.4 238.5,502.8 239,503.6 239.5,502.7 240,501.6 240.5,501.7 241,502.1 241.5,502.4 242,503.4 242.5,504.9 243,503.9 243.5,503.3 244,504.3 244.5,504.1 245,502.3 245.5,502 246,502.1 246.5,503.8 247,504.6 247.5,504.2 248,505 248.5,503.9 249,503.8 249.5,504.6 250,505.7 250.5,506.5 251,504.6 251.5,505.2 252,505.4 252.5,505.3 253,502.6 253.5,502.5 254,505.3 254.5,505.4 255,504.2 255.5,503 256,503.2 256.5,501.9 257,500.6 257.5,501.2 258,501.2 258.5,500.7 259,501 259.5,501.7 260,503.4 260.5,504.6 261,505 261.5,504.3 262,502.4 262.5,503.5 263,504.1 263.5,503 264,500.4 264.5,498.6 265,500.7 265.5,501 266,501.3 266.5,499.7 267,500.3 267.5,499.2 268,497.8 268.5,498.2 269,499 269.5,500 270,500.4 270.5,500.6 271,499.8 271.5,498.3 272,498.2 272.5,498.9 273,498.2 273.5,496.6 274,496.9 274.5,499.8 275,501 275.5,501.9 276,500.3 276.5,500.7 277,500.2 277.5,499.9 278,499.7 278.5,500.4 279,499.6 279.5,498.3 280,498.2 280.5,498.2 281,498.5 281.5,498.4 282,497.6 282.5,497.2 283,497 283.5,496 284,497.6 284.5,497 285,493.7 285.5,495 286,496 286.5,494.9 287,497.2 287.5,498.5 288,498.2 288.5,498.1 289,497.3 289.5,497.8 290,497.5 290.5,496.4 291,495.5 291.5,493.6 292,494 292.5,496.7 293,496.8 293.5,494.5 294,492.9 294.5,493.3 295,496.4 295.5,497.4 296,498.6 296.5,498.8 297,498.9 297.5,497.2 298,495.2 298.5,495.3 299,496 299.5,494.3 300,495.1 300.5,495.2 301,496 301.5,494.3 302,493.9 302.5,493.9 303,491.2 303.5,493.9 304,494.1 304.5,493.1 305,493.7 305.5,493.3 306,494 306.5,494.2 307,494.3 307.5,493 308,493.9 308.5,496.4 309,495.5 309.5,494.1 310,493.2 310.5,493.4 311,493.6 311.5,492.4 312,492.8 312.5,492.1 313,490.5 313.5,492.3 314,493.5 314.5,492 315,491.6 315.5,491.7 316,490.4 316.5,489.4 317,490.8 317.5,490.9 318,491.3 318.5,493.1 319,492 319.5,490.4 320,490.8 320.5,492.8 321,491.5 321.5,488.9 322,490.1 322.5,489.6 323,489.8 323.5,491.7 324,491.5 324.5,490.2 325,491 325.5,492 326,491.7 326.5,491.6 327,491.3 327.5,493 328,493 328.5,490.3 329,488.8 329.5,489.9 330,491.3 330.5,490.7 331,490 331.5,489.3 332,487.7 332.5,488.4 333,488.3 333.5,488 334,488.6 334.5,487.4 335,487.2 335.5,488.7 336,488.9 336.5,488.3 337,488.3 337.5,488.6 338,488.1 338.5,487.3 339,489.3 339.5,490.7 340,489.1 340.5,488.3 341,489.5 341.5,488.8 342,487.1 342.5,487 343,487.1 343.5,487.5 344,486.2 344.5,487.2 345,486 345.5,485.9 346,485.7 346.5,486.7 347,487.7 347.5,486.9 348,485.2 348.5,485.9 349,487.5 349.5,488.8 350,486.8 350.5,485.9 351,485.7 351.5,486.5 352,486.8 352.5,485.9 353,487.7 353.5,488 354,487.2 354.5,487.4 355,488.1 355.5,485.1 356,485.5 356.5,487.6 357,485.5 357.5,485.9 358,485.6 358.5,484.5 359,484.2 359.5,485 360,485.6 360.5,485.7 361,485.4 361.5,484.6 362,484.3 362.5,484.3 363,482.8 363.5,482.2 364,483.3 364.5,481.8 365,483.9 365.5,484.8 366,481.9 366.5,480.4 367,482.1 367.5,483.4 368,483.1 368.5,484.7 369,484.2 369.5,482.6 370,482.8 370.5,481.1 371,481.4 371.5,482.7 372,483.9 372.5,483.9 373,483.4 373.5,482.2 374,484.9 374.5,482.6 375,482.9 375.5,484.5 376,484 376.5,483.4 377,480.7 377.5,480 378,480.6 378.5,480.7 379,481.2 379.5,480.5 380,480 380.5,480.7 381,479.7 381.5,480.4 382,481.5 382.5,480.9 383,481.6 383.5,482.9 384,483.9 384.5,483.5 385,482.7 385.5,481.3 386,479.1 386.5,478.8 387,478.8 387.5,479.2 388,479.3 388.5,478.5 389,479.2 389.5,480.5 390,478.6 390.5,476.9 391,478.3 391.5,479.2 392,480.1 392.5,482.6 393,482.8 393.5,482.5 394,481 394.5,481.6 395,481.5 395.5,480.6 396,480 396.5,479.9 397,478.8 397.5,481.7 398,484.1 398.5,481.8 399,477.9 399.5,478.6 400,478.2 400.5,478 401,478.9 401.5,480.4 402,479.7 402.5,478.3 403,479.1 403.5,479.8 404,480.5 404.5,477.8 405,477.7 405.5,477.7 406,477.8 406.5,476.3 407,477.1 407.5,478.2 408,477.7 408.5,477.3 409,477.7 409.5,477 410,476.4 410.5,476.9 411,477.2 411.5,476.6 412,474.7 412.5,475.8 413,477 413.5,475.3 414,475.9 414.5,476.6 415,478.4 415.5,479.1 416,478 416.5,476.6 417,475.6 417.5,476.3 418,476.6 418.5,477.8 419,479.8 419.5,479.9 420,477.9 420.5,476.7 421,476.3 421.5,476.3 422,476.5 422.5,477.5 423,475.8 423.5,475.5 424,475.6 424.5,477.4 425,478.5 425.5,477.2 426,476.1 426.5,475.9 427,475.9 427.5,475.6 428,477.5 428.5,478.1 429,477.1 429.5,476.1 430,475.3 430.5,476 431,473.2 431.5,473.5 432,475.7 432.5,473.6 433,471.7 433.5,471.5 434,474.2 434.5,474.9 435,473.1 435.5,471.2 436,471.8 436.5,472 437,473.7 437.5,474.3 438,473.2 438.5,473.1 439,474.4 439.5,473.9 440,471.5 440.5,471.7 441,470.8 441.5,471.6 442,473.1 442.5,471.7 443,472.3 443.5,473.8 444,472.3 444.5,469.9 445,470.4 445.5,470.2 446,470.2 446.5,472.2 447,470.9 447.5,470.4 448,471.2 448.5,470.1 449,468.7 449.5,469.9 450,470.9 450.5,471.3 451,472.3 451.5,472.5 452,471.8 452.5,471.1 453,471.8 453.5,472.7 454,470.4 454.5,472 455,471.8 455.5,470.6 456,471.1 456.5,471.2 457,469.7 457.5,470.6 458,470.8 458.5,469.3 459,470.1 459.5,471.1 460,469.6 460.5,467.5 461,466.1 461.5,466.7 462,469.3 462.5,469.2 463,469 463.5,469 464,469.5 464.5,471.9 465,472.2 465.5,471.8 466,469.7 466.5,470.7 467,470.5 467.5,468.4 468,467.8 468.5,468.3 469,469.8 469.5,469 470,468 470.5,468.5 471,467.7 471.5,467.8 472,467.5 472.5,467.1 473,468.4 473.5,467.1 474,464.9 474.5,466.9 475,468.1 475.5,465.7 476,467.5 476.5,467.4 477,465.9 477.5,466.3 478,465.4 478.5,465.3 479,467.2 479.5,467 480,465 480.5,465.6 481,465.9 481.5,465.1 482,466.4 482.5,465.5 483,465.8 483.5,465.6 484,464.1 484.5,464.6 485,464.7 485.5,464.5 486,464.1 486.5,465.2 487,465.8 487.5,466.5 488,465.5 488.5,463.1 489,463.5 489.5,465 490,465.3 490.5,463.7 491,463.8 491.5,464 492,463.8 492.5,463.9 493,462.5 493.5,462.9 494,462.3 494.5,462.5 495,461.6 495.5,462 496,462.6 496.5,461.1 497,461.4 497.5,461.9 498,461 498.5,460.5 499,460.3 499.5,460 500,461.5 500.5,462.4 501,463 501.5,462.1 502,461.8 502.5,460.6 503,460.5 503.5,459.6 504,460.1 504.5,460.3 505,460.4 505.5,458.2 506,459.1 506.5,460 507,460.5 507.5,459.5 508,459.9 508.5,461.1 509,459.7 509.5,459.8 510,460.3 510.5,458.1 511,459.6 511.5,460.2 512,459.2 512.5,456.8 513,456.4 513.5,457 514,457.5 514.5,458.6 515,458.5 515.5,459.5 516,458.8 516.5,458.5 517,457.3 517.5,457.3 518,458.7 518.5,459.1 519,458.4 519.5,459.5 520,459.3 520.5,459.8 521,457.7 521.5,457.9 522,458.9 522.5,458 523,457.2 523.5,458 524,457.8 524.5,456.4 525,456.3 525.5,455 526,454.7 526.5,456.1 527,454.9 527.5,454.9 528,455.9 528.5,454.8 529,454.7 529.5,455.8 530,456.8 530.5,457.5 531,456.4 531.5,455.3 532,454.7 532.5,455.5 533,456.2 533.5,456.8 534,454.4 534.5,453.2 535,453.6 535.5,455.6 536,457.4 536.5,457.8 537,455.4 537.5,455.9 538,456.6 538.5,458.3 539,458.1 539.5,458.3 540,457.2 540.5,457.3 541,456.2 541.5,455.1 542,455.6 542.5,453.8 543,451.8 543.5,452.9 544,453 544.5,454.9 545,456.2 545.5,455.3 546,454.5 546.5,452.8 547,452.6 547.5,453.9 548,455.9 548.5,454.4 549,453.5 549.5,451.9 550,452.8 550.5,453.9 551,453.7 551.5,453.6 552,454.3 552.5,453.8 553,451.8 553.5,451.5 554,453.5 554.5,453.4 555,451.7 555.5,452.3 556,451.1 556.5,452.2 557,453.2 557.5,451.1 558,451.8 558.5,451.8 559,451.4 559.5,452.5 560,451.4 560.5,450.8 561,451 561.5,452.6 562,453.6 562.5,454 563,452.4 563.5,452.1 564,453.8 564.5,452.8 565,453.8 565.5,454.9 566,453.3 566.5,450.3 567,450.2 567.5,451.3 568,452.5 568.5,451.8 569,452.7 569.5,452.7 570,452.3 570.5,451.7 571,451.4 571.5,452.8 572,452.5 572.5,452.4 573,449.7 573.5,449 574,451 574.5,449.7 575,450 575.5,449.9 576,449.8 576.5,449.2 577,448 577.5,447.9 578,448.9 578.5,449.1 579,450.7 579.5,450.1 580,450.1 580.5,448.8 581,448.8 581.5,447.4 582,446.6 582.5,447 583,448.1 583.5,449.6 584,446.4 584.5,446.1 585,447.4 585.5,446.9 586,447 586.5,447.5 587,446.5 587.5,445.4 588,445.1 588.5,446.8 589,448.2 589.5,448.7 590,449.4 590.5,448.4 591,448.4 591.5,447 592,446.2 592.5,448.1 593,448 593.5,448.2 594,446.6 594.5,445.1 595,445.5 595.5,446.1 596,445.8 596.5,446.3 597,447 597.5,446.7 598,446.6 598.5,445.9 599,444.9 599.5,444 600,443.6 600.5,446.6 601,447.5 601.5,445.4 602,444.7 602.5,445.1 603,446.2 603.5,446 604,445.4 604.5,444.5 605,443.1 605.5,443.9 606,444.4 606.5,444.5 607,443.5 607.5,443.5 608,445.3 608.5,447.2 609,445.6 609.5,446.3 610,444.4 610.5,444.2 611,444.4 611.5,446.3 612,445.9 612.5,446 613,447.2 613.5,447.2 614,445.5 614.5,445.5 615,445.6 615.5,445.8 616,444.2 616.5,446.6 617,444.7 617.5,442.5 618,444 618.5,443.9 619,444.6 619.5,445.4 620,445.6 620.5,443.6 621,445.3 621.5,446 622,444.2 622.5,445.3 623,445.4 623.5,443.1 624,441.6 624.5,442.8 625,443.4 625.5,444.6 626,443.6 626.5,443.8 627,443.7 627.5,442.8 628,441.3 628.5,441.5 629,442.4 629.5,442.3 630,442.3 630.5,442.7 631,442.2 631.5,442.3 632,441.8 632.5,441.5 633,440.3 633.5,439.8 634,442.2 634.5,443.1 635,442.4 635.5,441.4 636,442.6 636.5,442.2 637,441.5 637.5,440.6 638,440.3 638.5,440.4 639,441 639.5,440.4 640,440.4 640.5,439.8 641,439.2 641.5,440.3 642,440.8 642.5,439.5 643,437.5 643.5,440.4 644,440.2 644.5,439.7 645,441.8 645.5,440.9 646,440.6 646.5,439.1 647,437.4 647.5,439.4 648,438.9 648.5,440.1 649,439.4 649.5,437.8 650,436.7 650.5,438.2 651,438.9 651.5,439.5 652,439.3 652.5,440.3 653,439.4 653.5,439.7 654,441.6 654.5,440.3 655,438.3 655.5,437.9 656,436.1 656.5,436.4 657,437 657.5,436.4 658,436.5 658.5,437.7 659,436.9 659.5,436.3 660,436.5 660.5,437.1 661,438.6 661.5,438.1 662,437.1 662.5,439.6 663,439.9 663.5,438.1 664,437.2 664.5,437.7 665,437.7 665.5,438.3 666,438.4 666.5,438.4 667,435.8 667.5,436 668,437 668.5,436.4 669,435.9 669.5,436.2 670,438.6 670.5,437.8 671,437.5 671.5,436.4 672,436.5 672.5,437.8 673,439.8 673.5,440.5 674,441 674.5,440.6 675,439.6 675.5,437.3 676,436.7 676.5,437.8 677,436.5 677.5,436.6 678,435.6 678.5,435 679,435.7 679.5,435.3 680,436 680.5,437 681,436.6 681.5,436.8 682,435.7 682.5,435.3 683,434.6 683.5,435.1 684,432.9 684.5,434.1 685,433.9 685.5,430.9 686,430.9 686.5,432.1 687,434 687.5,434.6 688,435.2 688.5,437.1 689,438.3 689.5,435.9 690,436.1 690.5,436.5 691,436.3 691.5,433.1 692,432.6 692.5,433.2 693,433.7 693.5,434.8 694,433.8 694.5,432.2 695,432.6 695.5,432.1 696,432.7 696.5,433.1 697,433.2 697.5,435.3 698,436.4 698.5,434.1 699,432.4 699.5,435.4 700,436.6 700.5,434.7 701,434.8 701.5,435.5 702,435.1 702.5,435.5 703,434.4 703.5,432.7 704,432.4 704.5,432.5 705,432.8 705.5,434.6 706,434.2 706.5,433.9 707,434.7 707.5,434.8 708,435.9 708.5,436.4 709,434.7 709.5,433 710,433 710.5,435.4 711,434.4 711.5,432.7 712,432.3 712.5,432 713,433.7 713.5,433 714,431.2 714.5,430.9 715,433.6 715.5,431.8 716,429 716.5,430.1 717,431.3 717.5,431.2 718,430.7 718.5,432.4 719,432.3 719.5,431.3 720,429.9 720.5,428.8 721,429.9 721.5,430.3 722,429.8 722.5,431.1 723,431.6 723.5,430.2 724,429.6 724.5,430.4 725,431.9 725.5,430.8 726,427.5 726.5,428.5 727,431.1 727.5,429.7 728,430.4 728.5,430.1 729,429.9 729.5,428.5 730,428.6 730.5,429.1 731,428.7 731.5,429 732,430.1 732.5,429.6 733,430 733.5,428.7 734,428.6 734.5,429.7 735,429.9 735.5,429.8 736,428.7 736.5,427.9 737,426.8 737.5,425.7 738,426.9 738.5,428.4 739,427.7 739.5,427.9 740,428.2 740.5,426.6 741,426.9 741.5,426.9 742,427.5 742.5,425.7 743,425.9 743.5,426.1 744,426.1 744.5,426.7 745,428.3 745.5,426.6 746,425.2 746.5,423.6 747,423.3 747.5,423.6 748,423.9 748.5,425.2 749,424.7 749.5,424.6 750,424.7 750.5,423.8 751,423.3 751.5,424.1 752,425.1 752.5,424.8 753,424.8 753.5,426.9 754,426.8 754.5,427.2 755,427.6 755.5,426.2 756,427.2 756.5,427.3 757,426.5 757.5,424.8 758,425.1 758.5,426.1 759,426.7 759.5,427.5 760,425.9 760.5,425.4 761,424.3 761.5,423 762,423.4 762.5,424.5 763,426 763.5,425.3 764,423 764.5,422.3 765,423.2 765.5,424.3 766,427.1 766.5,426.5 767,425.1 767.5,424.3 768,424 768.5,424.1 769,422.5 769.5,423.9 770,425.2 770.5,426.1 771,424.1 771.5,425.2 772,425.1 772.5,425.2 773,424.4 773.5,425.2 774,426.8 774.5,427.7 775,425.1 775.5,424.7 776,424.9 776.5,424.6 777,424.9 777.5,424.9 778,423.8 778.5,422.7 779,423.4 779.5,422.4 780,423.3 780.5,423.9 781,422.1 781.5,422.4 782,423 782.5,422.6 783,422.1 783.5,422.5 784,422.6 784.5,421.1 785,421.4 785.5,421.9 786,420.3 786.5,419.7 787,421.5 787.5,422.2 788,422.1 788.5,421 789,420.9 789.5,423 790,423.4 790.5,422.4 791,421 791.5,420.8 792,419.8 792.5,419.6 793,420.8 793.5,421.4 794,421.5 794.5,421.7 795,422.5 795.5,420.6 796,421.3 796.5,420.6 797,420.6 797.5,420 798,422.3 798.5,421.4 799,418.9 799.5,420.5 800,420.7 800.5,420.9 801,420.3 801.5,419.5 802,418.6 802.5,419.3 803,419.5 803.5,418.1 804,418.5 804.5,419.8 805,420.1 805.5,419.7 806,420.4 806.5,419.1 807,419.6 807.5,419.6 808,417.9 808.5,418.5 809,417.2 809.5,416.6 810,418.8 810.5,418.8 811,417.1 811.5,417.8 812,417.8 812.5,417.4 813,418.6 813.5,416.7 814,415.5 814.5,416 815,416 815.5,415.6 816,415.2 816.5,414.7 817,415.6 817.5,414.9 818,416.7 818.5,416.8 819,415.6 819.5,415.2 820,415.3 820.5,416.7 821,418.5 821.5,417.4 822,416.9 822.5,418.3 823,416.8 823.5,417 824,419.2 824.5,418.7 825,418.6 825.5,418.1 826,417.9 826.5,418.1 827,418.8 827.5,419.2 828,415.6 828.5,413.9 829,415.2 829.5,415.2 830,415.9 830.5,415.3 831,416.4 831.5,417.2 832,415.5 832.5,415 833,415.9 833.5,415 834,415.1 834.5,414.9 835,414.5 835.5,415.8 836,415.2 836.5,416.5 837,416.1 837.5,414.7 838,415.4 838.5,416.5 839,416.5 839.5,417.6 840,415.7 840.5,415.8 841,413.9 841.5,414.7 842,415.3 842.5,413.2 843,413.9 843.5,413 844,412.4 844.5,412.9 845,413.3 845.5,413.3 846,413.1 846.5,412 847,411.3 847.5,415.1 848,416.5 848.5,414.5 849,412.6 849.5,411.8 850,412.7 850.5,412.6 851,411.5 851.5,412.2 852,413.4 852.5,413.2 853,412.8 853.5,412.7 854,412.2 854.5,412.7 855,412.9 855.5,412.3 856,413.1 856.5,414.4 857,413.8 857.5,410.5 858,411 858.5,413.8 859,414 859.5,413.2 860,411.8 860.5,413 861,414.2 861.5,413.9 862,412.7 862.5,412.8 863,413.7 863.5,414.2 864,413.9 864.5,410.9 865,411.9 865.5,413.4 866,411.8 866.5,412.6 867,413.5 867.5,411.8 868,412.8 868.5,413.8 869,410.4 869.5,409.4 870,411.7 870.5,411.1 871,410.8 871.5,411.4 872,412 872.5,411.3 873,412.2 873.5,412.3 874,412 874.5,412.8 875,412.4 875.5,413 876,414.5 876.5,410.4 877,409.4 877.5,409.9 878,410.5 878.5,411 879,411.4 879.5,412.8 880,410.2 880.5,408.7 881,409.3 881.5,408.9 882,409 882.5,410.1 883,410.2 883.5,410 884,408.6 884.5,409.7 885,409.7 885.5,408.7 886,408.3 886.5,409.4 887,409.7 887.5,411.3 888,411.8 888.5,412.5 889,414.3 889.5,412.1 890,408.6 890.5,409.9 891,410.2 891.5,409.6 892,409.2 892.5,408.9 893,405.7 893.5,406.5 894,408.8 894.5,409.1 895,409.1 895.5,407.8 896,407.6 896.5,408.8 897,408 897.5,406.8 898,408.4 898.5,408 899,409.1 899.5,409.1 900,409.2 900.5,408.8 901,407 901.5,407.5 902,406.9 902.5,406.3 903,406 903.5,405.5 904,405.8 904.5,405.8 905,405.5 905.5,406.8 906,406.1 906.5,405.2 907,406.9 907.5,407.2 908,406 908.5,407.2 909,407.5 909.5,407.9 910,407.8 910.5,408.1 911,406.9 911.5,404.8 912,406.5 912.5,407.7 913,408.2 913.5,408.4 914,407.9 914.5,408.5 915,407.8 915.5,406.1 916,406 916.5,407.8 917,406.9 917.5,404.1 918,404.7 918.5,407 919,406 919.5,404.4 920,406.3 920.5,407.7 921,407.3 921.5,406.4 922,405.8 922.5,405.3 923,405.3 923.5,406.9 924,409.5 924.5,409.3 925,405.7 925.5,403.7 926,404.6 926.5,404.9 927,404.4 927.5,403.5 928,404.6 928.5,404.9 929,404.9 929.5,404 930,404.6 930.5,403.9 931,403.7 931.5,403.9 932,403.9 932.5,403.7 933,403.4 933.5,403.2 934,403 934.5,403.2 935,404.4 935.5,406.6 936,405.9 936.5,403.7 937,403.3 937.5,405.4 938,405.1 938.5,405.3 939,405 939.5,402.2 940,402.6 940.5,404.2 941,405.2 941.5,404 942,403.6 942.5,403.6 943,403.7 943.5,403.6 944,402.7 944.5,402.3 945,402.9 945.5,404.2 946,404.6 946.5,403.5 947,403.2 947.5,404.5 948,404.4 948.5,404.1 949,403.2 949.5,402.9 950,403.6 950.5,403.6 951,404 951.5,402.6 952,402.9 952.5,402.5 953,401.4 953.5,401.3 954,400.9 954.5,401.3 955,402.5 955.5,404.2 956,401.6 956.5,401.6 957,401.2 957.5,401.3 958,400.7 958.5,400.9 959,403.2 959.5,402.8 960,400.3 960.5,401.1 961,401.1 961.5,400.3 962,401.9 962.5,402.6 963,402.2 963.5,402.8 964,403.5 964.5,402 965,403.3 965.5,403 966,398.7 966.5,400.3 967,402.6 967.5,401.7 968,401.1 968.5,402.8 969,402.1 969.5,400.1 970,401.5 970.5,401.5 971,401.2 971.5,400.5 972,401.8 972.5,401.7 973,400.7 973.5,401.8 974,404.1 974.5,404 975,401.5 975.5,402.4 976,402.1 976.5,401.6 977,402.6 977.5,403.5 978,402 978.5,399.9 979,400.3 979.5,401.1 980,401.3 980.5,400.3 981,400.1 981.5,400.5 982,400.1 982.5,398.8 983,401.2 983.5,401.3 984,400.2 984.5,399.5 985,401.2 985.5,402.6 986,399.9 986.5,398.4 987,399.9 987.5,399.9 988,398.9 988.5,397.7 989,399.2 989.5,398.2 990,394.3 990.5,397.6 991,399.3 991.5,397.3 992,396.2 992.5,399.2 993,401.9 993.5,401.6 994,402.6 994.5,401.2 995,399.8 995.5,399.9 996,401.1 996.5,399 997,398.7 997.5,399.3 998,399.8 998.5,398.9 999,397 999.5,397.5 1000,399.9 1000.5,398.7 1001,397.6 1001.5,397.1 1002,397 1002.5,396.6"/>
<path stroke="#FFCCCC" d="M167,508.7 167.5,510.6 168,512 168.5,512 169,510.4 169.5,507.8 170,507.8 170.5,508.8 171,510.4 171.5,508.9 172,508.2 172.5,506.8 173,505.5 173.5,507.8 174,506.3 174.5,506.2 175,505.9 175.5,506.6 176,507.1 176.5,507.9 177,509.1 177.5,507.3 178,507.8 178.5,508.8 179,508 179.5,508.3 180,510.5 180.5,509.3 181,507.3 181.5,507.4 182,506.9 182.5,507.3 183,506.7 183.5,508.5 184,509.1 184.5,509.1 185,509 185.5,509 186,508.3 186.5,509.2 187,510.1 187.5,509.4 188,508.2 188.5,508.4 189,506.9 189.5,506.4 190,506.3 190.5,506.4 191,507.2 191.5,508.3 192,508.7 192.5,507.6 193,506.6 193.5,507.8 194,508 194.5,505.9 195,505.1 195.5,506.9 196,508.8 196.5,507 197,506.7 197.5,507 198,505.2 198.5,504.9 199,506.4 199.5,507.3 200,506.2 200.5,504.9 201,504.7 201.5,506.7 202,505.5 202.5,506.4 203,505.6 203.5,507 204,507.4 204.5,505.2 205,506 205.5,506.9 206,507.1 206.5,506.1 207,506.9 207.5,505.7 208,504.7 208.5,506.6 209,507.1 209.5,505.6 210,505.2 210.5,506.5 211,506.6 211.5,504.5 212,506.3 212.5,507.1 213,504.7 213.5,505.1 214,505.3 214.5,505.8 215,506 215.5,503.6 216,503.4 216.5,503.2 217,504.9 217.5,506.6 218,504.2 218.5,503.6 219,504 219.5,504.8 220,504.1 220.5,503.3 221,503.4 221.5,503.7 222,502.2 222.5,501.9 223,505 223.5,504.9 224,503.9 224.5,504.4 225,504.9 225.5,503.7 226,503.8 226.5,504.1 227,504.5 227.5,501.4 228,502.3 228.5,505 229,503.4 229.5,502.8 230,502.1 230.5,501.6 231,504 231.5,505.4 232,504.5 232.5,502.7 233,503.5 233.5,505.4 234,503.7 234.5,502.7 235,504 235.5,502.8 236,501 236.5,502.3 237,504.3 237.5,503.8 238,503.8 238.5,504 239,502.4 239.5,501.4 240,502.4 240.5,502.3 241,502.2 241.5,501.4 242,500.6 242.5,500.3 243,502.5 243.5,503.8 244,501.7 244.5,503.1 245,503 245.5,501.2 246,500.9 246.5,502.2 247,501.7 247.5,501.3 248,501.9 248.5,503.1 249,500.6 249.5,502 250,503.7 250.5,502.9 251,503.7 251.5,502 252,501.7 252.5,501.9 253,500.7 253.5,501.2 254,501.7 254.5,500.9 255,501.9 255.5,502.1 256,500.2 256.5,500.6 257,501.2 257.5,500.8 258,502.5 258.5,502.9 259,501.4 259.5,501.6 260,501.3 260.5,502 261,502.8 261.5,502.5 262,502.5 262.5,502.5 263,503.8 263.5,503.4 264,501.8 264.5,503.1 265,504.6 265.5,502.5 266,503.8 266.5,504.8 267,502.5 267.5,501.5 268,499.8 268.5,502.5 269,503.1 269.5,502.7 270,502.3 270.5,503 271,503.2 271.5,502.3 272,501 272.5,500.6 273,500.6 273.5,500 274,498.8 274.5,498.3 275,498.9 275.5,498.5 276,498.3 276.5,497.5 277,497.4 277.5,498.6 278,500.2 278.5,502.3 279,501.2 279.5,501.6 280,501.4 280.5,500.7 281,500.3 281.5,501 282,500.4 282.5,498.9 283,500 283.5,499.1 284,497.3 284.5,498 285,499.8 285.5,499.9 286,499 286.5,499.6 287,498.5 287.5,495.7 288,495.7 288.5,496.9 289,496.1 289.5,496.2 290,497.1 290.5,496.6 291,495.6 291.5,496 292,498.3 292.5,496.1 293,496.5 293.5,498.2 294,497.2 294.5,495.8 295,496.3 295.5,498.9 296,498.4 296.5,495.5 297,496 297.5,499 298,500.2 298.5,498.8 299,498.9 299.5,496.8 300,496.1 300.5,497.4 301,499.6 301.5,500.3 302,500 302.5,498.8 303,501 303.5,501.1 304,502.8 304.5,500.2 305,497.4 305.5,498 306,498.3 306.5,500 307,499.6 307.5,499.4 308,497.5 308.5,497.3 309,498.5 309.5,498.6 310,498.2 310.5,499.9 311,500.6 311.5,499 312,498.2 312.5,498.3 313,499.1 313.5,498.8 314,499.2 314.5,499.6 315,498.1 315.5,497.5 316,498.1 316.5,499.4 317,498.3 317.5,497.8 318,498 318.5,499.1 319,498.6 319.5,497.7 320,499.5 320.5,500.2 321,500.8 321.5,500.3 322,499 322.5,498.4 323,500.2 323.5,500.2 324,497.9 324.5,497.9 325,498.2 325.5,497.6 326,497.3 326.5,496.3 327,496.3 327.5,497.1 328,495.3 328.5,496.3 329,495.8 329.5,495.9 330,495.6 330.5,495.8 331,495.5 331.5,495.4 332,493.9 332.5,494 333,495.6 333.5,496.4 334,496.2 334.5,498 335,496.9 335.5,496.4 336,494.1 336.5,494 337,494.1 337.5,493.6 338,493.5 338.5,494.5 339,495.4 339.5,497.6 340,496.9 340.5,496 341,495 341.5,498.3 342,498.8 342.5,495.8 343,494.8 343.5,495.8 344,497.2 344.5,494.7 345,493.6 345.5,493.6 346,495.5 346.5,496 347,494.9 347.5,496.2 348,495.4 348.5,494.4 349,495.9 349.5,497.2 350,497.2 350.5,496.5 351,496.5 351.5,495.3 352,495.6 352.5,496.5 353,494.5 353.5,492.9 354,492.4 354.5,492.7 355,491.9 355.5,492.5 356,493.1 356.5,493.7 357,493.3 357.5,494.3 358,495.1 358.5,496 359,496.7 359.5,496.5 360,494 360.5,492.6 361,494.3 361.5,494.1 362,493.2 362.5,494.6 363,495.6 363.5,493.8 364,492.4 364.5,492.3 365,492.3 365.5,493.8 366,491.2 366.5,490.9 367,492.8 367.5,491.7 368,490.9 368.5,493.2 369,493.3 369.5,491.3 370,493.2 370.5,495 371,495.7 371.5,494.6 372,494.2 372.5,493.7 373,494.4 373.5,495.1 374,493.6 374.5,491.5 375,492.1 375.5,493.1 376,490.1 376.5,489.4 377,490.1 377.5,491.4 378,489.8 378.5,489.6 379,490.4 379.5,491.3 380,490.9 380.5,489 381,488.2 381.5,488.9 382,491.2 382.5,490.8 383,490.9 383.5,490.4 384,488.6 384.5,488.1 385,489.8 385.5,492.4 386,490.9 386.5,490 387,489.6 387.5,491.7 388,489.1 388.5,486.4 389,487.1 389.5,488.7 390,489.4 390.5,488.7 391,489.4 391.5,489.6 392,489.4 392.5,489.2 393,490.3 393.5,491.2 394,490.2 394.5,490.7 395,493.3 395.5,492.1 396,490.5 396.5,488.9 397,489.9 397.5,488.7 398,490.3 398.5,489.9 399,488.4 399.5,487.9 400,488.3 400.5,487.3 401,486.4 401.5,488 402,486.5 402.5,486.9 403,487.9 403.5,489 404,487.3 404.5,489 405,488.3 405.5,485 406,485.9 406.5,487.3 407,487.8 407.5,489.3 408,490.5 408.5,490.5 409,489.2 409.5,489.7 410,489.7 410.5,490 411,489.7 411.5,489.4 412,489.3 412.5,489.9 413,489.1 413.5,487.1 414,486.4 414.5,489.1 415,489.5 415.5,488.7 416,489.2 416.5,488.1 417,487.4 417.5,487.5 418,489.4 418.5,489.7 419,487.2 419.5,486.3 420,487.7 420.5,487.7 421,486.2 421.5,484.1 422,485 422.5,485.2 423,484.7 423.5,485.1 424,484.9 424.5,485.2 425,485 425.5,485.5 426,487.1 426.5,486.3 427,486.7 427.5,486.7 428,485 428.5,484.8 429,484.5 429.5,484.6 430,484.3 430.5,485.8 431,485.1 431.5,483.9 432,484.8 432.5,483.7 433,483.4 433.5,485.3 434,485.3 434.5,484.9 435,486.2 435.5,486.3 436,486.2 436.5,486.7 437,486.6 437.5,487 438,486.3 438.5,484.7 439,481.9 439.5,484.2 440,486.6 440.5,484.6 441,483.8 441.5,482.8 442,481.9 442.5,484.3 443,486.4 443.5,485.7 444,483.2 444.5,481.8 445,482.3 445.5,483.3 446,483.3 446.5,484.2 447,483.7 447.5,481.9 448,482.3 448.5,484.5 449,484.9 449.5,484.3 450,484.9 450.5,483.3 451,482.3 451.5,482.5 452,482 452.5,479.8 453,481.4 453.5,482.1 454,481.1 454.5,481.6 455,483.5 455.5,482.5 456,482.5 456.5,483.1 457,482.5 457.5,484.5 458,482.2 458.5,480.8 459,480.2 459.5,480.6 460,480.7 460.5,480.9 461,479.9 461.5,479.5 462,482.8 462.5,483.6 463,483.2 463.5,482.9 464,482.3 464.5,482 465,484.1 465.5,481.2 466,480.3 466.5,482.8 467,481.4 467.5,480.6 468,479.9 468.5,480.7 469,481.8 469.5,481.5 470,480.6 470.5,481.8 471,480.6 471.5,480.1 472,482.3 472.5,482.3 473,481.1 473.5,480.7 474,481.6 474.5,480.6 475,479.9 475.5,480.8 476,480.2 476.5,479.1 477,480.1 477.5,478.1 478,478.4 478.5,479.9 479,480.3 479.5,481.1 480,480.1 480.5,478.1 481,480.4 481.5,479.8 482,479.3 482.5,478.3 483,478.2 483.5,479.8 484,480.1 484.5,479.4 485,479.1 485.5,480.9 486,480.5 486.5,480.1 487,479.7 487.5,480.1 488,481.2 488.5,481.4 489,481.1 489.5,480 490,479.2 490.5,478 491,478.5 491.5,478.2 492,478.1 492.5,478.9 493,479 493.5,477.8 494,477 494.5,478.5 495,479.6 495.5,479.7 496,478.4 496.5,477.4 497,477.3 497.5,478.9 498,479.2 498.5,479.4 499,478.4 499.5,480 500,479.2 500.5,478.6 501,479.2 501.5,479.9 502,479.2 502.5,476.6 503,477.3 503.5,478.9 504,479.1 504.5,478.3 505,477.4 505.5,478.3 506,478.3 506.5,479 507,480.2 507.5,479.6 508,480.2 508.5,481.4 509,480.4 509.5,477.6 510,476.5 510.5,476.5 511,478.9 511.5,478.4 512,477.6 512.5,477.4 513,476.9 513.5,477.8 514,477.4 514.5,478.5 515,478.3 515.5,477.8 516,478.1 516.5,477.5 517,478 517.5,479.7 518,480.5 518.5,479.9 519,479.4 519.5,477.2 520,478 520.5,478.3 521,478.1 521.5,479.5 522,480.8 522.5,479.9 523,480.1 523.5,480.6 524,480.2 524.5,478.6 525,478.1 525.5,479.8 526,479.7 526.5,479 527,480 527.5,477.9 528,477 528.5,477.7 529,477.1 529.5,477.9 530,478.1 530.5,477.6 531,477.4 531.5,475.5 532,474.6 532.5,477.3 533,478.2 533.5,477.4 534,476 534.5,476.1 535,476 535.5,476.5 536,475 536.5,475.5 537,475.7 537.5,476.4 538,475.3 538.5,473.5 539,474 539.5,474.2 540,475.6 540.5,475.8 541,474.3 541.5,475 542,474.4 542.5,475 543,476.6 543.5,478 544,477.9 544.5,477.5 545,476.6 545.5,476.8 546,477.5 546.5,477.2 547,476.9 547.5,477.5 548,478.7 548.5,478.8 549,478.2 549.5,476.6 550,474.7 550.5,474.3 551,475.2 551.5,474.1 552,473.3 552.5,475.7 553,478.4 553.5,477 554,476.3 554.5,476.3 555,475.9 555.5,474.9 556,476.3 556.5,477.2 557,476.8 557.5,476.6 558,476.5 558.5,476.5 559,474.3 559.5,473.2 560,474.6 560.5,475.8 561,476 561.5,474.9 562,475.1 562.5,475.4 563,475.7 563.5,475 564,475.8 564.5,475.9 565,474.9 565.5,474.5 566,474.1 566.5,473.8 567,473.6 567.5,473.8 568,475.5 568.5,475.7 569,475.2 569.5,475.4 570,476 570.5,477.5 571,476.9 571.5,475.6 572,475.3 572.5,473.4 573,473.4 573.5,473.7 574,474.2 574.5,473.3 575,472.5 575.5,471.9 576,471 576.5,470.9 577,471.7 577.5,473.3 578,473.9 578.5,474.9 579,475.9 579.5,474.5 580,471.8 580.5,473 581,475.3 581.5,474.7 582,474.4 582.5,473.7 583,472.5 583.5,473.6 584,473.3 584.5,472.5 585,474.1 585.5,475.2 586,473.1 586.5,471.6 587,472 587.5,471 588,469.7 588.5,471.6 589,472.8 589.5,471.9 590,472.3 590.5,472.5 591,472.1 591.5,472.1 592,472.2 592.5,472.5 593,473 593.5,473.5 594,472.7 594.5,472.6 595,473.6 595.5,473.9 596,475.6 596.5,474.8 597,475.6 597.5,474.3 598,473.7 598.5,474 599,473.3 599.5,472.4 600,471.8 600.5,471.2 601,471.7 601.5,472.7 602,471.5 602.5,474.7 603,475 603.5,474.2 604,476 604.5,476.6 605,474.5 605.5,470.4 606,470.4 606.5,472.6 607,472 607.5,472.6 608,472.4 608.5,472.6 609,472.1 609.5,471.5 610,470.2 610.5,470.9 611,471.2 611.5,472.2 612,471.3 612.5,471.8 613,472 613.5,471 614,470.3 614.5,471.1 615,471.7 615.5,472.1 616,470.7 616.5,470.7 617,472.6 617.5,473.3 618,474.3 618.5,473.6 619,470.9 619.5,471.9 620,472.5 620.5,472.6 621,473.8 621.5,474.5 622,472.5 622.5,472.2 623,473.1 623.5,473.2 624,472.5 624.5,473.4 625,473.4 625.5,471.8 626,472 626.5,470.9 627,471.2 627.5,469.3 628,468 628.5,467.6 629,468.5 629.5,469.1 630,469.1 630.5,469 631,469.1 631.5,469.1 632,469.6 632.5,470.1 633,470 633.5,470.1 634,469 634.5,469.1 635,470.7 635.5,470 636,470 636.5,468.8 637,467.8 637.5,467.9 638,469.2 638.5,471 639,469.9 639.5,469.9 640,469.7 640.5,469.5 641,468.9 641.5,470.4 642,469.8 642.5,469 643,469 643.5,466.9 644,467.1 644.5,468.9 645,469.7 645.5,468.6 646,470 646.5,469.5 647,467.5 647.5,468.7 648,469.3 648.5,468.3 649,469.3 649.5,468.2 650,470.4 650.5,471.6 651,471.9 651.5,471 652,469.4 652.5,468.2 653,470.6 653.5,470.4 654,469.4 654.5,467.1 655,465.5 655.5,467.2 656,466.9 656.5,467.5 657,467.7 657.5,466.5 658,467.3 658.5,466.6 659,466.8 659.5,467.5 660,465.8 660.5,466.1 661,467.3 661.5,468.5 662,468.1 662.5,467.9 663,466.2 663.5,465.7 664,467.7 664.5,469.8 665,469 665.5,467.6 666,467.8 666.5,469.7 667,468.9 667.5,466.2 668,466.3 668.5,469.7 669,469 669.5,468.2 670,468.3 670.5,467.7 671,467.3 671.5,466.5 672,464.7 672.5,465.5 673,466.3 673.5,467.6 674,467.3 674.5,465.7 675,465.4 675.5,466.4 676,468.2 676.5,467.4 677,466 677.5,467 678,466.2 678.5,467.4 679,466.9 679.5,465.6 680,466.3 680.5,467.5 681,469.1 681.5,468.8 682,466 682.5,466.8 683,468.7 683.5,468.5 684,468.3 684.5,468.4 685,468.6 685.5,468.5 686,466.1 686.5,464.3 687,466.1 687.5,465.4 688,464.4 688.5,465.5 689,465.4 689.5,465 690,463.9 690.5,465.7 691,466.1 691.5,465.7 692,464.7 692.5,464.9 693,466.7 693.5,466.7 694,465.2 694.5,464.5 695,465.7 695.5,465.7 696,466.2 696.5,465.4 697,465.9 697.5,466.1 698,465.6 698.5,465.8 699,465.1 699.5,466.6 700,465.7 700.5,465 701,465.1 701.5,464.8 702,464.6 702.5,465.1 703,464.6 703.5,464.8 704,465.2 704.5,464.7 705,464.4 705.5,466.2 706,467 706.5,465 707,465 707.5,463.8 708,463.3 708.5,462.7 709,462.8 709.5,462.9 710,463.5 710.5,464.4 711,466.1 711.5,464.3 712,465.1 712.5,465.1 713,462.6 713.5,462.8 714,465 714.5,464.1 715,463.5 715.5,461.9 716,463.1 716.5,465.1 717,467.2 717.5,467.7 718,465.8 718.5,466.5 719,465.5 719.5,464.5 720,464.3 720.5,463.6 721,462.5 721.5,463.1 722,462.8 722.5,464.7 723,466.2 723.5,463.7 724,464.3 724.5,462.5 725,462.7 725.5,464.2 726,464.4 726.5,465 727,464.9 727.5,463.2 728,462.9 728.5,464.2 729,465 729.5,465 730,462.5 730.5,464.4 731,464.7 731.5,463.4 732,462.5 732.5,462.3 733,463.2 733.5,465.2 734,464.3 734.5,463.5 735,463.9 735.5,464.5 736,464.6 736.5,463.7 737,462.9 737.5,462.4 738,462.9 738.5,462.9 739,462.4 739.5,463.1 740,464.8 740.5,464.6 741,464.2 741.5,464.6 742,464 742.5,464.2 743,463.7 743.5,464.3 744,463.4 744.5,461.6 745,460.7 745.5,461.8 746,461.8 746.5,460.8 747,461.2 747.5,461.5 748,461.8 748.5,461 749,462.6 749.5,464.8 750,464.2 750.5,463.3 751,463.9 751.5,462.8 752,463.3 752.5,462.8 753,462.2 753.5,463.6 754,464.9 754.5,462.1 755,461.9 755.5,463.9 756,462.6 756.5,462.2 757,462 757.5,462.1 758,462.7 758.5,461.5 759,461 759.5,461.9 760,463 760.5,463.4 761,462 761.5,462.2 762,462.3 762.5,461.3 763,460.7 763.5,459 764,457.8 764.5,459.2 765,458.7 765.5,459.5 766,458.7 766.5,458.5 767,459.4 767.5,459.3 768,460.5 768.5,460.8 769,461.4 769.5,463 770,462.3 770.5,461 771,461.3 771.5,460.6 772,459.1 772.5,457.7 773,458.9 773.5,461.3 774,460.4 774.5,460.7 775,461.2 775.5,459.5 776,459.1 776.5,456.2 777,455.9 777.5,455.8 778,457.6 778.5,457.9 779,457 779.5,458 780,461 780.5,459.5 781,458.2 781.5,456.7 782,456.6 782.5,457.5 783,457.3 783.5,457.2 784,456.6 784.5,455.6 785,457.3 785.5,458 786,458.4 786.5,459.1 787,459.6 787.5,457.8 788,458.1 788.5,459.1 789,458.2 789.5,458.7 790,457.5 790.5,456.8 791,456.5 791.5,458.1 792,460.7 792.5,460.4 793,458.4 793.5,458.2 794,458 794.5,455.7 795,455.4 795.5,454.9 796,453.2 796.5,453.6 797,454.1 797.5,454.3 798,453.8 798.5,452.5 799,454.5 799.5,455 800,455.8 800.5,456.2 801,456.2 801.5,456.8 802,454.3 802.5,454.8 803,455.9 803.5,456.7 804,455.5 804.5,455.3 805,455.5 805.5,456.3 806,453.9 806.5,452.4 807,452.9 807.5,454.4 808,454.5 808.5,451.1 809,452 809.5,454.8 810,453.7 810.5,452.8 811,452.9 811.5,452.5 812,452.7 812.5,453.7 813,454.4 813.5,455.5 814,453.2 814.5,454.8 815,455.6 815.5,456.8 816,455.3 816.5,456.3 817,457.5 817.5,456.2 818,454.5 818.5,454.5 819,455.5 819.5,456.4 820,455.5 820.5,454.8 821,453.3 821.5,454.3 822,455.4 822.5,454 823,453.2 823.5,453.9 824,455.5 824.5,455.5 825,454.8 825.5,453.3 826,452.9 826.5,455.2 827,455.1 827.5,455.8 828,455.6 828.5,454 829,453.8 829.5,454.8 830,452.1 830.5,452.1 831,455.4 831.5,454.5 832,454.9 832.5,456.5 833,456.6 833.5,453.6 834,453.6 834.5,454.5 835,453.4 835.5,452.7 836,453.1 836.5,451.6 837,453.1 837.5,452.7 838,452 838.5,451.2 839,451.8 839.5,453 840,452.8 840.5,453.3 841,452.7 841.5,451.6 842,451.6 842.5,452 843,452.5 843.5,453.6 844,452.6 844.5,454 845,452.2 845.5,451.3 846,451.4 846.5,451 847,453.4 847.5,454 848,453.6 848.5,453.4 849,451.7 849.5,449.1 850,450.3 850.5,450.5 851,451.6 851.5,451.1 852,450.6 852.5,450.8 853,452.7 853.5,453.1 854,451.5 854.5,452.4 855,452.9 855.5,452.3 856,452.6 856.5,454.1 857,454.6 857.5,453.9 858,453.6 858.5,453 859,451.6 859.5,451.6 860,451.4 860.5,450.9 861,452.8 861.5,454.7 862,454.4 862.5,451.8 863,450.6 863.5,450.7 864,452 864.5,452.2 865,452.5 865.5,451 866,451.4 866.5,451.4 867,451.9 867.5,451.1 868,450.1 868.5,452.1 869,452.1 869.5,451.7 870,450.9 870.5,450 871,450.9 871.5,452.2 872,452.7 872.5,451 873,450.2 873.5,451.2 874,450.3 874.5,449.8 875,450.2 875.5,450.2 876,448.9 876.5,449.6 877,449.7 877.5,450 878,451 878.5,448.8 879,449.5 879.5,450.4 880,451 880.5,451.2 881,448.4 881.5,448.8 882,448.7 882.5,448.2 883,449.2 883.5,450.2 884,450.6 884.5,451.4 885,449 885.5,449.7 886,450.3 886.5,450.2 887,450.4 887.5,449.8 888,450 888.5,449.3 889,448.5 889.5,448 890,448.7 890.5,449.7 891,449.2 891.5,449.9 892,449.5 892.5,450.1 893,450.9 893.5,449.3 894,450.2 894.5,451.7 895,451.6 895.5,451.7 896,452 896.5,450.4 897,450.9 897.5,451.8 898,449.8 898.5,450.6 899,451.3 899.5,451.1 900,450.8 900.5,449.8 901,450.3 901.5,450.5 902,450.8 902.5,451.3 903,452.7 903.5,452.8 904,453.3 904.5,452.2 905,451.3 905.5,451.6 906,451.5 906.5,449.1 907,447.6 907.5,448.3 908,450.3 908.5,450 909,449.9 909.5,450.6 910,451.1 910.5,449.9 911,449 911.5,449.5 912,450.4 912.5,449.8 913,450.2 913.5,450.3 914,448.7 914.5,447.3 915,446.9 915.5,447.3 916,447.4 916.5,448 917,447.3 917.5,448.1 918,448.3 918.5,448.6 919,447.3 919.5,448 920,448.1 920.5,446.4 921,447.2 921.5,446.7 922,445.7 922.5,445.5 923,446.7 923.5,446.6 924,447 924.5,446.9 925,444.6 925.5,448 926,450.1 926.5,448 927,446.9 927.5,447.6 928,449.4 928.5,450.3 929,446.5 929.5,444.1 930,446.7 930.5,447.4 931,447.1 931.5,446.3 932,445 932.5,446.6 933,446.7 933.5,447.2 934,446.6 934.5,445.5 935,445.6 935.5,448.3 936,448.1 936.5,448.6 937,449.8 937.5,449.1 938,447.6 938.5,446 939,448.6 939.5,448.8 940,446.2 940.5,445.5 941,447.1 941.5,447.5 942,447.9 942.5,445.8 943,446.2 943.5,447.2 944,446.4 944.5,444.2 945,443.4 945.5,445.1 946,446.9 946.5,444.6 947,444.3 947.5,445.7 948,446.1 948.5,446.4 949,444.8 949.5,444.9 950,446.5 950.5,446.2 951,446 951.5,445.3 952,445.4 952.5,445.8 953,446.2 953.5,446.5 954,447.2 954.5,448 955,449.9 955.5,450.5 956,449.1 956.5,450 957,448.3 957.5,445.7 958,446.5 958.5,446.2 959,447.4 959.5,447 960,448.4 960.5,448.2 961,445.7 961.5,445.2 962,446.6 962.5,445.5 963,446.1 963.5,447.1 964,446.6 964.5,447.4 965,448.3 965.5,447 966,446.2 966.5,444 967,442.1 967.5,444.3 968,445.3 968.5,445.6 969,445.1 969.5,444.3 970,444.4 970.5,445 971,444.1 971.5,443.9 972,445.5 972.5,446 973,446.2 973.5,445.3 974,445.1 974.5,444.6 975,445.4 975.5,447.3 976,448 976.5,446.5 977,446.2 977.5,444.9 978,443.9 978.5,444.7 979,445.2 979.5,445 980,444.7 980.5,445.8 981,446.5 981.5,445.4 982,445.8 982.5,446.6 983,447 983.5,447.1 984,447.1 984.5,445.9 985,444.2 985.5,444.2 986,444.8 986.5,444.5 987,444.6 987.5,445.2 988,445.2 988.5,444.9 989,446 989.5,446.7 990,444.2 990.5,443.3 991,443.6 991.5,445.8 992,445.7 992.5,443.9 993,444.5 993.5,443.9 994,445.2 994.5,445.5 995,444.8 995.5,443.6 996,445 996.5,446 997,446.6 997.5,445.5 998,444.4 998.5,443.9 999,444.9 999.5,445.5 1000,445.5 1000.5,445.1 1001,443.5 1001.5,442.3 1002,443.9 1002.5,445.9"/>
<path stroke="#FFCCFF" d="M167,508.2 167.5,509.1 168,511.2 168.5,510.9 169,510.5 169.5,509.6 170,509.8 170.5,508.8 171,510.3 171.5,510.9 172,509.9 172.5,509.8 173,509 173.5,508.8 174,509.3 174.5,509.4 175,509 175.5,508.5 176,506.6 176.5,506.1 177,506.8 177.5,504.6 178,504.4 178.5,505.7 179,508.1 179.5,509.7 180,511.2 180.5,508.7 181,507.8 181.5,507.9 182,507.7 182.5,509.4 183,508.5 183.5,508.4 184,509.3 184.5,509.2 185,510 185.5,510.4 186,510.1 186.5,508.7 187,507.6 187.5,507.7 188,506.5 188.5,505.5 189,506.2 189.5,508.1 190,507.3 190.5,508.8 191,508.4 191.5,507.9 192,508.8 192.5,509.6 193,507.7 193.5,508.3 194,507.9 194.5,506.6 195,505.6 195.5,506.4 196,507 196.5,508.2 197,509 197.5,508.2 198,507.7 198.5,508.4 199,506.4 199.5,505.8 200,505.6 200.5,506.2 201,505.9 201.5,505.3 202,505.5 202.5,505 203,504.4 203.5,505.3 204,504.4 204.5,504.5 205,505.7 205.5,505.4 206,506.9 206.5,509.6 207,508.6 207.5,506.8 208,507.1 208.5,508.7 209,508.2 209.5,507.1 210,507.3 210.5,506.2 211,508.2 211.5,508.9 212,508 212.5,505.4 213,506.8 213.5,508.4 214,507 214.5,506.4 215,507 215.5,505.1 216,505.9 216.5,506.6 217,506.1 217.5,506.6 218,507.7 218.5,507.5 219,506.1 219.5,504.3 220,503.5 220.5,503.9 221,504.2 221.5,505 222,507.4 222.5,505.2 223,504.2 223.5,504.3 224,502.7 224.5,503.2 225,504.3 225.5,504 226,504.9 226.5,504.2 227,505.1 227.5,506.8 228,506.6 228.5,505.5 229,505.5 229.5,505.7 230,504.5 230.5,504 231,505.9 231.5,506.4 232,505.3 232.5,504.1 233,503.2 233.5,503.6 234,504.4 234.5,505.6 235,506.3 235.5,506 236,505.7 236.5,504.6 237,506 237.5,506.9 238,504.9 238.5,503.7 239,506.2 239.5,507.6 240,506.5 240.5,505.2 241,504.9 241.5,503.1 242,504.1 242.5,504.6 243,505.6 243.5,505.1 244,507.7 244.5,508.9 245,508.2 245.5,506.4 246,504.4 246.5,504.7 247,505.9 247.5,505.4 248,504.2 248.5,504 249,503.9 249.5,504.8 250,505.3 250.5,506.4 251,505.9 251.5,505.2 252,505.3 252.5,502.3 253,502.2 253.5,503.7 254,505.5 254.5,506.8 255,505.8 255.5,504.6 256,503.3 256.5,501.6 257,502.6 257.5,504.5 258,503.9 258.5,502.9 259,503 259.5,502.2 260,501.3 260.5,502.7 261,502.8 261.5,502.6 262,503.6 262.5,504.1 263,504.7 263.5,504.8 264,504.8 264.5,504.3 265,503.8 265.5,504.3 266,504.9 266.5,505.5 267,504.5 267.5,503.8 268,504.6 268.5,504.3 269,505.2 269.5,506.2 270,504.4 270.5,501.8 271,501.9 271.5,502.8 272,501.5 272.5,502.3 273,503.4 273.5,502.9 274,502.6 274.5,503.3 275,503.2 275.5,503.2 276,503.8 276.5,502.9 277,503.2 277.5,504.6 278,504.3 278.5,503.1 279,502.6 279.5,503 280,502.6 280.5,501.1 281,501.7 281.5,503 282,502.2 282.5,503.6 283,503 283.5,501.4 284,500.6 284.5,501 285,501.7 285.5,501.8 286,502.3 286.5,501.5 287,500.6 287.5,501.8 288,502.4 288.5,501.5 289,500.6 289.5,501.1 290,502.2 290.5,502.1 291,504.1 291.5,503 292,500.2 292.5,500.4 293,501.4 293.5,500.8 294,501.9 294.5,503.3 295,502.8 295.5,501.5 296,502.8 296.5,502.9 297,501.5 297.5,501.7 298,500.5 298.5,500 299,502.4 299.5,502.5 300,499.7 300.5,498.5 301,501.3 301.5,501.3 302,501.3 302.5,500.6 303,502.2 303.5,503.3 304,502.8 304.5,503.1 305,503.2 305.5,503.3 306,502 306.5,501 307,500 307.5,501.1 308,501.4 308.5,501.1 309,502.4 309.5,502.7 310,504.6 310.5,502.6 311,500.4 311.5,500.9 312,502.1 312.5,502.9 313,502.8 313.5,501.4 314,501.8 314.5,501.5 315,501.7 315.5,500.9 316,500.7 316.5,500.8 317,500.1 317.5,500.7 318,500.6 318.5,498.9 319,499.6 319.5,500.7 320,502 320.5,501.5 321,500.8 321.5,500.3 322,501 322.5,500.9 323,501.5 323.5,500.6 324,500.5 324.5,501.1 325,500.4 325.5,498.8 326,499.8 326.5,499.5 327,497.8 327.5,498.6 328,500.9 328.5,500.8 329,500.2 329.5,500.4 330,499 330.5,500.5 331,500.1 331.5,500.7 332,499.2 332.5,498.5 333,499 333.5,499 334,500 334.5,499.8 335,498.5 335.5,498.4 336,499.3 336.5,500.7 337,499.9 337.5,500.2 338,499.3 338.5,497.9 339,497.5 339.5,499.3 340,500.1 340.5,500.2 341,500.8 341.5,500.8 342,501.1 342.5,499.5 343,497.9 343.5,498.6 344,497.2 344.5,496.9 345,496.8 345.5,498.9 346,499.3 346.5,496.9 347,496.6 347.5,496.7 348,496.3 348.5,497.8 349,498 349.5,496.5 350,495.5 350.5,496.6 351,498.2 351.5,497.4 352,498.6 352.5,499.6 353,499.9 353.5,499.4 354,500 354.5,500.7 355,499.1 355.5,499.5 356,500.1 356.5,498.5 357,498.3 357.5,495.8 358,495.7 358.5,496.5 359,498.1 359.5,498.1 360,497.3 360.5,501.2 361,502.8 361.5,501.6 362,500 362.5,499.9 363,499 363.5,498.6 364,498.8 364.5,499.5 365,498.9 365.5,499.4 366,500.9 366.5,499.6 367,499.6 367.5,499.3 368,498.2 368.5,498.4 369,499.5 369.5,498.6 370,498.9 370.5,498.1 371,498.4 371.5,499.2 372,496.7 372.5,496.7 373,497.5 373.5,498.3 374,497.8 374.5,498.6 375,500 375.5,501.4 376,500 376.5,498.4 377,500.3 377.5,499.2 378,497.9 378.5,498.3 379,497.6 379.5,497.5 380,497.2 380.5,496.6 381,495.8 381.5,498.4 382,498.5 382.5,498.5 383,497.9 383.5,497.5 384,498.6 384.5,498.2 385,496.6 385.5,496.6 386,495.6 386.5,495.2 387,496 387.5,495.8 388,494.9 388.5,493.3 389,494.3 389.5,496 390,497.1 390.5,496.9 391,496 391.5,496.1 392,495.2 392.5,496.8 393,498.1 393.5,496.1 394,495.3 394.5,496.9 395,496.6 395.5,496.7 396,497.1 396.5,496.9 397,497.3 397.5,496.1 398,495.8 398.5,496.8 399,497 399.5,496.8 400,496.8 400.5,495.9 401,495.3 401.5,495.6 402,494.4 402.5,495.8 403,497.3 403.5,497.5 404,497.6 404.5,496.4 405,495.9 405.5,495.7 406,495.8 406.5,496.8 407,497.5 407.5,497.2 408,498.2 408.5,496.7 409,494.7 409.5,496.4 410,496.6 410.5,496.7 411,496.3 411.5,497.4 412,500 412.5,499.5 413,497.5 413.5,496.5 414,496.5 414.5,496.5 415,497.6 415.5,497.4 416,495.2 416.5,496.1 417,496.1 417.5,496.2 418,496.9 418.5,495.8 419,495.7 419.5,496.5 420,496.4 420.5,497 421,497.9 421.5,497.1 422,499 422.5,499.4 423,497.8 423.5,497.5 424,496.1 424.5,496.1 425,495.8 425.5,495.7 426,496.9 426.5,496.9 427,496.1 427.5,493.9 428,494.3 428.5,494 429,493.7 429.5,495.8 430,496 430.5,496.6 431,497.4 431.5,496.5 432,496.9 432.5,495.2 433,497.2 433.5,496.9 434,494.5 434.5,494.9 435,497.7 435.5,496.3 436,496.8 436.5,496.4 437,495.7 437.5,494.8 438,493.5 438.5,493.2 439,494.2 439.5,495.1 440,493 440.5,493.5 441,495.3 441.5,495.1 442,494.4 442.5,493.3 443,492.5 443.5,492.9 444,492.7 444.5,492.8 445,491.9 445.5,491.8 446,493.2 446.5,491.5 447,492.9 447.5,492.6 448,491.9 448.5,491.5 449,492 449.5,492.3 450,492 450.5,494.5 451,494.8 451.5,494.3 452,494.6 452.5,495.4 453,494.7 453.5,494.5 454,493.9 454.5,494.8 455,492.7 455.5,491.3 456,492 456.5,493.9 457,494.7 457.5,494.4 458,494.8 458.5,492.4 459,491.8 459.5,493.1 460,494.5 460.5,493.2 461,493.2 461.5,492.9 462,493.6 462.5,494.4 463,497.4 463.5,495.8 464,494 464.5,494.5 465,493.6 465.5,492.8 466,492.8 466.5,491.9 467,494 467.5,493.8 468,491.4 468.5,490.8 469,490.2 469.5,492.1 470,492.8 470.5,492.4 471,491.9 471.5,492 472,491.7 472.5,491.8 473,491.5 473.5,491.3 474,490.6 474.5,489.1 475,490.8 475.5,493.3 476,493.7 476.5,491.9 477,492.2 477.5,492.7 478,490.8 478.5,491.1 479,490.4 479.5,491.7 480,491.9 480.5,491.8 481,492.6 481.5,493.3 482,489.6 482.5,489.9 483,492.2 483.5,492.3 484,491.5 484.5,492 485,491.8 485.5,492 486,492.2 486.5,490.6 487,491.1 487.5,491.6 488,490.9 488.5,491.5 489,489.6 489.5,488.2 490,489 490.5,490.9 491,492 491.5,491.1 492,491.2 492.5,491.8 493,492.1 493.5,491 494,491.3 494.5,491.3 495,492.8 495.5,492.6 496,490.3 496.5,491.6 497,492.3 497.5,492.4 498,491.2 498.5,490.8 499,490.3 499.5,492.4 500,493.9 500.5,492.6 501,493.2 501.5,493.1 502,491.3 502.5,491.1 503,491.6 503.5,492 504,490.9 504.5,491.1 505,490.3 505.5,490.9 506,489.9 506.5,488.1 507,489 507.5,490 508,489.7 508.5,490.7 509,491.8 509.5,489.2 510,488.8 510.5,489.5 511,490.4 511.5,490.5 512,490.6 512.5,490.2 513,491.2 513.5,494.4 514,495.2 514.5,492.7 515,491.5 515.5,490.3 516,491.5 516.5,493.1 517,492.9 517.5,492.7 518,494.9 518.5,495.5 519,491.9 519.5,490.2 520,491.5 520.5,491.5 521,489.9 521.5,490.4 522,491.6 522.5,490.8 523,489.8 523.5,490.5 524,490.1 524.5,491.3 525,489.6 525.5,487.2 526,488.1 526.5,490.4 527,491.4 527.5,489.9 528,489.5 528.5,490.6 529,488.4 529.5,488.7 530,486.6 530.5,485.6 531,486.9 531.5,488.9 532,488.8 532.5,488.3 533,488.4 533.5,488.2 534,489.7 534.5,489 535,488.3 535.5,486.8 536,487 536.5,486.9 537,487.7 537.5,486.7 538,488.6 538.5,489.7 539,489.6 539.5,490.4 540,490.3 540.5,488.3 541,487.3 541.5,487.3 542,487.5 542.5,487.2 543,487.6 543.5,489 544,487.6 544.5,487.2 545,488.2 545.5,486.6 546,487.2 546.5,488.5 547,488.4 547.5,486.6 548,486 548.5,486.4 549,487.7 549.5,489.5 550,489 550.5,488.5 551,487.4 551.5,487.6 552,488.8 552.5,488.5 553,488 553.5,488.4 554,486.9 554.5,486.2 555,486.1 555.5,486.3 556,486.9 556.5,485.6 557,486.1 557.5,484.5 558,484.5 558.5,486.7 559,487.5 559.5,486.5 560,485.4 560.5,488 561,488.2 561.5,486.7 562,487.5 562.5,486.2 563,485.8 563.5,485 564,484.2 564.5,484.1 565,485.7 565.5,487 566,486.8 566.5,487.8 567,488.8 567.5,489.5 568,489 568.5,487.8 569,487.4 569.5,486.7 570,485.4 570.5,485.6 571,487.5 571.5,486.1 572,486.9 572.5,487.9 573,486.6 573.5,485.7 574,486.9 574.5,487.7 575,485.6 575.5,485.1 576,486.1 576.5,487.8 577,488.1 577.5,487.1 578,487.8 578.5,488.5 579,487.2 579.5,487.9 580,489.2 580.5,489.7 581,489.1 581.5,487.3 582,487.6 582.5,487.7 583,488.2 583.5,488.3 584,487.7 584.5,488.4 585,490.4 585.5,490.2 586,488.6 586.5,487.8 587,488.4 587.5,485.5 588,483.6 588.5,484.3 589,483.4 589.5,481.9 590,482.9 590.5,484 591,484.6 591.5,485.7 592,486.4 592.5,486.1 593,485 593.5,486.8 594,487.8 594.5,486.1 595,485.5 595.5,486.2 596,486.2 596.5,485.5 597,485 597.5,483.2 598,482.1 598.5,483 599,483.7 599.5,483.9 600,483.4 600.5,483.3 601,484.6 601.5,485.2 602,484.5 602.5,484.3 603,484.5 603.5,484.3 604,484.6 604.5,483.2 605,482.4 605.5,485.3 606,485.1 606.5,484.7 607,483.7 607.5,483.5 608,483.8 608.5,483.9 609,483.3 609.5,482.9 610,484 610.5,484.6 611,485.4 611.5,483.3 612,483 612.5,482.9 613,481.4 613.5,481.5 614,481.1 614.5,482.4 615,483.7 615.5,484.3 616,485.1 616.5,484.9 617,485.4 617.5,484.4 618,482.2 618.5,483.3 619,483.2 619.5,485.1 620,486.6 620.5,486.5 621,485.3 621.5,484.1 622,483.3 622.5,484.9 623,484.9 623.5,483.9 624,482.5 624.5,482.3 625,483.6 625.5,484.9 626,484 626.5,483.3 627,484.7 627.5,485.2 628,484.2 628.5,483.5 629,483.6 629.5,483.5 630,483.4 630.5,482.6 631,484 631.5,484.2 632,484.5 632.5,481 633,480.5 633.5,480.8 634,482.4 634.5,483.1 635,482.6 635.5,483.3 636,483.5 636.5,483 637,483.3 637.5,482.7 638,483.1 638.5,483.2 639,482.8 639.5,482.8 640,483.9 640.5,484.6 641,484.9 641.5,482.1 642,482.8 642.5,483.8 643,484.2 643.5,484.7 644,485.5 644.5,482.5 645,481 645.5,482.2 646,481.6 646.5,481.9 647,482.5 647.5,483.7 648,482.3 648.5,483.7 649,483.4 649.5,482.9 650,482.5 650.5,481.7 651,482.5 651.5,482.8 652,481.9 652.5,480.9 653,481.2 653.5,481.5 654,481 654.5,480 655,481.5 655.5,482.5 656,482.1 656.5,482.9 657,482.1 657.5,480.9 658,480.1 658.5,479.9 659,480.6 659.5,481 660,480.4 660.5,481.5 661,482.4 661.5,479.8 662,480.6 662.5,481.1 663,481.1 663.5,480.8 664,480.2 664.5,479.6 665,479.3 665.5,478.7 666,478.9 666.5,479.9 667,480.3 667.5,480.1 668,479.1 668.5,479.5 669,482.4 669.5,482 670,481.5 670.5,481.1 671,481.4 671.5,481.9 672,481.7 672.5,480.4 673,480.5 673.5,480.1 674,478.1 674.5,479 675,479.5 675.5,478.4 676,478.9 676.5,480.6 677,480.3 677.5,479.3 678,478.8 678.5,480.4 679,482.7 679.5,479.9 680,477.3 680.5,477.1 681,479.6 681.5,479.5 682,478.7 682.5,480.6 683,480.6 683.5,478.3 684,478 684.5,478.9 685,478.9 685.5,479.4 686,479.5 686.5,478.1 687,477.8 687.5,476.9 688,478.4 688.5,478.1 689,474.6 689.5,475.4 690,476.9 690.5,476 691,477.4 691.5,478.5 692,478.6 692.5,478.9 693,478.8 693.5,479.3 694,478.3 694.5,477.6 695,476.9 695.5,476.6 696,478.3 696.5,479.1 697,478.7 697.5,478.1 698,478.8 698.5,480.1 699,480 699.5,480.3 700,479.3 700.5,478.9 701,480.1 701.5,477.3 702,475.6 702.5,476.6 703,478 703.5,478.6 704,477.9 704.5,477.4 705,478.8 705.5,478.2 706,477.3 706.5,477.2 707,479.2 707.5,478.8 708,477.2 708.5,478.5 709,478.2 709.5,478 710,478.8 710.5,477.7 711,478.2 711.5,479.1 712,477.6 712.5,475.5 713,475.6 713.5,476.2 714,475.4 714.5,475.8 715,476.1 715.5,474.7 716,474 716.5,475.9 717,477.2 717.5,476.1 718,476.2 718.5,476.7 719,476.2 719.5,475.4 720,477 720.5,477.6 721,477 721.5,477.7 722,477.1 722.5,476.6 723,477.6 723.5,479.8 724,480.1 724.5,479.7 725,480 725.5,478.4 726,478.6 726.5,476.9 727,475.4 727.5,477.4 728,477 728.5,475.1 729,475.7 729.5,476.6 730,476.3 730.5,476.3 731,475.6 731.5,478 732,476.7 732.5,475.4 733,475.5 733.5,475.1 734,474.3 734.5,474.9 735,476.7 735.5,477 736,475.5 736.5,476 737,476.4 737.5,478.1 738,477.2 738.5,476.5 739,476 739.5,475.7 740,474.8 740.5,474.8 741,477.1 741.5,477.6 742,476.4 742.5,474.4 743,475 743.5,475.9 744,474.8 744.5,473.1 745,473.8 745.5,472.9 746,473.2 746.5,473.6 747,471.7 747.5,474.2 748,473.6 748.5,473.5 749,474 749.5,474 750,474 750.5,473.9 751,474.3 751.5,473.7 752,474.3 752.5,474.6 753,474.8 753.5,475.7 754,474.5 754.5,474.4 755,476.7 755.5,476.4 756,474.8 756.5,474.2 757,475.3 757.5,474.6 758,473.7 758.5,474 759,475 759.5,474.4 760,472.7 760.5,471.7 761,473.9 761.5,474.4 762,474.6 762.5,474.3 763,474.6 763.5,474.2 764,473.3 764.5,472.4 765,470.7 765.5,471.8 766,474.8 766.5,473 767,473.2 767.5,475.5 768,473.8 768.5,470.5 769,469.4 769.5,470.5 770,472.5 770.5,474.1 771,473.7 771.5,473 772,473.3 772.5,471.7 773,472.6 773.5,475.1 774,476.1 774.5,472.9 775,471.6 775.5,472.7 776,473.2 776.5,473.5 777,473.6 777.5,474.6 778,474.7 778.5,472.7 779,470.7 779.5,471 780,471.6 780.5,471.8 781,473 781.5,472.7 782,472 782.5,471.8 783,472 783.5,470.3 784,469.4 784.5,469.9 785,469.8 785.5,469.6 786,468.8 786.5,470.6 787,471.5 787.5,473.1 788,473.9 788.5,472.9 789,471.1 789.5,472.2 790,472.4 790.5,471.4 791,472 791.5,470.8 792,470.2 792.5,471.7 793,472.3 793.5,474.2 794,472.9 794.5,471.8 795,472.3 795.5,472.4 796,471.9 796.5,471 797,471.6 797.5,473.2 798,472.3 798.5,473.1 799,471.9 799.5,472.4 800,472.6 800.5,473.3 801,472.3 801.5,471.5 802,471.1 802.5,471.8 803,472.5 803.5,472.5 804,471.5 804.5,471.2 805,470.4 805.5,469.1 806,470.2 806.5,469.8 807,470.3 807.5,469.9 808,469.8 808.5,469.8 809,469.1 809.5,470.5 810,472.5 810.5,473 811,472.9 811.5,471.9 812,471.3 812.5,471.8 813,470.5 813.5,470.6 814,470.4 814.5,469.5 815,468.7 815.5,470.2 816,471.7 816.5,470.4 817,469.3 817.5,469.3 818,468.8 818.5,468.5 819,468.3 819.5,469.2 820,468.6 820.5,468.4 821,468 821.5,467.6 822,470.4 822.5,471 823,469.7 823.5,471.5 824,469.8 824.5,468.5 825,469.1 825.5,469 826,468.1 826.5,468 827,467.1 827.5,468 828,466.9 828.5,466 829,466.9 829.5,467 830,469.3 830.5,469.9 831,467.6 831.5,467.1 832,466.5 832.5,466.2 833,466.6 833.5,466.9 834,466.4 834.5,468.8 835,470 835.5,467.5 836,467.4 836.5,466.6 837,464.7 837.5,466.2 838,469.9 838.5,470.1 839,470.8 839.5,470.1 840,470.5 840.5,470.5 841,469.4 841.5,470.7 842,470.6 842.5,468.9 843,468.1 843.5,467.7 844,469.2 844.5,467.7 845,467.5 845.5,467.2 846,467.5 846.5,468.8 847,468.9 847.5,469.3 848,468.9 848.5,468.9 849,467.1 849.5,465.7 850,464.6 850.5,468.5 851,469.1 851.5,466.7 852,466.6 852.5,467.3 853,467.5 853.5,469.8 854,470.6 854.5,469.1 855,468.4 855.5,467.3 856,465.8 856.5,465.4 857,466.3 857.5,467.6 858,468.4 858.5,467.2 859,468.1 859.5,469.9 860,469.9 860.5,468.7 861,466.9 861.5,463.8 862,464.7 862.5,466 863,466.2 863.5,467 864,467.4 864.5,466.5 865,465.1 865.5,465.1 866,465.8 866.5,467.7 867,468.2 867.5,468.6 868,467.4 868.5,466.1 869,466.3 869.5,465.5 870,464.6 870.5,465.1 871,467.4 871.5,466.7 872,465.7 872.5,466.3 873,467.2 873.5,467.4 874,467.3 874.5,467.7 875,468.8 875.5,468.9 876,470 876.5,467.3 877,465 877.5,466.9 878,469.1 878.5,469.4 879,469.7 879.5,470.2 880,470.4 880.5,468.7 881,469.2 881.5,468.5 882,468.2 882.5,469.8 883,469.2 883.5,466.7 884,468.3 884.5,468.3 885,466.2 885.5,466.1 886,466.7 886.5,467.3 887,468.5 887.5,468.1 888,464.9 888.5,463.1 889,464.9 889.5,466.8 890,467.5 890.5,468.6 891,468.9 891.5,467.9 892,466.4 892.5,467.4 893,466.9 893.5,468.6 894,468.7 894.5,468.1 895,468.2 895.5,467.8 896,466.6 896.5,465.8 897,467.7 897.5,468.3 898,468 898.5,467.7 899,468.3 899.5,467 900,466.7 900.5,468.7 901,468.2 901.5,467.4 902,468.2 902.5,469.9 903,468.9 903.5,467.3 904,466.2 904.5,466.2 905,466.2 905.5,465.1 906,465.6 906.5,465.4 907,464.6 907.5,464.8 908,464.8 908.5,466.1 909,468.1 909.5,467.9 910,465.4 910.5,465.6 911,466.4 911.5,465.3 912,464 912.5,464.4 913,464.3 913.5,464.5 914,465.8 914.5,465.7 915,465.7 915.5,467.5 916,467.2 916.5,468 917,466.8 917.5,466.6 918,466.3 918.5,465.9 919,465.1 919.5,464.6 920,465.4 920.5,467.4 921,468.1 921.5,467.3 922,466 922.5,467.8 923,467.2 923.5,465.6 924,465.8 924.5,466.2 925,465.7 925.5,463.3 926,463.5 926.5,465.6 927,465.3 927.5,463.6 928,464 928.5,464.7 929,463.9 929.5,462.6 930,461.3 930.5,462.1 931,464.1 931.5,464.5 932,464.4 932.5,462.6 933,461.3 933.5,462.7 934,463.6 934.5,464.4 935,466.2 935.5,466.5 936,465.4 936.5,465 937,465.1 937.5,465.2 938,465.5 938.5,463.9 939,465.4 939.5,465.5 940,464.1 940.5,463.2 941,464.3 941.5,463.4 942,463.3 942.5,464.4 943,464.8 943.5,464.7 944,464.2 944.5,465.2 945,466.6 945.5,465 946,463.2 946.5,462.9 947,463.6 947.5,465.4 948,465.2 948.5,465.4 949,465.1 949.5,464.8 950,461.7 950.5,461.5 951,463.7 951.5,464.2 952,462.9 952.5,463.1 953,463.7 953.5,464.3 954,462.9 954.5,462.3 955,462.7 955.5,463 956,464 956.5,464.7 957,465.3 957.5,464.5 958,464.3 958.5,465.1 959,467.4 959.5,466.1 960,466.7 960.5,466.7 961,465.8 961.5,467.1 962,466.9 962.5,465.2 963,464.3 963.5,465 964,464.9 964.5,464.1 965,464.3 965.5,465.1 966,463.9 966.5,463.3 967,464.6 967.5,465.2 968,462.9 968.5,462.6 969,463.9 969.5,461.7 970,462.8 970.5,464.6 971,463.4 971.5,462.6 972,463.3 972.5,463.8 973,462.8 973.5,463 974,463.2 974.5,464.1 975,464 975.5,463.2 976,463.6 976.5,464.4 977,465.1 977.5,463.7 978,462.6 978.5,463.8 979,465.8 979.5,465.7 980,464.6 980.5,463 981,465.2 981.5,464.8 982,464.1 982.5,464 983,463.5 983.5,462 984,463.3 984.5,462.7 985,464.5 985.5,463.6 986,461.8 986.5,461.3 987,462.5 987.5,464.1 988,463.1 988.5,462.4 989,462.4 989.5,464 990,462.9 990.5,462.3 991,463 991.5,462.5 992,462.1 992.5,460.7 993,461 993.5,462.7 994,462.4 994.5,463.2 995,463.5 995.5,463.6 996,463.6 996.5,463.5 997,462.2 997.5,462 998,462.6 998.5,461 999,460.4 999.5,460.5 1000,461.8 1000.5,464.4 1001,464.8 1001.5,462.8 1002,461.5 1002.5,462.4"/>
<path stroke="#BFBFBF" d="M167,508.8 167.5,509.4 168,509.6 168.5,508.9 169,506.7 169.5,505.8 170,508.9 170.5,509.4 171,508.6 171.5,506.2 172,507 172.5,507.5 173,508.8 173.5,509.4 174,508.1 174.5,509.2 175,508.9 175.5,507 176,508.3 176.5,509.1 177,509.1 177.5,510.2 178,511.1 178.5,511 179,511.2 179.5,510.7 180,509.4 180.5,508.2 181,507.1 181.5,506.5 182,507.8 182.5,508.9 183,508.7 183.5,508.8 184,509.7 184.5,509.7 185,508.5 185.5,507.9 186,507.5 186.5,509.6 187,508.5 187.5,506.7 188,508.9 188.5,510.2 189,511.1 189.5,511 190,511 190.5,510.5 191,510.9 191.5,509.4 192,509.7 192.5,510 193,509.8 193.5,510.5 194,510.1 194.5,509.6 195,509.5 195.5,509.8 196,509.4 196.5,508.2 197,508.5 197.5,508.6 198,508.6 198.5,509 199,508.6 199.5,507.6 200,508.8 200.5,510.5 201,509.9 201.5,507.7 202,508.8 202.5,509.9 203,509.1 203.5,510.7 204,512 204.5,511.1 205,509.6 205.5,509.6 206,508.3 206.5,508.6 207,507.7 207.5,508 208,507.6 208.5,508.5 209,509.8 209.5,511.2 210,511.5 210.5,512 211,511.9 211.5,510.5 212,509.9 212.5,508.5 213,508.6 213.5,508.1 214,508 214.5,509.3 215,508.7 215.5,509.1 216,509.3 216.5,510.3 217,509.6 217.5,508 218,510.1 218.5,512 219,511.4 219.5,510.8 220,510.7 220.5,510.7 221,508.6 221.5,507.8 222,507.6 222.5,506.7 223,507.5 223.5,509.2 224,508.1 224.5,508.1 225,510.1 225.5,509.8 226,508.5 226.5,508.2 227,508.9 227.5,509.8 228,510.8 228.5,510.1 229,508.8 229.5,508.8 230,508.2 230.5,509.6 231,511.3 231.5,509.2 232,509.6 232.5,511.1 233,510.7 233.5,509.7 234,508.9 234.5,509.1 235,510.2 235.5,509.9 236,510.1 236.5,509.7 237,507.4 237.5,507.1 238,509.4 238.5,510.4 239,509.8 239.5,509.5 240,507.7 240.5,508.2 241,508.4 241.5,508.8 242,508.8 242.5,506.7 243,508.5 243.5,510.4 244,509.2 244.5,508.4 245,509 245.5,508.4 246,509.5 246.5,509.2 247,510.5 247.5,509.6 248,508 248.5,508.6 249,509.2 249.5,509.1 250,507.9 250.5,508.7 251,507 251.5,505.7 252,506.7 252.5,506.9 253,508 253.5,509.3 254,508.8 254.5,510.5 255,511.7 255.5,511.4 256,510.2 256.5,511 257,511.5 257.5,511.1 258,510.3 258.5,511.1 259,510.9 259.5,509.4 260,508.2 260.5,509 261,508.5 261.5,506.3 262,506.5 262.5,508.5 263,508.1 263.5,508.2 264,507.1 264.5,506 265,505.8 265.5,505.5 266,507.4 266.5,507.7 267,509.9 267.5,508.4 268,508.1 268.5,507 269,506.6 269.5,507.7 270,508.6 270.5,510.8 271,508.3 271.5,505.9 272,507.4 272.5,507.5 273,507.4 273.5,507.2 274,506.6 274.5,506.5 275,508.1 275.5,508.4 276,508.1 276.5,508.3 277,509.2 277.5,507.3 278,507.3 278.5,509.1 279,508.1 279.5,506.6 280,506.2 280.5,506.7 281,507.2 281.5,508.3 282,509.3 282.5,507.5 283,508.4 283.5,509.7 284,509.7 284.5,508.5 285,508 285.5,509 286,509.3 286.5,508.3 287,508.1 287.5,509.1 288,507.9 288.5,507.8 289,508.8 289.5,507.7 290,507 290.5,507.3 291,508.4 291.5,507.8 292,508.4 292.5,507.9 293,507.1 293.5,507.2 294,506.7 294.5,507.9 295,506.3 295.5,506.7 296,507.6 296.5,507.5 297,508.4 297.5,508 298,505.6 298.5,505.9 299,507 299.5,506.8 300,506.5 300.5,506.7 301,505.9 301.5,506.5 302,508.5 302.5,508.8 303,508.7 303.5,505.9 304,505.8 304.5,506.8 305,508.9 305.5,509.8 306,507.4 306.5,508.2 307,509.2 307.5,508.1 308,509.4 308.5,506.9 309,505.5 309.5,505.3 310,506.4 310.5,505.3 311,506.2 311.5,506.4 312,505.6 312.5,505.4 313,505.6 313.5,506 314,504.9 314.5,504.3 315,504.6 315.5,507 316,507.9 316.5,506.4 317,504.4 317.5,505.7 318,507 318.5,507.5 319,506.4 319.5,506.3 320,508.6 320.5,507.3 321,506.2 321.5,507.6 322,508.5 322.5,507.6 323,508 323.5,508 324,507.6 324.5,507.6 325,507.2 325.5,505 326,506.5 326.5,506.3 327,506.5 327.5,507.7 328,507.2 328.5,506.9 329,506.2 329.5,504.1 330,504.6 330.5,506.9 331,505.4 331.5,505.3 332,506.2 332.5,505.7 333,505 333.5,503.4 334,504.2 334.5,506 335,506.9 335.5,507.7 336,507.3 336.5,506 337,505.9 337.5,505.6 338,506.1 338.5,505.4 339,506.1 339.5,506.7 340,506.8 340.5,505 341,504.7 341.5,504.4 342,506.1 342.5,505.7 343,504.8 343.5,504.5 344,505.1 344.5,505.8 345,506.7 345.5,508 346,506.8 346.5,505.7 347,503.9 347.5,505.5 348,508.7 348.5,508.1 349,505.4 349.5,507.8 350,507.3 350.5,506.6 351,508.7 351.5,509.9 352,510 352.5,510.1 353,510.5 353.5,509.2 354,509.8 354.5,511.1 355,508.4 355.5,506.7 356,508.7 356.5,507.8 357,506.8 357.5,509.1 358,508.9 358.5,507.4 359,506.5 359.5,505 360,505.3 360.5,503.7 361,504.8 361.5,507.6 362,506.4 362.5,504.1 363,505.2 363.5,506.9 364,506.4 364.5,506.2 365,505.6 365.5,505.2 366,506.4 366.5,504.4 367,504.5 367.5,504.2 368,505.3 368.5,506 369,506.2 369.5,506.9 370,506.9 370.5,505 371,506.8 371.5,509 372,509.5 372.5,508 373,505.4 373.5,505.8 374,507.8 374.5,508 375,506.4 375.5,506.4 376,507.6 376.5,507.8 377,506 377.5,504.6 378,503.9 378.5,504.3 379,503.9 379.5,504.9 380,506.8 380.5,506.2 381,505.2 381.5,505.5 382,503.9 382.5,504.6 383,504.5 383.5,505.4 384,505.6 384.5,503.9 385,504.7 385.5,504.3 386,503.3 386.5,502.3 387,503.3 387.5,503.8 388,503.8 388.5,503.1 389,502.8 389.5,504.4 390,503.8 390.5,504 391,502.5 391.5,502 392,504 392.5,504.1 393,502.8 393.5,503.1 394,503.2 394.5,501.9 395,501.9 395.5,501.8 396,503.6 396.5,502.4 397,502.9 397.5,502.8 398,503.7 398.5,504 399,504.1 399.5,504.9 400,505 400.5,506 401,505.5 401.5,504.2 402,504.8 402.5,505.8 403,507 403.5,507.1 404,505.9 404.5,505.7 405,505.6 405.5,505.3 406,504 406.5,504.3 407,506.1 407.5,506.6 408,505.4 408.5,504.6 409,504.7 409.5,504.4 410,505.3 410.5,503.3 411,504 411.5,504.9 412,503.2 412.5,502.1 413,502.5 413.5,503.7 414,504.5 414.5,503.7 415,504 415.5,504.3 416,504 416.5,504.1 417,504.2 417.5,503.8 418,502.4 418.5,502.1 419,503 419.5,505.1 420,503.9 420.5,503.5 421,505 421.5,504.7 422,504.1 422.5,504.7 423,503.1 423.5,502.3 424,503.3 424.5,505.3 425,505 425.5,505 426,502.7 426.5,501.9 427,503.5 427.5,502.9 428,501.6 428.5,503.7 429,505.7 429.5,503.7 430,501.6 430.5,501.8 431,501.7 431.5,501 432,501.7 432.5,502.3 433,503 433.5,503.5 434,504.2 434.5,504.8 435,504.7 435.5,503.9 436,503.1 436.5,503.9 437,505.5 437.5,507.7 438,505.2 438.5,504.8 439,505.6 439.5,504.9 440,502.6 440.5,503.2 441,503.3 441.5,504.5 442,502.5 442.5,501.4 443,503.2 443.5,505.9 444,505.6 444.5,504.5 445,502.7 445.5,502.4 446,501.4 446.5,502 447,503.6 447.5,503.6 448,502 448.5,500.8 449,500.5 449.5,499.4 450,499.3 450.5,500.8 451,502.4 451.5,503.6 452,503.8 452.5,502.4 453,501.8 453.5,500.2 454,502.7 454.5,505 455,504.2 455.5,504.4 456,504.1 456.5,504.1 457,503.8 457.5,501.9 458,502.7 458.5,504.4 459,503.7 459.5,504.4 460,503.2 460.5,502.8 461,503.1 461.5,504.5 462,503.5 462.5,500.9 463,501 463.5,501.9 464,503.5 464.5,503.1 465,501.4 465.5,503.4 466,504.5 466.5,503.8 467,505.1 467.5,507.3 468,504.3 468.5,502.9 469,503.5 469.5,502.8 470,501.6 470.5,501.6 471,501.8 471.5,503.3 472,502.1 472.5,503.1 473,501.1 473.5,499.7 474,501.4 474.5,503.5 475,503.3 475.5,504.3 476,504.1 476.5,503.1 477,502.5 477.5,503.6 478,503 478.5,502.1 479,502.4 479.5,503.1 480,503.1 480.5,504.2 481,504.9 481.5,503.5 482,503 482.5,502.9 483,502.5 483.5,501.6 484,501 484.5,500.9 485,501.2 485.5,502.2 486,501.1 486.5,501.4 487,501.2 487.5,501.6 488,503.2 488.5,503.6 489,503.8 489.5,502.4 490,502.5 490.5,503.7 491,504.6 491.5,504.9 492,504.7 492.5,502.5 493,502.4 493.5,502.9 494,503.9 494.5,501.2 495,501.2 495.5,502.6 496,500.7 496.5,500 497,502.7 497.5,502.4 498,500.4 498.5,499.7 499,500.1 499.5,499.8 500,500.3 500.5,501.4 501,500.5 501.5,500.5 502,500.8 502.5,501.9 503,501.9 503.5,502.1 504,500.1 504.5,499.9 505,500.6 505.5,500.7 506,501 506.5,502.3 507,500.2 507.5,499 508,498.2 508.5,499.6 509,502 509.5,500.5 510,499.2 510.5,500.4 511,500.1 511.5,500 512,498.8 512.5,499.6 513,501.7 513.5,501.1 514,501.1 514.5,501.8 515,502.1 515.5,500.7 516,500.2 516.5,501.6 517,502.8 517.5,502.3 518,502.5 518.5,500.4 519,500.3 519.5,499.8 520,500.1 520.5,503.4 521,503.2 521.5,504.3 522,502.9 522.5,501.5 523,503.4 523.5,504 524,504.8 524.5,503.6 525,502.2 525.5,502.1 526,501.1 526.5,499.9 527,500.6 527.5,501.4 528,500.1 528.5,501.4 529,501.8 529.5,500.3 530,499.6 530.5,500.2 531,499.7 531.5,500.6 532,500.7 532.5,499.9 533,499.1 533.5,498.9 534,499.4 534.5,499.1 535,500 535.5,500.5 536,500.3 536.5,501.1 537,501 537.5,499 538,499.1 538.5,498.6 539,498.6 539.5,499.6 540,501.2 540.5,501.3 541,499.8 541.5,499.9 542,500.1 542.5,500.8 543,502.6 543.5,501.5 544,499 544.5,500.4 545,500.7 545.5,499.5 546,501.2 546.5,501.5 547,500.8 547.5,498 548,497.6 548.5,497.3 549,497 549.5,496.8 550,496.6 550.5,497.4 551,497.3 551.5,499.5 552,499.2 552.5,496.4 553,497.4 553.5,500 554,501.8 554.5,500 555,501.1 555.5,501.8 556,499.4 556.5,497.4 557,496.8 557.5,497.2 558,499.4 558.5,500 559,500 559.5,501.5 560,500.4 560.5,500.8 561,501.9 561.5,501.9 562,501.4 562.5,501.1 563,501.1 563.5,501.8 564,501.1 564.5,499.4 565,500 565.5,499.9 566,500 566.5,501.4 567,500.7 567.5,500.8 568,501.1 568.5,499.4 569,499.3 569.5,499.5 570,499.3 570.5,500 571,499.7 571.5,500.5 572,500.8 572.5,500.9 573,501.2 573.5,500.9 574,501.4 574.5,500.8 575,500.8 575.5,501.1 576,501.7 576.5,500.8 577,500.2 577.5,502.4 578,502 578.5,500.5 579,499.9 579.5,498.7 580,499.2 580.5,498.6 581,499.1 581.5,498.5 582,497.7 582.5,498.9 583,499 583.5,498.8 584,499.7 584.5,500.8 585,500.3 585.5,499.4 586,499.2 586.5,498.9 587,497.7 587.5,497.9 588,497.9 588.5,497.6 589,500.3 589.5,500 590,500.2 590.5,499 591,498.6 591.5,498 592,496.4 592.5,497 593,498.6 593.5,498.5 594,498.9 594.5,498.5 595,496.9 595.5,496.6 596,496.7 596.5,496.2 597,497.1 597.5,499.1 598,501 598.5,501.6 599,500.6 599.5,499 600,499.1 600.5,501.2 601,500.1 601.5,498.1 602,498.3 602.5,500.8 603,499.8 603.5,498.5 604,497.9 604.5,497.7 605,498.7 605.5,499.1 606,498.7 606.5,496.4 607,497.8 607.5,498.5 608,499 608.5,498.2 609,496.2 609.5,498.1 610,500.3 610.5,499.5 611,497.2 611.5,496.8 612,499.3 612.5,499.3 613,498.8 613.5,498.2 614,499.3 614.5,498.7 615,498 615.5,497.5 616,498.8 616.5,499.1 617,498 617.5,498.4 618,499 618.5,498.1 619,499.4 619.5,500.2 620,498.9 620.5,497.6 621,498.9 621.5,500.3 622,499 622.5,497.8 623,499.3 623.5,499.8 624,500.5 624.5,500.5 625,499.1 625.5,496.9 626,494.4 626.5,494.3 627,496 627.5,496.3 628,496.4 628.5,495.5 629,495.9 629.5,497.9 630,497.8 630.5,498 631,498.8 631.5,497.3 632,497.3 632.5,496.4 633,496.7 633.5,497.4 634,497.1 634.5,496.7 635,497.5 635.5,498.4 636,496.9 636.5,496.8 637,498.7 637.5,497 638,496.7 638.5,496.2 639,496.9 639.5,499 640,499 640.5,498.4 641,499.2 641.5,498.2 642,498.9 642.5,498.9 643,498.9 643.5,498 644,497.8 644.5,496.4 645,495.3 645.5,498.9 646,498.7 646.5,497.6 647,497.1 647.5,496.6 648,496.8 648.5,497.9 649,499 649.5,498.6 650,498.6 650.5,498.6 651,497.7 651.5,498.3 652,497.6 652.5,497.6 653,497 653.5,497.3 654,496.6 654.5,498.1 655,496.7 655.5,495.8 656,495.4 656.5,495.3 657,495.7 657.5,495.7 658,497.7 658.5,496.8 659,495.2 659.5,497.1 660,498.4 660.5,498 661,497.2 661.5,496.5 662,494.4 662.5,494.4 663,494.1 663.5,495.2 664,497.7 664.5,498.9 665,498.4 665.5,496.4 666,496.3 666.5,496 667,496.4 667.5,496 668,495.5 668.5,496.7 669,495.6 669.5,495.1 670,495.2 670.5,494.6 671,493.9 671.5,495.5 672,496.8 672.5,497.1 673,497 673.5,498.1 674,496.6 674.5,495.4 675,495.1 675.5,498.7 676,499.8 676.5,498.8 677,496.6 677.5,497.1 678,496.3 678.5,497.9 679,497.3 679.5,496.6 680,496.8 680.5,497.3 681,499 681.5,498.2 682,496.1 682.5,496.5 683,495.2 683.5,497.7 684,496.7 684.5,496.1 685,497.1 685.5,499 686,497.6 686.5,496.3 687,496.1 687.5,495.6 688,496 688.5,494.8 689,494.5 689.5,495.2 690,496.6 690.5,496 691,494.9 691.5,494.3 692,496.1 692.5,495.9 693,496 693.5,496.1 694,496.6 694.5,496.3 695,494.4 695.5,494.4 696,495.5 696.5,495.4 697,497.2 697.5,497.6 698,498.3 698.5,498.1 699,497.4 699.5,496.2 700,496.9 700.5,497.9 701,497.9 701.5,496.9 702,495.9 702.5,495.2 703,495.3 703.5,495.8 704,497.5 704.5,497.6 705,496 705.5,495.5 706,496.9 706.5,497.6 707,496.2 707.5,493.7 708,493.6 708.5,496.5 709,496.3 709.5,494.7 710,494.7 710.5,494.9 711,494.8 711.5,494.6 712,495.8 712.5,494.8 713,494.8 713.5,496.9 714,497.1 714.5,497.6 715,497.3 715.5,497.8 716,498.2 716.5,497.1 717,496.7 717.5,495.4 718,494.8 718.5,492.8 719,494 719.5,493.7 720,493.2 720.5,495.1 721,495.2 721.5,494.5 722,493 722.5,494.6 723,496.5 723.5,494.7 724,492.7 724.5,494 725,493.9 725.5,492.9 726,492.9 726.5,493.4 727,492.6 727.5,495.4 728,496.3 728.5,496.3 729,496.8 729.5,496.6 730,494.5 730.5,495.4 731,496.3 731.5,496.1 732,494.9 732.5,495 733,495.9 733.5,496.4 734,496.3 734.5,493.5 735,493.9 735.5,494.3 736,494.5 736.5,494 737,493.3 737.5,493.3 738,491.9 738.5,491.5 739,492.1 739.5,493.6 740,494.8 740.5,494.7 741,492.6 741.5,493.4 742,495 742.5,495 743,496.3 743.5,496.4 744,494.6 744.5,494.3 745,494.7 745.5,494.3 746,494.6 746.5,495.3 747,496.7 747.5,495.2 748,494.1 748.5,494.5 749,494.2 749.5,492.1 750,492.3 750.5,492.9 751,494.4 751.5,495.2 752,493.7 752.5,493.3 753,495.1 753.5,494.7 754,494.9 754.5,495.7 755,495.8 755.5,494.3 756,493.2 756.5,493.1 757,493.8 757.5,496.2 758,498.7 758.5,496.9 759,495.2 759.5,495.3 760,494.8 760.5,494.1 761,495.3 761.5,496.1 762,495.6 762.5,494.6 763,494.7 763.5,494.1 764,493.5 764.5,492.6 765,494.2 765.5,493 766,490.8 766.5,492.9 767,495.5 767.5,497 768,494.6 768.5,495 769,493.8 769.5,494.8 770,494.7 770.5,493.1 771,491.6 771.5,491.9 772,494.2 772.5,494.6 773,492.8 773.5,492 774,491.8 774.5,492.3 775,492.7 775.5,494.2 776,494.7 776.5,493.9 777,492.3 777.5,491.8 778,493.4 778.5,495.6 779,495.4 779.5,494.6 780,495.2 780.5,494.7 781,493.8 781.5,495.7 782,495.3 782.5,493 783,493.6 783.5,495.6 784,496.9 784.5,496.1 785,493.8 785.5,494.2 786,495.6 786.5,494.6 787,494.7 787.5,494.8 788,494.9 788.5,493.2 789,492.8 789.5,494.2 790,497.5 790.5,498.4 791,497.2 791.5,494.3 792,493.3 792.5,494.2 793,493.4 793.5,492.7 794,493.5 794.5,493.1 795,494.6 795.5,494.3 796,493 796.5,492.3 797,493.5 797.5,494.3 798,494.8 798.5,494.4 799,493.5 799.5,492.1 800,492.4 800.5,493.2 801,493.3 801.5,491.9 802,490.2 802.5,490.2 803,491.2 803.5,492.1 804,491.2 804.5,490.3 805,491 805.5,491.8 806,493 806.5,491.9 807,491.1 807.5,491.9 808,492 808.5,490.5 809,491.4 809.5,491.8 810,492.4 810.5,493.7 811,495.7 811.5,495.5 812,494.4 812.5,493.1 813,494 813.5,493.8 814,491.4 814.5,491.3 815,494.1 815.5,494.3 816,493.3 816.5,493.7 817,494.3 817.5,493.9 818,490 818.5,491.8 819,493.5 819.5,492.6 820,491 820.5,491 821,494 821.5,494.5 822,490.9 822.5,491.1 823,493.5 823.5,494 824,492.2 824.5,491.7 825,494.2 825.5,494.1 826,491.3 826.5,492.3 827,493.1 827.5,493.1 828,494 828.5,493.5 829,493.2 829.5,492.4 830,491.8 830.5,494.1 831,492.5 831.5,492.5 832,493.8 832.5,493.2 833,491.2 833.5,489.4 834,491.3 834.5,492.8 835,491.3 835.5,490.3 836,493.1 836.5,494.7 837,493.8 837.5,492.5 838,489.9 838.5,489.5 839,489.2 839.5,492 840,491.6 840.5,489.2 841,491.7 841.5,492.7 842,491 842.5,491.7 843,492.8 843.5,490.9 844,492 844.5,493 845,492 845.5,491.2 846,491.6 846.5,492.1 847,492.8 847.5,492.6 848,490 848.5,490.4 849,491.5 849.5,492.4 850,491.2 850.5,492.6 851,491.2 851.5,490.3 852,490.5 852.5,491.7 853,492.3 853.5,492.8 854,493.1 854.5,493.8 855,492.7 855.5,490.7 856,492.9 856.5,492.8 857,491.9 857.5,491.7 858,492.4 858.5,491.9 859,492.1 859.5,491.1 860,493 860.5,492.7 861,490.5 861.5,491.2 862,490.2 862.5,489.1 863,489.7 863.5,490.2 864,490 864.5,491.2 865,491.6 865.5,489 866,488.4 866.5,490.7 867,491.9 867.5,492.4 868,493.2 868.5,492.3 869,490.1 869.5,490.8 870,490.6 870.5,490.4 871,489.8 871.5,491.1 872,490.8 872.5,489.8 873,489.9 873.5,492.7 874,492.9 874.5,491.9 875,490.3 875.5,490.5 876,492.4 876.5,491.6 877,492.7 877.5,493.2 878,489.8 878.5,489.5 879,490.9 879.5,489.8 880,490.5 880.5,491.3 881,492.1 881.5,490.8 882,491.8 882.5,492.1 883,490.4 883.5,490.4 884,492.4 884.5,491.9 885,489 885.5,489.2 886,491.9 886.5,491 887,489.7 887.5,490 888,490.1 888.5,491 889,492.3 889.5,491.8 890,489.6 890.5,489.2 891,490.3 891.5,492.6 892,492 892.5,489.4 893,490.3 893.5,491.7 894,493.7 894.5,493.9 895,492 895.5,491.3 896,492.4 896.5,493 897,492.2 897.5,490.8 898,491.5 898.5,492.6 899,492.8 899.5,492.5 900,491.2 900.5,491.3 901,491 901.5,488.7 902,490.8 902.5,492.4 903,492.2 903.5,491.2 904,491.4 904.5,492.1 905,490.9 905.5,489.7 906,490.4 906.5,489 907,490.1 907.5,492.9 908,492.2 908.5,492 909,492 909.5,492 910,491.6 910.5,491.9 911,491.1 911.5,490.3 912,491.2 912.5,491.7 913,492.6 913.5,493.4 914,493 914.5,491 915,492.1 915.5,493.2 916,491.2 916.5,490.3 917,490.3 917.5,490.1 918,490.6 918.5,492.4 919,491.1 919.5,490.6 920,490.8 920.5,492.7 921,490.4 921.5,489.9 922,491.7 922.5,491.2 923,492.1 923.5,493.1 924,491.7 924.5,493.2 925,491.1 925.5,489 926,491.1 926.5,491.2 927,491.5 927.5,494.4 928,492.2 928.5,490.3 929,492.1 929.5,493.8 930,493.5 930.5,491.9 931,491.1 931.5,490.6 932,489.9 932.5,491 933,491.6 933.5,491.5 934,490.1 934.5,491.7 935,491.9 935.5,490.9 936,489.8 936.5,490 937,489.8 937.5,490.5 938,489.7 938.5,488.9 939,489 939.5,489.1 940,490.2 940.5,489.5 941,489.6 941.5,492 942,490.9 942.5,490.7 943,489.5 943.5,489.8 944,489.7 944.5,490.8 945,491.9 945.5,492.6 946,489.4 946.5,491.1 947,492.5 947.5,490.4 948,491.8 948.5,492 949,491.6 949.5,490.5 950,489.7 950.5,488.7 951,489.7 951.5,490.3 952,490.7 952.5,492.7 953,492.5 953.5,493 954,492 954.5,490.5 955,490.9 955.5,490.9 956,491 956.5,492.1 957,491.8 957.5,490.8 958,490.7 958.5,489.7 959,490.3 959.5,492.5 960,493 960.5,493.1 961,493.3 961.5,491.9 962,491.2 962.5,492 963,493 963.5,493 964,491.4 964.5,491 965,491.9 965.5,491.3 966,490.3 966.5,489.3 967,489.6 967.5,490.2 968,490.4 968.5,490.6 969,491.4 969.5,490.8 970,490.1 970.5,490.2 971,491.1 971.5,491.7 972,491.9 972.5,491.6 973,491.2 973.5,491.9 974,489.7 974.5,488.9 975,491.5 975.5,492 976,490.5 976.5,490.7 977,492.3 977.5,492.2 978,490.5 978.5,490.2 979,491.6 979.5,493.1 980,493.5 980.5,491.7 981,490.8 981.5,489.7 982,489.1 982.5,487 983,487.8 983.5,490.9 984,490.6 984.5,489.8 985,490.8 985.5,489.9 986,489 986.5,488.7 987,489.9 987.5,491.2 988,490.4 988.5,491.7 989,491.2 989.5,490.8 990,489.2 990.5,488.1 991,489.3 991.5,488.7 992,490.4 992.5,490.7 993,489.4 993.5,488.4 994,488.8 994.5,489.8 995,488 995.5,485.8 996,487.5 996.5,490.4 997,490.2 997.5,488.9 998,489.1 998.5,490.6 999,492.5 999.5,489.8 1000,489.3 1000.5,490.5 1001,490.9 1001.5,490.4 1002,491 1002.5,490.0"/>
<path stroke="#A6A6A6" d="M167,508.2 167.5,509.2 168,510.1 168.5,510.1 169,509.8 169.5,510 170,510.2 170.5,509.2 171,511.3 171.5,511.8 172,510.2 172.5,509.7 173,511.2 173.5,510.6 174,510.6 174.5,510.9 175,511 175.5,510.7 176,511.3 176.5,511 177,510.6 177.5,511.1 178,510.6 178.5,509.3 179,509.2 179.5,509.3 180,507.8 180.5,508.7 181,508.7 181.5,507.4 182,508.5 182.5,510.6 183,510.1 183.5,508.5 184,508.7 184.5,508.9 185,508.6 185.5,508.8 186,509.5 186.5,510.2 187,512 187.5,512 188,510.9 188.5,509.5 189,508.4 189.5,508.7 190,509.3 190.5,510.8 191,512 191.5,510.9 192,511.7 192.5,511.1 193,510.6 193.5,509.4 194,507.2 194.5,508.2 195,509.6 195.5,510 196,508.9 196.5,508.6 197,508.3 197.5,508.7 198,509 198.5,509.8 199,508.5 199.5,508 200,509.1 200.5,510.2 201,509.2 201.5,508.9 202,509.4 202.5,509.3 203,510.1 203.5,510.3 204,509.2 204.5,508.2 205,510 205.5,511.4 206,511.5 206.5,509.7 207,509.2 207.5,510.1 208,510 208.5,509.6 209,508.8 209.5,508.8 210,507.8 210.5,506.4 211,508.5 211.5,507.5 212,505.7 212.5,506.1 213,507.4 213.5,506.9 214,507.6 214.5,507.7 215,508.2 215.5,509.3 216,511.3 216.5,511 217,510.7 217.5,508.8 218,508.8 218.5,509 219,510.9 219.5,512 220,510.3 220.5,508.5 221,509.9 221.5,511.8 222,512 222.5,510.1 223,509.3 223.5,508 224,507.3 224.5,508.9 225,510.3 225.5,509.1 226,509.5 226.5,509.4 227,508.5 227.5,507.7 228,507.2 228.5,508.7 229,510.2 229.5,510.7 230,510.3 230.5,509.6 231,508 231.5,508 232,508.8 232.5,509 233,508.3 233.5,508.9 234,509.7 234.5,510.3 235,509.8 235.5,508.4 236,508.9 236.5,510.2 237,509.2 237.5,510.1 238,511.6 238.5,510.9 239,508.2 239.5,508.3 240,508.1 240.5,508.1 241,509.3 241.5,509.5 242,509.5 242.5,506.8 243,505.5 243.5,507.6 244,509.1 244.5,510.1 245,509.3 245.5,510 246,509.9 246.5,507 247,508.1 247.5,508.2 248,507.6 248.5,508.1 249,509.4 249.5,511 250,508.9 250.5,509 251,511.5 251.5,512 252,509.8 252.5,510.3 253,510.7 253.5,512 254,512 254.5,512 255,512 255.5,511.3 256,510.7 256.5,510.2 257,508.6 257.5,509.7 258,509.9 258.5,506.5 259,506.9 259.5,509.7 260,510.3 260.5,509.8 261,509.9 261.5,509.8 262,510.3 262.5,509.3 263,510.7 263.5,509.6 264,508.9 264.5,509.8 265,509.9 265.5,511 266,509.1 266.5,507.2 267,506.8 267.5,509.6 268,512 268.5,511 269,508.9 269.5,506.5 270,507.6 270.5,509.6 271,509.6 271.5,509.9 272,510.4 272.5,510.6 273,509.9 273.5,510.9 274,511.3 274.5,510.2 275,510.1 275.5,509.4 276,508.9 276.5,509.4 277,509 277.5,508.6 278,509.1 278.5,509.7 279,511.1 279.5,510.8 280,507.9 280.5,507.1 281,509.1 281.5,510.9 282,509.4 282.5,508.5 283,508.3 283.5,509.6 284,511.1 284.5,512 285,512 285.5,512 286,511.8 286.5,511.8 287,511.3 287.5,510.5 288,509 288.5,510.5 289,510.6 289.5,508.2 290,508.4 290.5,509.9 291,510.4 291.5,510.9 292,511.6 292.5,511.6 293,512 293.5,509.4 294,507.7 294.5,507.9 295,510.4 295.5,511.1 296,509.4 296.5,509.1 297,509 297.5,511.1 298,510.9 298.5,510.4 299,509 299.5,509.8 300,510.9 300.5,509.6 301,507.7 301.5,508.3 302,509.6 302.5,510.9 303,511.5 303.5,511.9 304,510.7 304.5,509.9 305,511.6 305.5,510.9 306,508.8 306.5,509 307,509.4 307.5,511.7 308,510.1 308.5,509.7 309,510 309.5,508.7 310,509.8 310.5,510 311,509.8 311.5,508.8 312,509.6 312.5,508.7 313,509.7 313.5,510.6 314,510.8 314.5,510 315,508.4 315.5,510.2 316,509.2 316.5,508.8 317,510 317.5,510 318,507.6 318.5,507.5 319,508.3 319.5,509.2 320,509.2 320.5,510.3 321,509 321.5,507.1 322,506.8 322.5,507.4 323,507.6 323.5,507.4 324,508.4 324.5,509.1 325,508.5 325.5,509.4 326,509.4 326.5,509.4 327,510.5 327.5,510 328,507.7 328.5,508.4 329,508.7 329.5,506.9 330,506.3 330.5,507.4 331,507.4 331.5,507.6 332,507.5 332.5,508.7 333,507.4 333.5,506.9 334,508.1 334.5,508.5 335,507.9 335.5,508.5 336,508.4 336.5,510.6 337,510.4 337.5,509.9 338,509.6 338.5,509 339,507.9 339.5,509.4 340,509.8 340.5,508.4 341,508.3 341.5,507.7 342,508.8 342.5,508.8 343,509.6 343.5,508.7 344,507 344.5,507.8 345,509.6 345.5,508.9 346,506.6 346.5,505.6 347,505.9 347.5,506 348,507.6 348.5,510.6 349,509.6 349.5,508.9 350,507.1 350.5,507.9 351,507.8 351.5,505.4 352,505.1 352.5,504.5 353,504.5 353.5,505.8 354,507.8 354.5,508.1 355,506.4 355.5,506.3 356,508.4 356.5,507.6 357,507.6 357.5,509.2 358,507.5 358.5,506.6 359,508.4 359.5,507.5 360,507 360.5,508.9 361,508 361.5,508.1 362,509.8 362.5,509.6 363,507.1 363.5,508.6 364,510 364.5,510 365,508.2 365.5,507.2 366,507.5 366.5,506.9 367,508.6 367.5,507.3 368,506.3 368.5,508.2 369,509.6 369.5,508.8 370,507.7 370.5,509.7 371,509.5 371.5,508.6 372,508.8 372.5,509.8 373,509.4 373.5,508.7 374,508.7 374.5,508.6 375,508.4 375.5,508.2 376,508.8 376.5,509.2 377,506.7 377.5,505.3 378,506.5 378.5,507.8 379,507.5 379.5,507.9 380,508.7 380.5,508.6 381,508.7 381.5,509 382,508.4 382.5,507.2 383,507 383.5,507 384,506.4 384.5,506.6 385,506.5 385.5,506.5 386,505.9 386.5,507.1 387,509.4 387.5,508.2 388,509.4 388.5,510.5 389,510.5 389.5,509.3 390,509.2 390.5,509 391,509.1 391.5,509.5 392,509.6 392.5,508.5 393,507.5 393.5,506.8 394,506.6 394.5,507.6 395,508.1 395.5,507.5 396,508.2 396.5,508.5 397,507.3 397.5,508.3 398,507.6 398.5,506.1 399,506.2 399.5,507.3 400,507.6 400.5,507.3 401,505.9 401.5,508.1 402,508.3 402.5,506.1 403,506.7 403.5,509.4 404,508.9 404.5,507.6 405,507.5 405.5,508.3 406,508.9 406.5,508.4 407,508.6 407.5,507.3 408,506.2 408.5,507.9 409,508.7 409.5,510.1 410,510 410.5,509.4 411,508.2 411.5,508.7 412,507.6 412.5,509.1 413,509.3 413.5,509.8 414,510.4 414.5,509.3 415,506.7 415.5,506.2 416,507.6 416.5,508.1 417,507.7 417.5,506.3 418,506.2 418.5,508 419,509.2 419.5,507.6 420,508.1 420.5,508.4 421,506.7 421.5,504.9 422,506.6 422.5,505.5 423,506.1 423.5,505.5 424,506.4 424.5,507.5 425,505.2 425.5,505.2 426,506.1 426.5,506.4 427,507.2 427.5,507.2 428,507.2 428.5,506.9 429,507.1 429.5,507.7 430,505.7 430.5,505.8 431,506.1 431.5,505.7 432,502.9 432.5,504.3 433,506.3 433.5,506.9 434,507.2 434.5,506.1 435,508.8 435.5,508 436,506.3 436.5,505.4 437,505.1 437.5,505.5 438,505.9 438.5,505.5 439,506.1 439.5,505.9 440,506.1 440.5,505.3 441,505.6 441.5,505.8 442,507.4 442.5,507.1 443,507.8 443.5,509 444,507.7 444.5,506.4 445,506.5 445.5,506.8 446,508.2 446.5,509.8 447,509.5 447.5,507.5 448,507.4 448.5,508.6 449,507.5 449.5,504.6 450,505.2 450.5,506 451,506 451.5,506.6 452,506.5 452.5,505.3 453,506.4 453.5,506.4 454,507.3 454.5,508 455,505.5 455.5,503.8 456,505 456.5,505.9 457,505.6 457.5,505.4 458,505.1 458.5,506.7 459,507.9 459.5,506.8 460,505 460.5,505.5 461,505.7 461.5,504.5 462,504.7 462.5,505 463,507.1 463.5,507 464,505.4 464.5,503.9 465,505.5 465.5,505.5 466,507.4 466.5,508.5 467,508.2 467.5,506.6 468,505.4 468.5,506.2 469,505.2 469.5,502.1 470,503.7 470.5,505.5 471,505.3 471.5,506.1 472,505.5 472.5,505.4 473,505.5 473.5,505.7 474,506 474.5,504.2 475,502.7 475.5,502.4 476,503.4 476.5,502.5 477,502.7 477.5,504 478,504.1 478.5,504.9 479,506.9 479.5,506.1 480,505.1 480.5,505.2 481,504.9 481.5,506.1 482,507.3 482.5,508 483,507.1 483.5,506.3 484,506.2 484.5,505.8 485,504.4 485.5,502.9 486,504.1 486.5,505.6 487,505.8 487.5,505.2 488,504.4 488.5,503.8 489,503.5 489.5,503.8 490,506.2 490.5,505.2 491,505.1 491.5,505.3 492,504 492.5,503.7 493,504.4 493.5,505.7 494,506.3 494.5,505.2 495,504.7 495.5,504.8 496,505.9 496.5,506.5 497,507.3 497.5,507.7 498,506.7 498.5,505.5 499,505.1 499.5,505.6 500,505.6 500.5,506.1 501,506.2 501.5,505.2 502,505.8 502.5,505.1 503,504.1 503.5,505.8 504,505.4 504.5,504.9 505,506.2 505.5,506.3 506,504.7 506.5,504.5 507,503.9 507.5,504.9 508,505.8 508.5,505.9 509,506.2 509.5,507.6 510,507.2 510.5,506.4 511,506 511.5,505.4 512,504.4 512.5,504 513,504.7 513.5,505.2 514,503.6 514.5,502.5 515,504.5 515.5,504.8 516,505.4 516.5,504.7 517,503.2 517.5,502.9 518,502.9 518.5,502.7 519,505.7 519.5,504.5 520,503.3 520.5,502.8 521,504.2 521.5,505.7 522,506 522.5,504.7 523,505.7 523.5,504.5 524,503.1 524.5,504.6 525,504.1 525.5,504.7 526,504.7 526.5,503.9 527,503.9 527.5,504.5 528,503.4 528.5,503.4 529,505.1 529.5,505.1 530,505.5 530.5,503.4 531,503.8 531.5,504.1 532,503.9 532.5,505.5 533,504.1 533.5,502.6 534,503.7 534.5,503 535,504 535.5,505.6 536,506.7 536.5,504.5 537,503.8 537.5,503.2 538,503.2 538.5,504.7 539,505.5 539.5,504 540,501.5 540.5,503.7 541,503.6 541.5,502.4 542,502.1 542.5,501.8 543,504 543.5,504.3 544,504 544.5,502.8 545,502.6 545.5,504.1 546,504.3 546.5,503.3 547,503.2 547.5,504.5 548,505.6 548.5,504.4 549,503.5 549.5,503.5 550,504.1 550.5,503.7 551,504 551.5,503.9 552,503.2 552.5,504.9 553,505.3 553.5,503 554,502.7 554.5,501.3 555,502.2 555.5,501.4 556,503.8 556.5,503.6 557,501 557.5,500.8 558,501.2 558.5,504.6 559,505.1 559.5,503 560,501.4 560.5,502.2 561,503 561.5,504.3 562,505.2 562.5,504.4 563,503.7 563.5,502.5 564,502.2 564.5,503 565,502.3 565.5,501.2 566,500.2 566.5,500.1 567,500.4 567.5,500.1 568,500.3 568.5,501.3 569,501.3 569.5,502.6 570,503.3 570.5,503.2 571,502.7 571.5,503.8 572,503 572.5,503.5 573,504.3 573.5,504.4 574,506.6 574.5,505.5 575,504.9 575.5,504.7 576,502.6 576.5,504 577,502.9 577.5,501.7 578,501.5 578.5,504 579,503.3 579.5,501.7 580,503.1 580.5,504.2 581,502.7 581.5,502.6 582,501.9 582.5,503 583,505 583.5,503.6 584,503 584.5,503.9 585,502.2 585.5,503.5 586,504.3 586.5,502.9 587,505.1 587.5,507.4 588,506.3 588.5,503.7 589,504 589.5,503.2 590,503.5 590.5,505.2 591,504.3 591.5,503.6 592,503.2 592.5,502 593,501.8 593.5,503 594,503.8 594.5,504.1 595,505.4 595.5,504.5 596,502.9 596.5,503.5 597,505.7 597.5,505.9 598,504.1 598.5,502 599,501.9 599.5,502.9 600,503.9 600.5,504.3 601,503.7 601.5,501.8 602,503.4 602.5,504.8 603,504.2 603.5,503.1 604,502.4 604.5,501.9 605,501.4 605.5,502.6 606,503.8 606.5,503.5 607,504.1 607.5,502.6 608,502.4 608.5,503.4 609,501.9 609.5,501.6 610,501.4 610.5,502.3 611,502 611.5,502.1 612,502.3 612.5,503.1 613,504.8 613.5,506.6 614,508 614.5,505.4 615,504.1 615.5,502.1 616,502 616.5,501.6 617,501.5 617.5,501.3 618,500.4 618.5,499.9 619,499.7 619.5,500.3 620,501 620.5,500.6 621,503.5 621.5,503.6 622,502.3 622.5,503.8 623,503.5 623.5,501.8 624,501.9 624.5,502.8 625,502.2 625.5,502.5 626,502.6 626.5,503.2 627,501.7 627.5,502.7 628,501.7 628.5,502.6 629,503.9 629.5,501.3 630,500.3 630.5,500.3 631,500 631.5,502.7 632,505.6 632.5,503.6 633,503.3 633.5,504.5 634,503.5 634.5,501.3 635,503.4 635.5,505.5 636,504.6 636.5,501.7 637,503 637.5,504.6 638,503.9 638.5,502.4 639,502.7 639.5,502.6 640,501.6 640.5,501.8 641,501.6 641.5,500.8 642,500.8 642.5,501.4 643,503.3 643.5,503.1 644,503.3 644.5,503.2 645,503.2 645.5,502 646,501.7 646.5,500.9 647,502 647.5,501.7 648,499.5 648.5,498.9 649,500.1 649.5,501.5 650,500.7 650.5,499.8 651,499.9 651.5,503.5 652,501.1 652.5,498.5 653,498.7 653.5,501 654,500.7 654.5,500.7 655,500.9 655.5,500.8 656,502.3 656.5,503.7 657,501.8 657.5,502 658,503 658.5,503.6 659,504.4 659.5,503.5 660,502.9 660.5,503 661,501.5 661.5,502.3 662,503.5 662.5,504.2 663,502 663.5,501.4 664,501 664.5,499.8 665,500.3 665.5,500.2 666,500.1 666.5,501.2 667,502.2 667.5,500.7 668,501 668.5,500.6 669,500.2 669.5,501.3 670,502 670.5,501.4 671,500.7 671.5,500.3 672,499.9 672.5,500.9 673,500.6 673.5,499.9 674,499.8 674.5,500.2 675,499.2 675.5,499.2 676,499.6 676.5,502.4 677,503.1 677.5,501.4 678,499.8 678.5,500.9 679,502.9 679.5,502.7 680,503.4 680.5,504.8 681,504.6 681.5,503.4 682,502.2 682.5,501.3 683,501.6 683.5,502.5 684,502.6 684.5,501.6 685,500.9 685.5,501.7 686,502.6 686.5,500.8 687,498.6 687.5,499.5 688,500.6 688.5,500.8 689,499 689.5,498.4 690,499 690.5,501.1 691,500.8 691.5,501 692,501 692.5,499.5 693,498.8 693.5,501 694,499.4 694.5,500.6 695,501.6 695.5,501.2 696,501.5 696.5,501.5 697,501.5 697.5,500.8 698,498.4 698.5,498.6 699,500.7 699.5,499.8 700,501 700.5,502.6 701,501.4 701.5,499.9 702,500.7 702.5,500.9 703,501 703.5,501.2 704,500.4 704.5,501.2 705,501.9 705.5,500.7 706,501.4 706.5,502.3 707,501.3 707.5,499.3 708,497.4 708.5,498.3 709,500.4 709.5,500.4 710,501.6 710.5,504.2 711,502 711.5,500.4 712,502.1 712.5,502.1 713,500.7 713.5,500.5 714,500.2 714.5,499.4 715,499.1 715.5,501.1 716,501.1 716.5,499.6 717,500 717.5,499.3 718,499.2 718.5,500.7 719,500.7 719.5,500.6 720,501 720.5,501.5 721,501.1 721.5,499.9 722,500.4 722.5,500.6 723,499.2 723.5,499.5 724,498.8 724.5,499.7 725,500.7 725.5,500.2 726,499.6 726.5,499 727,498.5 727.5,499.4 728,497.4 728.5,496.2 729,497.3 729.5,497.7 730,498.7 730.5,498 731,496.9 731.5,496.5 732,496.3 732.5,496.4 733,498.6 733.5,500.2 734,498.2 734.5,497.7 735,498.6 735.5,499 736,499.8 736.5,500.8 737,499.8 737.5,499.3 738,498.9 738.5,497.7 739,496.9 739.5,496.1 740,497.2 740.5,497.8 741,498.8 741.5,499 742,497 742.5,499.2 743,500.6 743.5,499.1 744,499.2 744.5,500.6 745,500 745.5,498.9 746,497.5 746.5,497.7 747,499.3 747.5,499.6 748,499.2 748.5,500.4 749,499.9 749.5,497 750,497.6 750.5,498.4 751,500.2 751.5,501.8 752,499.1 752.5,498.6 753,499.7 753.5,498.6 754,499.1 754.5,501 755,502 755.5,502.2 756,501.3 756.5,499.7 757,499.9 757.5,500.8 758,499.8 758.5,499.9 759,499.5 759.5,500.7 760,500.4 760.5,498.6 761,498.9 761.5,499.8 762,500.7 762.5,499.2 763,497.3 763.5,498.7 764,499 764.5,498.2 765,500.2 765.5,499.9 766,497.7 766.5,497.4 767,495.8 767.5,496.4 768,496.9 768.5,497.9 769,498.6 769.5,498.2 770,497.2 770.5,497 771,497.4 771.5,497.2 772,498.2 772.5,497.1 773,496.8 773.5,497.4 774,497.2 774.5,498.5 775,498.8 775.5,497.9 776,496.6 776.5,497.3 777,497.8 777.5,498.3 778,498.3 778.5,497.8 779,497.7 779.5,497.5 780,496.9 780.5,497.2 781,497.3 781.5,497.5 782,497.5 782.5,500.2 783,500.3 783.5,499 784,498.2 784.5,498.8 785,498.8 785.5,499.8 786,499.3 786.5,498.2 787,496.5 787.5,497.5 788,498.5 788.5,497.7 789,498.6 789.5,500.4 790,500.7 790.5,497.9 791,495.6 791.5,498.2 792,499.1 792.5,498 793,499.7 793.5,499.9 794,500.6 794.5,499.5 795,498.7 795.5,498.1 796,499.4 796.5,499.2 797,498.5 797.5,499.2 798,499.2 798.5,500.7 799,500.1 799.5,499 800,499.3 800.5,500.7 801,499.7 801.5,498.9 802,498.1 802.5,499.3 803,498.9 803.5,497.7 804,497.9 804.5,499.7 805,499.6 805.5,500 806,500.6 806.5,501.5 807,501 807.5,499 808,497.9 808.5,496.7 809,498.3 809.5,498.5 810,497.1 810.5,498 811,498.5 811.5,498.4 812,498.2 812.5,497.3 813,498.8 813.5,500.7 814,499 814.5,497.8 815,498.4 815.5,499.3 816,497.9 816.5,499.4 817,498.2 817.5,498.6 818,498.6 818.5,497.1 819,497.5 819.5,498.5 820,497.3 820.5,496 821,497.1 821.5,496.6 822,497.6 822.5,497.1 823,496.2 823.5,498.1 824,498.7 824.5,499.3 825,498.5 825.5,497 826,496.3 826.5,497.6 827,497.6 827.5,497.4 828,496 828.5,496.6 829,498.9 829.5,500.5 830,502.2 830.5,501.1 831,498.9 831.5,499.7 832,498.5 832.5,497.2 833,498.6 833.5,497.8 834,497 834.5,497.3 835,498.2 835.5,498.2 836,498.2 836.5,498.9 837,499.2 837.5,498.1 838,497.9 838.5,498.7 839,499.2 839.5,499.9 840,499.3 840.5,496.5 841,498.7 841.5,499.4 842,499.1 842.5,497.5 843,498.5 843.5,500.4 844,500.9 844.5,500.4 845,499 845.5,497.8 846,497.8 846.5,496.7 847,497.6 847.5,497.7 848,498.4 848.5,499.1 849,500 849.5,500.3 850,500 850.5,499.7 851,499.9 851.5,500.5 852,498.9 852.5,497.7 853,497.5 853.5,498.7 854,500.1 854.5,500.6 855,499 855.5,498.8 856,498.2 856.5,497.9 857,496.4 857.5,497.3 858,497 858.5,495 859,495.7 859.5,496 860,497.3 860.5,498.3 861,498.7 861.5,499.4 862,499.6 862.5,499.8 863,499.6 863.5,499.7 864,498.7 864.5,499.6 865,498.8 865.5,498.7 866,499.2 866.5,499.5 867,499.5 867.5,498.3 868,497.8 868.5,496.3 869,496.5 869.5,499 870,498.5 870.5,498.6 871,497.8 871.5,497 872,499 872.5,499.9 873,500.4 873.5,500.7 874,499.2 874.5,498.7 875,498.1 875.5,498 876,497.6 876.5,497.4 877,497.7 877.5,498 878,497.1 878.5,496.8 879,496.4 879.5,495.9 880,496.6 880.5,497.8 881,499 881.5,499.9 882,499.6 882.5,498.4 883,497.8 883.5,497.9 884,497.7 884.5,497.2 885,498.5 885.5,498.4 886,497.8 886.5,497.7 887,500 887.5,500.1 888,498.3 888.5,499.5 889,498.5 889.5,497.8 890,496 890.5,497.2 891,498.3 891.5,497.8 892,498.4 892.5,498.2 893,499.2 893.5,499.6 894,497.2 894.5,496.8 895,495.6 895.5,494.3 896,495.3 896.5,497.1 897,497.8 897.5,497.5 898,496.9 898.5,496.2 899,495.9 899.5,496.7 900,496.4 900.5,495.8 901,498.4 901.5,497.8 902,497.1 902.5,498.9 903,499.8 903.5,500.2 904,497.7 904.5,496.9 905,498 905.5,497.4 906,498.1 906.5,497.1 907,494.8 907.5,494.5 908,495.7 908.5,498.4 909,499 909.5,498.3 910,497.1 910.5,497.1 911,495 911.5,497.7 912,499.5 912.5,500.6 913,500 913.5,498.5 914,498.6 914.5,498.1 915,498.4 915.5,499.6 916,502 916.5,499.3 917,498.3 917.5,499.5 918,500.5 918.5,498.6 919,499.8 919.5,499.5 920,497.5 920.5,498.1 921,499.3 921.5,495.9 922,494.8 922.5,494.7 923,496.1 923.5,497.2 924,496.9 924.5,498 925,498.6 925.5,498.7 926,497.9 926.5,497.4 927,497.4 927.5,498.8 928,498.6 928.5,498.5 929,497.1 929.5,497.4 930,497.3 930.5,496.4 931,496.4 931.5,495.6 932,497.3 932.5,500.3 933,498.6 933.5,497 934,499 934.5,500.6 935,501.2 935.5,500.2 936,499.9 936.5,498.9 937,497.9 937.5,498.5 938,497.9 938.5,497.6 939,499.7 939.5,498.2 940,496.8 940.5,497.6 941,499 941.5,498.1 942,498 942.5,499.5 943,498.7 943.5,499.5 944,499.1 944.5,498.7 945,500.1 945.5,500.2 946,499.7 946.5,498.7 947,496.9 947.5,494.4 948,496.4 948.5,497.9 949,499.7 949.5,500.9 950,499.6 950.5,500.3 951,498.7 951.5,499 952,498.4 952.5,496.3 953,498.1 953.5,496.5 954,496.2 954.5,495.8 955,495.6 955.5,495.4 956,496.9 956.5,498.4 957,497 957.5,498.3 958,498.6 958.5,498.6 959,498.5 959.5,498.7 960,498 960.5,495.7 961,495.3 961.5,497.6 962,498.3 962.5,498.7 963,497.2 963.5,496 964,494.7 964.5,494.1 965,496.7 965.5,498.3 966,497.3 966.5,497.9 967,497.6 967.5,495.9 968,496.9 968.5,496.8 969,498.2 969.5,499 970,498.4 970.5,498.8 971,500.4 971.5,500.7 972,497.7 972.5,496.9 973,496.5 973.5,496.4 974,497.5 974.5,497.4 975,498.8 975.5,498.9 976,497.1 976.5,495.9 977,496.8 977.5,496.8 978,496.7 978.5,498 979,496.7 979.5,495.7 980,496.3 980.5,495.4 981,496.9 981.5,496.9 982,497.6 982.5,496.1 983,494.1 983.5,494.7 984,495.7 984.5,495.2 985,495.4 985.5,495.5 986,493.8 986.5,493.8 987,493.9 987.5,495.2 988,496.1 988.5,495.2 989,494.2 989.5,494.6 990,495.2 990.5,496.4 991,496.9 991.5,497 992,496.8 992.5,495.2 993,494.4 993.5,495 994,497.4 994.5,497.4 995,496.7 995.5,497.8 996,497.2 996.5,496.6 997,496.4 997.5,497.4 998,497.7 998.5,497.3 999,496.5 999.5,496.2 1000,496.1 1000.5,494.9 1001,493.1 1001.5,494.6 1002,495.6 1002.5,496.2"/>
</g>
<g stroke-width="7.0" stroke-linecap="round">
<line x1="206.25" y1="48.1" x2="249.9" y2="48.1" stroke="#00B0F0"/>
<line x1="447.5" y1="48.1" x2="491.15" y2="48.1" stroke="#000000"/>
<line x1="206.25" y1="91.8" x2="249.9" y2="91.8" stroke="#C00000"/>
<line x1="447.5" y1="91.8" x2="491.15" y2="91.8" stroke="#FF0000"/>
<line x1="206.25" y1="135.5" x2="249.9" y2="135.5" stroke="#FF5A5A"/>
<line x1="447.5" y1="135.5" x2="491.15" y2="135.5" stroke="#FF7C80"/>
<line x1="206.25" y1="179.2" x2="249.9" y2="179.2" stroke="#FF99FF"/>
<line x1="447.5" y1="179.2" x2="491.15" y2="179.2" stroke="#FFCC99"/>
<line x1="206.25" y1="222.9" x2="249.9" y2="222.9" stroke="#FFCCCC"/>
<line x1="447.5" y1="222.9" x2="491.15" y2="222.9" stroke="#FFCCFF"/>
<line x1="206.25" y1="266.6" x2="249.9" y2="266.6" stroke="#BFBFBF"/>
<line x1="447.5" y1="266.6" x2="491.15" y2="266.6" stroke="#A6A6A6"/>
</g>
<g class="lg">
<text x="255.3" y="59.6">AuNPs</text>
<text x="496.3" y="59.6">G 1 µM</text>
<text x="255.3" y="103.3">A 1µM</text>
<text x="496.3" y="103.3">A 750nM</text>
<text x="255.3" y="147.0">A 500nM</text>
<text x="496.3" y="147.0">A 250nM</text>
<text x="255.3" y="190.7">A 100nM</text>
<text x="496.3" y="190.7">A 50nM</text>
<text x="255.3" y="234.4">A 30nM</text>
<text x="496.3" y="234.4">A 10nM</text>
<text x="255.3" y="278.1">A 5nM</text>
<text x="496.3" y="278.1">A 1nM</text>
</g>
<g class="tk" text-anchor="end">
<text transform="translate(132.8 523.2) scale(0.99 1)">0</text>
<text transform="translate(132.8 441.4) scale(0.99 1)">0.1</text>
<text transform="translate(132.8 359.6) scale(0.99 1)">0.2</text>
<text transform="translate(132.8 277.8) scale(0.99 1)">0.3</text>
<text transform="translate(132.8 196.1) scale(0.99 1)">0.4</text>
<text transform="translate(132.8 114.3) scale(0.99 1)">0.5</text>
<text transform="translate(132.8 32.5) scale(0.99 1)">0.6</text>
</g>
<g class="tk" text-anchor="middle">
<text transform="translate(167.3 571.4) scale(0.99 1)">0</text>
<text transform="translate(376.2 571.4) scale(0.99 1)">10</text>
<text transform="translate(585.0 571.4) scale(0.99 1)">20</text>
<text transform="translate(793.9 571.4) scale(0.99 1)">30</text>
<text transform="translate(1002.8 571.4) scale(0.99 1)">40</text>
</g>
<text class="ax" text-anchor="middle" x="537" y="618">Time (min)</text>
<text class="ax ay" text-anchor="middle" transform="translate(38.6 284) rotate(-90)">Reflectivity shift (%)</text>
</svg>
</body></html>
